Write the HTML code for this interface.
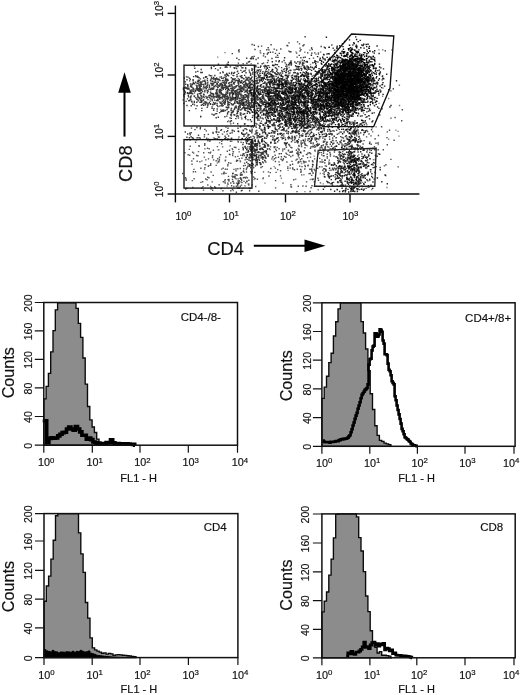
<!DOCTYPE html>
<html lang="en"><head><meta charset="utf-8"><title>CD4 / CD8 flow cytometry</title>
<style>html,body{margin:0;padding:0;background:#fff}body{width:520px;height:695px;overflow:hidden}svg{display:block;filter:grayscale(1)}text{font-family:'Liberation Sans', Arial, Helvetica, sans-serif;fill:#111;stroke:#111;stroke-width:.18px}</style></head><body>
<svg width="520" height="695" viewBox="0 0 520 695">
<rect width="520" height="695" fill="#fff"/>
<g id="scatter">
<path d="M358.0 79.5h1.4M362.2 76.4h1.4M341.6 78.9h1.4M345.8 88.7h1.4M336.2 80.0h1.4M334.0 86.9h1.4M359.7 79.1h1.4M349.0 58.4h1.4M369.7 89.5h1.4M349.0 85.8h1.4M346.3 69.5h1.4M359.1 74.8h1.4M367.4 80.6h1.4M351.7 90.8h1.4M339.2 74.9h1.4M356.3 69.3h1.4M358.4 98.4h1.4M344.4 82.3h1.4M336.8 100.4h1.4M355.3 96.8h1.4M345.3 101.9h1.4M339.6 77.9h1.4M342.6 93.1h1.4M344.5 72.1h1.4M353.8 76.2h1.4M350.9 80.2h1.4M352.3 113.1h1.4M355.1 86.3h1.4M336.0 74.3h1.4M354.6 77.0h1.4M353.4 99.7h1.4M353.0 84.9h1.4M356.5 92.8h1.4M342.6 86.7h1.4M345.5 61.3h1.4M356.2 90.3h1.4M340.6 75.3h1.4M333.8 60.7h1.4M357.9 87.6h1.4M343.5 77.2h1.4M348.1 75.3h1.4M337.9 73.2h1.4M334.1 90.2h1.4M340.2 73.7h1.4M351.9 58.9h1.4M348.5 98.6h1.4M332.4 60.6h1.4M357.8 77.8h1.4M337.4 83.0h1.4M347.7 48.8h1.4M359.4 69.2h1.4M345.6 93.0h1.4M336.7 72.8h1.4M369.4 74.5h1.4M341.9 77.8h1.4M355.2 69.2h1.4M352.1 78.9h1.4M365.8 72.3h1.4M351.3 57.6h1.4M357.4 88.8h1.4M344.4 73.0h1.4M359.2 86.3h1.4M343.9 74.0h1.4M343.0 92.1h1.4M365.9 89.7h1.4M352.7 80.8h1.4M354.6 66.0h1.4M375.1 68.1h1.4M349.2 95.6h1.4M340.2 85.9h1.4M359.5 70.9h1.4M332.7 100.6h1.4M359.2 86.3h1.4M361.2 81.7h1.4M349.6 59.7h1.4M347.1 67.0h1.4M351.0 82.2h1.4M349.3 82.3h1.4M340.7 78.4h1.4M361.0 59.0h1.4M330.3 78.1h1.4M345.5 80.4h1.4M348.0 71.9h1.4M347.6 78.4h1.4M352.6 80.8h1.4M335.3 89.0h1.4M355.9 79.1h1.4M347.3 82.8h1.4M348.6 60.7h1.4M340.2 65.6h1.4M339.6 74.9h1.4M356.1 69.7h1.4M340.5 79.6h1.4M354.8 63.9h1.4M360.2 80.2h1.4M362.0 72.4h1.4M360.3 98.2h1.4M349.0 72.3h1.4M334.6 96.8h1.4M352.8 106.5h1.4M352.3 82.2h1.4M357.7 92.0h1.4M351.2 75.4h1.4M369.3 51.2h1.4M355.4 90.4h1.4M354.9 87.4h1.4M355.8 76.1h1.4M355.9 72.0h1.4M352.0 80.4h1.4M351.9 80.7h1.4M362.0 70.8h1.4M347.6 69.5h1.4M362.8 95.2h1.4M349.2 78.3h1.4M359.7 79.5h1.4M346.0 91.0h1.4M349.1 73.5h1.4M366.2 93.7h1.4M351.1 64.1h1.4M339.5 71.8h1.4M344.3 74.6h1.4M345.5 84.4h1.4M369.9 84.3h1.4M345.4 104.1h1.4M355.1 94.6h1.4M342.6 70.3h1.4M346.3 106.1h1.4M359.6 68.1h1.4M360.9 104.7h1.4M346.8 65.9h1.4M353.1 90.0h1.4M356.0 68.1h1.4M341.6 73.3h1.4M345.0 97.5h1.4M352.4 60.6h1.4M334.2 53.0h1.4M355.8 79.8h1.4M354.5 82.4h1.4M345.9 78.5h1.4M334.8 86.9h1.4M367.9 66.8h1.4M351.0 85.2h1.4M359.7 80.7h1.4M360.7 91.3h1.4M343.5 84.4h1.4M353.5 96.2h1.4M352.7 60.5h1.4M349.4 79.4h1.4M353.1 64.7h1.4M350.5 77.3h1.4M358.3 89.3h1.4M350.5 82.1h1.4M347.1 84.4h1.4M348.0 76.7h1.4M352.3 83.2h1.4M341.2 79.2h1.4M341.1 94.2h1.4M347.2 87.9h1.4M351.1 54.5h1.4M347.1 86.0h1.4M341.2 89.7h1.4M370.1 78.0h1.4M367.6 62.4h1.4M349.5 97.6h1.4M349.3 80.1h1.4M368.4 91.1h1.4M347.3 101.3h1.4M352.3 67.7h1.4M353.2 78.6h1.4M353.6 77.3h1.4M360.8 90.8h1.4M351.9 71.5h1.4M367.9 89.7h1.4M341.9 77.2h1.4M353.0 93.7h1.4M337.1 90.9h1.4M371.8 64.6h1.4M345.7 83.3h1.4M351.0 73.6h1.4M358.9 80.2h1.4M360.5 86.3h1.4M338.5 81.4h1.4M349.5 68.4h1.4M336.6 78.0h1.4M351.2 79.8h1.4M349.6 77.0h1.4M351.4 61.3h1.4M346.6 66.9h1.4M348.3 71.6h1.4M341.7 83.0h1.4M350.5 96.8h1.4M367.7 68.8h1.4M336.2 60.2h1.4M348.9 79.0h1.4M348.6 69.4h1.4M357.7 68.5h1.4M344.7 64.3h1.4M352.4 65.1h1.4M339.4 80.9h1.4M362.2 59.5h1.4M347.1 94.0h1.4M352.0 65.9h1.4M355.6 72.0h1.4M351.3 65.5h1.4M342.8 49.2h1.4M361.2 59.6h1.4M349.1 93.1h1.4M343.2 99.1h1.4M362.4 69.3h1.4M358.1 93.7h1.4M340.4 75.0h1.4M346.3 64.6h1.4M359.0 102.7h1.4M356.1 108.5h1.4M344.6 72.3h1.4M339.8 74.0h1.4M343.8 79.1h1.4M346.1 75.8h1.4M333.0 84.8h1.4M345.5 97.3h1.4M338.2 76.5h1.4M336.0 87.2h1.4M353.2 101.2h1.4M346.0 69.2h1.4M349.6 78.1h1.4M357.7 73.7h1.4M354.5 92.4h1.4M345.1 85.3h1.4M347.4 90.6h1.4M339.8 87.0h1.4M367.2 79.2h1.4M353.7 89.3h1.4M341.6 70.1h1.4M351.7 73.1h1.4M364.1 52.8h1.4M350.0 96.8h1.4M370.4 70.4h1.4M362.8 82.0h1.4M345.5 76.4h1.4M344.6 96.2h1.4M337.1 80.3h1.4M355.4 68.4h1.4M351.6 78.9h1.4M375.6 83.1h1.4M350.4 81.5h1.4M335.3 57.3h1.4M344.3 76.1h1.4M343.8 106.5h1.4M336.6 83.4h1.4M335.7 101.0h1.4M335.8 119.0h1.4M351.8 85.3h1.4M353.6 59.7h1.4M342.5 74.7h1.4M353.6 94.7h1.4M342.3 88.4h1.4M349.9 61.5h1.4M338.4 72.1h1.4M343.5 74.9h1.4M356.3 79.8h1.4M335.8 73.0h1.4M352.7 66.8h1.4M359.0 72.1h1.4M347.8 73.8h1.4M349.1 91.7h1.4M342.0 68.1h1.4M360.1 89.6h1.4M364.4 65.9h1.4M348.2 94.7h1.4M333.9 75.0h1.4M340.9 75.0h1.4M354.8 97.2h1.4M372.2 59.3h1.4M358.3 59.2h1.4M360.3 86.6h1.4M347.6 65.9h1.4M350.1 72.1h1.4M341.4 111.6h1.4M355.3 75.3h1.4M336.3 74.5h1.4M359.4 78.7h1.4M358.9 94.8h1.4M339.0 78.2h1.4M337.4 76.5h1.4M357.9 62.9h1.4M345.7 71.5h1.4M328.7 71.7h1.4M363.3 59.6h1.4M350.0 85.1h1.4M344.8 81.4h1.4M363.5 106.4h1.4M357.3 57.4h1.4M347.0 63.1h1.4M354.6 65.8h1.4M343.3 66.2h1.4M343.9 74.2h1.4M354.8 75.6h1.4M344.5 79.4h1.4M345.7 79.0h1.4M366.0 80.9h1.4M363.7 59.9h1.4M359.8 72.2h1.4M355.1 79.6h1.4M352.9 86.2h1.4M361.6 89.4h1.4M355.9 56.6h1.4M369.3 75.5h1.4M342.0 74.3h1.4M347.0 81.4h1.4M334.0 88.6h1.4M347.1 77.5h1.4M358.3 67.4h1.4M362.4 86.2h1.4M343.6 78.8h1.4M349.8 80.4h1.4M347.6 75.2h1.4M338.2 96.5h1.4M338.8 77.6h1.4M348.1 88.8h1.4M337.7 61.7h1.4M348.8 87.8h1.4M352.7 70.0h1.4M349.8 56.0h1.4M340.1 79.1h1.4M335.7 81.9h1.4M368.3 79.6h1.4M338.2 74.2h1.4M361.3 94.3h1.4M357.6 73.0h1.4M354.2 50.3h1.4M339.0 78.0h1.4M359.4 82.7h1.4M362.7 95.4h1.4M343.0 71.0h1.4M343.4 93.0h1.4M356.3 94.5h1.4M358.1 61.6h1.4M365.7 94.2h1.4M349.0 62.0h1.4M360.8 59.0h1.4M339.9 71.0h1.4M371.7 75.4h1.4M350.6 50.2h1.4M329.6 74.6h1.4M347.3 84.9h1.4M344.5 94.8h1.4M368.2 81.7h1.4M352.6 57.4h1.4M353.7 65.0h1.4M352.7 91.2h1.4M362.1 92.6h1.4M348.2 83.9h1.4M361.1 76.2h1.4M354.5 81.5h1.4M348.5 74.0h1.4M352.2 73.8h1.4M349.7 81.5h1.4M342.0 75.8h1.4M362.4 77.8h1.4M337.5 75.2h1.4M363.0 73.8h1.4M365.8 55.5h1.4M351.7 69.6h1.4M343.7 74.9h1.4M342.5 98.9h1.4M356.2 73.6h1.4M350.5 104.7h1.4M348.2 96.6h1.4M362.6 68.8h1.4M347.9 66.9h1.4M352.1 80.0h1.4M330.1 95.9h1.4M356.2 84.2h1.4M349.5 86.7h1.4M348.9 68.2h1.4M369.0 50.9h1.4M357.6 76.4h1.4M321.9 80.7h1.4M346.8 92.9h1.4M337.0 74.7h1.4M359.7 82.4h1.4M369.3 98.6h1.4M346.1 74.7h1.4M347.2 92.7h1.4M352.1 62.4h1.4M357.4 64.5h1.4M360.2 64.9h1.4M360.7 86.8h1.4M343.2 68.4h1.4M364.5 83.1h1.4M340.6 80.3h1.4M351.9 82.6h1.4M356.6 97.3h1.4M352.0 98.1h1.4M344.7 64.8h1.4M343.4 78.3h1.4M347.0 73.5h1.4M353.5 64.3h1.4M355.0 102.9h1.4M335.9 84.5h1.4M355.4 76.4h1.4M357.5 73.9h1.4M354.3 83.8h1.4M358.4 65.2h1.4M365.2 78.5h1.4M350.7 94.5h1.4M355.1 91.7h1.4M358.5 68.4h1.4M368.6 75.9h1.4M326.4 97.6h1.4M367.0 63.1h1.4M350.2 69.1h1.4M352.6 59.3h1.4M340.3 80.1h1.4M332.3 76.8h1.4M343.1 91.3h1.4M353.1 42.7h1.4M354.4 81.0h1.4M342.5 53.2h1.4M361.4 89.5h1.4M353.6 76.0h1.4M342.4 98.7h1.4M342.7 80.7h1.4M346.7 62.7h1.4M335.8 91.0h1.4M349.3 62.2h1.4M351.7 73.1h1.4M345.2 90.7h1.4M335.8 80.6h1.4M346.5 82.8h1.4M342.1 75.9h1.4M350.1 84.9h1.4M364.7 92.9h1.4M355.2 83.0h1.4M344.0 90.1h1.4M331.1 90.3h1.4M337.3 74.6h1.4M338.1 61.8h1.4M351.8 99.2h1.4M343.5 75.6h1.4M348.8 86.1h1.4M341.4 88.7h1.4M354.3 66.6h1.4M361.6 87.7h1.4M349.4 56.3h1.4M344.6 86.8h1.4M344.5 70.5h1.4M357.7 82.6h1.4M338.5 84.8h1.4M342.2 67.1h1.4M337.2 76.1h1.4M339.7 66.2h1.4M354.7 79.3h1.4M370.3 98.0h1.4M341.0 76.4h1.4M359.4 79.2h1.4M356.2 65.6h1.4M337.2 86.6h1.4M347.8 77.3h1.4M342.3 99.4h1.4M346.4 67.3h1.4M364.4 96.3h1.4M326.7 96.4h1.4M353.8 79.2h1.4M357.4 63.9h1.4M339.9 96.0h1.4M348.1 92.1h1.4M356.0 89.4h1.4M348.0 92.6h1.4M355.7 73.6h1.4M354.0 89.7h1.4M329.3 81.9h1.4M366.1 73.5h1.4M368.8 93.0h1.4M361.0 74.3h1.4M356.4 92.7h1.4M333.3 89.8h1.4M343.0 101.1h1.4M349.6 51.2h1.4M344.0 80.2h1.4M360.2 76.7h1.4M343.0 75.9h1.4M349.9 75.1h1.4M333.2 72.2h1.4M355.7 52.2h1.4M347.7 91.3h1.4M338.6 96.1h1.4M340.4 88.9h1.4M363.1 99.5h1.4M342.0 64.8h1.4M343.7 64.2h1.4M339.7 88.0h1.4M356.6 98.6h1.4M368.5 87.3h1.4M358.4 60.2h1.4M334.1 112.5h1.4M348.4 69.6h1.4M356.5 94.1h1.4M345.8 61.7h1.4M360.1 95.1h1.4M362.5 84.7h1.4M345.9 97.3h1.4M353.0 91.8h1.4M362.2 61.3h1.4M367.6 70.6h1.4M339.4 80.2h1.4M358.3 91.8h1.4M340.4 101.3h1.4M342.1 80.7h1.4M351.3 78.2h1.4M348.2 78.1h1.4M341.1 76.3h1.4M331.9 88.2h1.4M341.6 76.0h1.4M363.7 81.6h1.4M373.0 65.5h1.4M363.0 54.8h1.4M360.9 82.2h1.4M343.1 86.2h1.4M349.6 78.2h1.4M351.0 86.1h1.4M338.0 84.5h1.4M341.2 75.8h1.4M347.7 91.3h1.4M349.7 68.8h1.4M340.4 76.2h1.4M354.9 75.2h1.4M347.4 79.2h1.4M357.3 89.5h1.4M347.1 89.8h1.4M346.9 79.9h1.4M349.8 85.0h1.4M349.7 74.0h1.4M344.4 75.9h1.4M342.1 94.3h1.4M357.6 78.5h1.4M351.7 96.6h1.4M360.1 88.7h1.4M333.9 77.2h1.4M339.6 103.6h1.4M347.0 75.3h1.4M352.6 76.0h1.4M345.8 78.4h1.4M344.3 81.8h1.4M356.4 84.3h1.4M348.7 90.7h1.4M338.9 78.1h1.4M360.8 88.0h1.4M360.0 78.8h1.4M341.0 91.8h1.4M359.0 76.5h1.4M344.3 73.8h1.4M360.3 82.1h1.4M347.0 82.7h1.4M345.1 68.3h1.4M341.3 98.3h1.4M345.1 69.6h1.4M353.1 74.8h1.4M353.1 74.2h1.4M352.2 72.6h1.4M343.1 84.7h1.4M316.0 71.9h1.4M353.6 69.4h1.4M334.6 67.2h1.4M353.5 75.4h1.4M355.6 100.0h1.4M354.9 71.2h1.4M351.0 61.3h1.4M352.4 63.9h1.4M350.1 74.1h1.4M340.0 96.5h1.4M348.4 63.8h1.4M341.5 77.1h1.4M352.6 113.4h1.4M351.7 72.5h1.4M354.1 99.3h1.4M343.7 93.8h1.4M348.9 86.0h1.4M353.4 60.5h1.4M353.5 83.5h1.4M359.0 76.0h1.4M358.8 55.3h1.4M349.9 55.1h1.4M343.0 76.9h1.4M364.9 84.7h1.4M343.5 93.3h1.4M345.4 85.8h1.4M365.4 75.6h1.4M361.9 75.0h1.4M355.8 77.4h1.4M350.3 63.5h1.4M369.4 93.4h1.4M353.9 79.2h1.4M358.1 69.3h1.4M351.0 69.5h1.4M341.3 60.1h1.4M339.6 69.0h1.4M353.2 82.5h1.4M355.4 73.7h1.4M344.8 90.0h1.4M334.0 96.0h1.4M339.3 66.4h1.4M347.3 77.4h1.4M338.2 69.9h1.4M352.8 101.8h1.4M359.8 85.1h1.4M374.4 92.3h1.4M355.5 90.9h1.4M337.2 105.4h1.4M341.3 79.7h1.4M322.0 57.3h1.4M346.4 71.1h1.4M346.8 84.9h1.4M359.3 80.1h1.4M358.8 69.1h1.4M346.3 114.9h1.4M352.0 79.6h1.4M358.5 72.0h1.4M366.2 72.2h1.4M346.7 52.7h1.4M350.3 61.6h1.4M338.9 70.0h1.4M366.4 77.5h1.4M365.2 70.4h1.4M355.5 86.4h1.4M339.4 75.1h1.4M355.3 66.1h1.4M355.2 51.4h1.4M350.7 79.8h1.4M348.6 77.7h1.4M356.0 76.2h1.4M351.6 59.0h1.4M358.2 80.0h1.4M357.8 58.9h1.4M344.4 89.4h1.4M348.8 79.7h1.4M345.8 79.0h1.4M360.7 69.2h1.4M351.7 63.2h1.4M347.9 97.9h1.4M343.7 88.5h1.4M338.0 69.5h1.4M356.5 88.3h1.4M335.5 94.8h1.4M360.4 65.6h1.4M356.1 72.1h1.4M337.0 67.0h1.4M340.2 81.4h1.4M349.4 62.8h1.4M342.1 78.6h1.4M343.5 60.3h1.4M354.1 91.2h1.4M345.3 88.0h1.4M354.8 75.8h1.4M344.1 85.6h1.4M355.7 69.4h1.4M344.5 72.3h1.4M347.0 89.5h1.4M356.1 78.0h1.4M349.7 82.2h1.4M349.5 64.4h1.4M338.3 83.1h1.4M350.5 83.6h1.4M357.9 62.6h1.4M356.0 47.7h1.4M350.4 49.5h1.4M355.7 78.0h1.4M374.0 80.7h1.4M353.1 56.8h1.4M353.2 80.0h1.4M350.6 91.2h1.4M327.4 69.7h1.4M353.2 71.9h1.4M341.1 86.6h1.4M357.5 102.4h1.4M343.1 95.6h1.4M345.7 66.9h1.4M345.8 86.9h1.4M351.5 79.8h1.4M346.1 73.4h1.4M352.2 69.3h1.4M336.9 78.5h1.4M350.2 70.4h1.4M354.5 91.0h1.4M367.3 87.1h1.4M353.4 92.6h1.4M356.9 63.4h1.4M361.3 80.8h1.4M357.3 89.6h1.4M364.5 86.2h1.4M359.7 83.1h1.4M351.9 68.1h1.4M347.3 98.9h1.4M348.5 91.5h1.4M352.0 83.2h1.4M361.2 45.0h1.4M346.7 63.1h1.4M330.8 73.8h1.4M346.8 66.6h1.4M339.1 45.7h1.4M350.3 80.7h1.4M349.3 82.3h1.4M339.4 57.6h1.4M358.5 72.7h1.4M360.8 70.9h1.4M349.6 84.4h1.4M372.5 56.5h1.4M373.6 59.8h1.4M341.4 67.2h1.4M362.4 71.1h1.4M347.5 105.0h1.4M356.6 70.2h1.4M358.4 82.3h1.4M345.4 70.1h1.4M347.4 67.1h1.4M341.7 79.9h1.4M337.7 97.7h1.4M350.9 72.5h1.4M334.6 83.6h1.4M339.8 79.2h1.4M353.7 86.8h1.4M348.7 81.8h1.4M345.9 108.6h1.4M337.4 57.0h1.4M344.2 72.3h1.4M349.3 61.6h1.4M357.7 51.8h1.4M345.2 75.8h1.4M352.8 103.3h1.4M346.8 89.0h1.4M346.4 93.3h1.4M348.9 84.1h1.4M357.3 78.2h1.4M339.2 102.4h1.4M362.0 75.8h1.4M349.4 98.3h1.4M353.0 74.0h1.4M350.5 79.0h1.4M354.2 82.9h1.4M359.6 80.9h1.4M357.3 86.9h1.4M351.8 86.4h1.4M352.7 101.6h1.4M351.5 78.2h1.4M368.4 56.5h1.4M357.2 51.6h1.4M336.1 55.2h1.4M365.2 71.6h1.4M349.1 86.6h1.4M344.8 55.8h1.4M348.5 77.7h1.4M342.1 76.2h1.4M368.8 86.5h1.4M355.4 77.5h1.4M334.6 79.3h1.4M355.2 79.9h1.4M343.1 90.7h1.4M366.8 87.1h1.4M348.8 45.2h1.4M329.6 72.9h1.4M350.3 80.8h1.4M349.2 69.7h1.4M349.2 67.2h1.4M327.0 86.8h1.4M353.7 81.3h1.4M369.1 69.6h1.4M333.9 69.3h1.4M361.7 78.8h1.4M350.7 55.8h1.4M369.7 92.1h1.4M354.8 77.5h1.4M347.0 83.8h1.4M365.9 60.8h1.4M348.5 104.2h1.4M342.7 84.8h1.4M355.2 86.1h1.4M348.1 67.6h1.4M336.2 65.2h1.4M374.0 64.3h1.4M341.8 97.2h1.4M347.5 66.2h1.4M352.6 82.2h1.4M333.9 82.3h1.4M340.0 67.1h1.4M342.7 88.3h1.4M338.5 103.3h1.4M349.9 82.5h1.4M355.6 99.8h1.4M343.9 84.8h1.4M356.3 73.9h1.4M357.1 74.9h1.4M346.1 54.1h1.4M351.9 80.7h1.4M336.5 95.2h1.4M357.6 90.0h1.4M351.5 90.6h1.4M346.4 93.4h1.4M339.7 68.5h1.4M349.3 86.2h1.4M336.6 101.4h1.4M359.4 70.1h1.4M349.0 78.7h1.4M344.3 70.8h1.4M359.4 78.4h1.4M359.3 71.0h1.4M345.2 75.5h1.4M365.5 64.2h1.4M349.2 71.2h1.4M349.0 71.6h1.4M353.1 72.5h1.4M338.5 94.6h1.4M345.9 78.6h1.4M348.1 80.5h1.4M365.3 78.6h1.4M359.5 98.9h1.4M353.8 55.6h1.4M365.6 80.1h1.4M345.9 93.2h1.4M348.0 100.7h1.4M357.6 83.3h1.4M352.9 79.4h1.4M370.2 92.8h1.4M353.1 76.9h1.4M337.3 82.9h1.4M364.4 73.5h1.4M344.2 85.9h1.4M347.6 77.3h1.4M326.5 57.4h1.4M368.7 46.4h1.4M354.5 92.7h1.4M356.2 85.5h1.4M356.5 90.9h1.4M368.8 71.4h1.4M346.1 92.4h1.4M357.4 86.1h1.4M343.6 76.1h1.4M343.8 89.4h1.4M356.9 92.6h1.4M352.4 84.7h1.4M330.9 101.6h1.4M348.8 97.2h1.4M347.4 82.4h1.4M343.5 73.6h1.4M353.8 81.0h1.4M340.6 99.6h1.4M334.5 79.7h1.4M343.1 64.4h1.4M368.7 74.6h1.4M336.3 74.8h1.4M349.4 89.6h1.4M358.3 70.8h1.4M354.3 86.6h1.4M335.2 89.7h1.4M344.7 87.2h1.4M356.9 59.0h1.4M358.6 76.6h1.4M348.6 60.8h1.4M338.1 80.9h1.4M363.0 67.7h1.4M358.5 88.1h1.4M353.3 80.5h1.4M353.6 43.6h1.4M356.9 68.5h1.4M349.8 84.3h1.4M357.9 80.7h1.4M340.2 70.2h1.4M355.8 62.0h1.4M347.3 83.5h1.4M334.2 97.5h1.4M351.5 81.7h1.4M350.9 77.4h1.4M347.1 75.1h1.4M358.7 61.3h1.4M338.6 69.9h1.4M352.8 66.8h1.4M350.6 92.9h1.4M356.1 66.9h1.4M367.7 52.8h1.4M342.2 64.5h1.4M337.5 70.5h1.4M353.2 76.1h1.4M360.9 55.3h1.4M366.7 94.8h1.4M355.8 80.5h1.4M344.1 69.4h1.4M360.5 69.8h1.4M341.2 81.1h1.4M337.9 69.8h1.4M373.5 87.5h1.4M353.9 76.7h1.4M356.6 81.0h1.4M351.7 93.8h1.4M367.1 82.2h1.4M356.2 66.8h1.4M358.3 93.1h1.4M340.2 78.1h1.4M340.0 65.4h1.4M359.9 95.0h1.4M364.7 78.7h1.4M351.5 92.6h1.4M356.5 63.3h1.4M360.1 47.7h1.4M351.3 49.4h1.4M363.9 84.1h1.4M359.1 69.5h1.4M355.6 77.2h1.4M354.3 77.1h1.4M365.5 59.9h1.4M350.5 95.9h1.4M361.0 65.6h1.4M339.6 75.3h1.4M360.1 60.4h1.4M371.2 80.4h1.4M343.4 85.0h1.4M350.3 73.6h1.4M361.3 70.1h1.4M359.4 79.4h1.4M357.9 72.7h1.4M333.8 80.3h1.4M347.6 106.6h1.4M342.8 62.9h1.4M345.4 66.4h1.4M356.0 76.9h1.4M348.0 75.9h1.4M361.6 66.0h1.4M377.8 91.2h1.4M355.2 88.6h1.4M356.5 81.7h1.4M346.4 59.8h1.4M339.8 94.0h1.4M344.9 59.3h1.4M343.4 84.5h1.4M336.6 89.2h1.4M348.8 59.4h1.4M348.2 78.3h1.4M336.8 92.0h1.4M336.2 78.7h1.4M341.3 62.0h1.4M358.8 63.1h1.4M349.6 83.2h1.4M361.3 74.7h1.4M362.6 70.8h1.4M345.1 85.1h1.4M357.9 74.5h1.4M337.2 74.4h1.4M369.6 90.1h1.4M359.7 86.9h1.4M348.8 76.1h1.4M339.9 74.3h1.4M352.0 85.8h1.4M331.9 78.5h1.4M347.2 61.1h1.4M358.1 76.6h1.4M354.3 66.1h1.4M350.2 60.6h1.4M361.3 72.2h1.4M348.9 45.3h1.4M350.2 89.0h1.4M348.8 65.7h1.4M341.6 79.6h1.4M361.2 54.4h1.4M347.3 52.9h1.4M361.1 107.7h1.4M341.7 88.7h1.4M371.1 73.7h1.4M343.2 64.5h1.4M358.6 69.4h1.4M339.2 75.5h1.4M339.8 68.3h1.4M354.2 69.4h1.4M356.4 80.2h1.4M342.4 61.0h1.4M353.5 109.9h1.4M345.4 67.3h1.4M348.1 91.3h1.4M357.3 65.9h1.4M355.2 81.9h1.4M330.9 84.7h1.4M366.7 76.6h1.4M352.5 90.8h1.4M343.4 88.4h1.4M335.6 95.4h1.4M334.9 73.7h1.4M339.7 67.7h1.4M359.1 65.5h1.4M346.9 78.5h1.4M343.8 61.1h1.4M345.7 76.0h1.4M364.5 82.6h1.4M349.5 69.2h1.4M348.8 62.3h1.4M361.7 85.3h1.4M353.9 81.8h1.4M350.3 79.7h1.4M345.2 74.9h1.4M333.1 85.4h1.4M343.4 61.2h1.4M344.7 81.5h1.4M350.1 70.9h1.4M350.9 89.1h1.4M356.8 74.2h1.4M353.9 72.9h1.4M351.1 83.5h1.4M348.3 48.7h1.4M332.0 67.4h1.4M351.9 53.0h1.4M345.1 62.6h1.4M342.2 84.5h1.4M346.6 81.8h1.4M340.6 68.8h1.4M340.5 74.0h1.4M349.8 76.6h1.4M350.6 81.5h1.4M338.2 99.5h1.4M354.3 81.7h1.4M340.7 105.9h1.4M342.4 70.1h1.4M348.3 87.1h1.4M365.3 91.5h1.4M343.5 78.7h1.4M362.2 76.8h1.4M358.1 99.6h1.4M358.1 104.0h1.4M339.2 89.4h1.4M361.9 109.1h1.4M348.2 90.4h1.4M353.7 56.1h1.4M344.7 90.7h1.4M358.3 70.5h1.4M346.2 95.5h1.4M349.9 73.2h1.4M361.2 84.8h1.4M343.7 76.5h1.4M342.9 67.5h1.4M363.9 56.5h1.4M357.6 76.7h1.4M361.0 78.6h1.4M337.3 87.6h1.4M362.5 72.6h1.4M354.1 81.9h1.4M369.6 71.0h1.4M338.9 75.0h1.4M358.6 55.3h1.4M341.0 102.7h1.4M334.9 77.5h1.4M347.0 64.2h1.4M359.6 84.8h1.4M343.4 86.7h1.4M342.9 79.2h1.4M353.6 97.6h1.4M360.0 78.4h1.4M368.1 48.1h1.4M347.3 60.6h1.4M346.1 91.8h1.4M356.9 91.4h1.4M343.1 81.2h1.4M347.1 62.6h1.4M355.2 90.2h1.4M362.4 90.3h1.4M343.0 63.1h1.4M329.7 59.8h1.4M335.9 78.8h1.4M337.3 89.6h1.4M343.8 97.4h1.4M353.7 88.1h1.4M341.4 106.2h1.4M346.7 66.0h1.4M349.7 86.1h1.4M343.4 68.9h1.4M356.6 53.0h1.4M348.7 60.6h1.4M371.1 99.1h1.4M361.0 68.2h1.4M346.9 60.3h1.4M338.7 84.8h1.4M343.1 88.9h1.4M335.0 74.9h1.4M338.2 96.6h1.4M348.9 56.5h1.4M350.2 111.0h1.4M342.7 90.9h1.4M342.3 79.1h1.4M337.4 77.2h1.4M340.3 72.4h1.4M350.8 73.8h1.4M347.8 79.8h1.4M364.9 65.5h1.4M337.3 103.9h1.4M360.2 80.1h1.4M350.4 87.5h1.4M350.9 75.8h1.4M332.8 69.7h1.4M335.5 86.2h1.4M355.1 87.7h1.4M366.1 70.6h1.4M353.6 73.5h1.4M355.1 88.2h1.4M353.9 49.9h1.4M355.2 46.5h1.4M339.3 94.9h1.4M360.5 76.0h1.4M362.4 45.6h1.4M351.1 66.7h1.4M348.3 73.8h1.4M354.9 81.6h1.4M351.6 85.4h1.4M342.1 78.2h1.4M364.3 88.9h1.4M355.5 68.4h1.4M349.2 82.7h1.4M362.5 86.9h1.4M355.7 95.7h1.4M349.5 77.9h1.4M352.3 90.5h1.4M340.1 77.2h1.4M348.3 62.3h1.4M331.0 67.2h1.4M363.5 73.9h1.4M334.3 68.2h1.4M357.0 78.4h1.4M342.4 77.1h1.4M340.4 79.1h1.4M351.4 67.1h1.4M349.2 92.3h1.4M360.8 61.5h1.4M366.9 81.4h1.4M351.2 88.1h1.4M356.9 86.0h1.4M342.6 84.9h1.4M357.6 77.2h1.4M349.4 87.2h1.4M350.2 61.5h1.4M346.9 87.5h1.4M342.0 107.0h1.4M349.7 87.5h1.4M347.2 104.7h1.4M345.7 76.8h1.4M347.4 61.9h1.4M359.6 70.9h1.4M330.3 90.8h1.4M342.2 85.9h1.4M371.0 58.1h1.4M326.8 66.7h1.4M344.2 75.7h1.4M360.5 65.4h1.4M343.9 41.5h1.4M378.9 67.0h1.4M327.2 69.3h1.4M364.9 76.4h1.4M366.9 73.3h1.4M356.8 87.7h1.4M344.8 90.8h1.4M354.0 77.7h1.4M339.0 87.6h1.4M357.7 80.3h1.4M340.6 73.5h1.4M356.2 46.3h1.4M356.7 91.0h1.4M339.8 76.3h1.4M346.6 78.7h1.4M353.5 72.2h1.4M341.8 60.6h1.4M359.5 86.8h1.4M350.8 89.0h1.4M330.9 95.2h1.4M346.8 89.5h1.4M345.3 68.6h1.4M344.6 75.3h1.4M347.7 90.9h1.4M342.7 80.6h1.4M359.5 79.5h1.4M345.8 69.2h1.4M357.4 87.7h1.4M349.2 80.7h1.4M352.0 103.3h1.4M341.5 91.2h1.4M351.5 55.2h1.4M332.3 103.2h1.4M354.6 83.3h1.4M359.9 76.9h1.4M368.6 87.6h1.4M359.5 91.2h1.4M352.6 78.9h1.4M348.5 77.0h1.4M353.8 79.5h1.4M343.7 101.9h1.4M363.4 83.0h1.4M356.2 91.0h1.4M340.9 82.6h1.4M345.0 72.8h1.4M365.3 72.5h1.4M356.5 66.6h1.4M346.6 83.4h1.4M364.6 68.4h1.4M351.0 61.2h1.4M351.9 62.0h1.4M351.1 58.2h1.4M332.0 74.6h1.4M357.8 81.9h1.4M342.3 63.8h1.4M340.5 93.9h1.4M344.4 72.9h1.4M355.3 86.2h1.4M348.6 82.1h1.4M344.6 100.2h1.4M332.0 85.0h1.4M349.6 77.6h1.4M340.1 62.3h1.4M356.8 65.3h1.4M353.6 79.4h1.4M349.7 79.9h1.4M366.3 93.4h1.4M356.7 73.6h1.4M355.1 82.2h1.4M353.9 69.9h1.4M354.9 54.2h1.4M359.3 80.3h1.4M355.4 99.7h1.4M335.6 85.5h1.4M355.1 99.1h1.4M351.0 94.4h1.4M363.9 62.8h1.4M355.6 75.7h1.4M333.8 94.3h1.4M342.0 66.1h1.4M371.6 65.6h1.4M351.6 82.8h1.4M335.1 82.8h1.4M352.5 82.8h1.4M348.2 72.9h1.4M335.8 64.6h1.4M333.6 56.5h1.4M340.0 57.7h1.4M357.1 62.7h1.4M354.8 59.6h1.4M350.5 68.3h1.4M347.8 98.2h1.4M355.6 80.7h1.4M332.3 68.2h1.4M346.4 81.8h1.4M346.1 63.6h1.4M337.9 79.2h1.4M342.2 88.2h1.4M354.4 58.4h1.4M350.4 68.2h1.4M337.9 71.1h1.4M349.3 64.2h1.4M372.7 68.6h1.4M342.0 70.5h1.4M326.4 105.4h1.4M350.7 87.0h1.4M354.4 84.9h1.4M351.3 91.5h1.4M340.9 72.2h1.4M363.8 64.4h1.4M341.6 81.9h1.4M336.1 89.5h1.4M352.0 49.6h1.4M347.9 83.1h1.4M352.7 95.3h1.4M357.1 75.9h1.4M351.8 71.9h1.4M356.6 89.0h1.4M354.0 67.4h1.4M357.0 86.1h1.4M334.4 86.1h1.4M336.7 71.3h1.4M360.3 69.4h1.4M335.5 82.3h1.4M348.9 72.4h1.4M349.3 78.5h1.4M355.9 39.5h1.4M343.9 85.6h1.4M368.1 62.9h1.4M327.1 72.0h1.4M358.2 81.3h1.4M374.1 73.7h1.4M353.8 65.9h1.4M354.8 60.9h1.4M358.3 75.0h1.4M365.2 89.8h1.4M337.7 81.6h1.4M353.1 71.1h1.4M350.8 69.5h1.4M360.5 60.6h1.4M353.4 72.4h1.4M360.3 65.3h1.4M351.9 56.7h1.4M351.5 75.5h1.4M339.2 95.2h1.4M340.3 91.2h1.4M344.2 95.9h1.4M354.8 56.4h1.4M336.8 85.7h1.4M369.2 65.3h1.4M351.3 69.5h1.4M343.8 51.7h1.4M364.1 67.1h1.4M343.3 77.0h1.4M354.5 81.4h1.4M350.6 76.3h1.4M353.4 75.8h1.4M350.2 84.8h1.4M345.1 76.5h1.4M356.5 56.6h1.4M363.2 104.7h1.4M330.9 68.6h1.4M347.9 89.5h1.4M355.1 76.1h1.4M343.8 64.0h1.4M337.7 74.9h1.4M373.0 72.7h1.4M341.5 97.3h1.4M373.4 68.2h1.4M353.3 86.7h1.4M353.4 69.6h1.4M355.5 76.3h1.4M347.3 112.8h1.4M358.7 90.3h1.4M355.3 75.7h1.4M357.3 57.6h1.4M353.1 74.2h1.4M363.8 77.5h1.4M353.1 97.9h1.4M346.3 56.4h1.4M351.0 52.4h1.4M353.6 77.9h1.4M344.0 78.8h1.4M341.4 97.7h1.4M344.8 63.6h1.4M357.5 41.6h1.4M356.9 69.2h1.4M364.0 63.5h1.4M352.5 70.5h1.4M366.1 95.4h1.4M354.5 59.9h1.4M375.5 101.5h1.4M359.0 82.7h1.4M356.0 75.1h1.4M349.0 64.8h1.4M326.0 65.1h1.4M350.4 72.1h1.4M349.5 87.9h1.4M363.6 99.0h1.4M338.1 73.3h1.4M365.5 91.4h1.4M343.6 93.9h1.4M352.7 95.8h1.4M325.5 77.6h1.4M345.3 102.0h1.4M342.6 94.2h1.4M351.0 100.5h1.4M352.0 75.3h1.4M341.4 69.4h1.4M366.2 53.7h1.4M351.6 98.7h1.4M353.6 87.8h1.4M362.9 68.1h1.4M359.8 83.0h1.4M349.2 81.7h1.4M344.0 51.9h1.4M336.6 78.5h1.4M358.8 95.9h1.4M352.4 96.4h1.4M352.6 73.4h1.4M347.6 72.5h1.4M346.0 95.5h1.4M347.3 90.4h1.4M349.3 69.7h1.4M346.1 68.3h1.4M368.1 91.2h1.4M354.8 69.9h1.4M346.9 68.6h1.4M332.3 97.5h1.4M342.8 79.8h1.4M358.6 73.9h1.4M355.5 86.8h1.4M341.0 104.9h1.4M350.0 81.3h1.4M350.3 66.9h1.4M345.9 54.2h1.4M354.8 109.3h1.4M363.1 44.3h1.4M369.3 98.3h1.4M346.9 63.2h1.4M353.6 61.1h1.4M362.0 66.9h1.4M348.8 74.9h1.4M333.7 89.2h1.4M344.0 67.0h1.4M348.9 87.1h1.4M344.8 111.2h1.4M359.5 40.4h1.4M362.2 70.7h1.4M366.0 56.2h1.4M350.3 90.2h1.4M355.9 58.4h1.4M353.7 56.1h1.4M361.0 58.6h1.4M358.9 80.0h1.4M346.9 93.3h1.4M354.0 80.9h1.4M339.8 105.4h1.4M331.6 96.2h1.4M341.6 73.8h1.4M354.1 92.3h1.4M354.0 80.7h1.4M364.7 82.8h1.4M357.8 52.5h1.4M363.0 62.7h1.4M362.5 81.3h1.4M363.8 64.2h1.4M342.2 86.2h1.4M347.6 81.4h1.4M354.9 65.9h1.4M337.1 91.3h1.4M353.9 82.3h1.4M355.3 97.2h1.4M346.5 74.8h1.4M374.3 61.1h1.4M345.2 86.6h1.4M349.4 74.1h1.4M345.2 88.6h1.4M340.0 90.7h1.4M350.0 94.6h1.4M355.8 58.6h1.4M374.0 50.8h1.4M357.8 72.7h1.4M352.9 88.2h1.4M350.9 67.8h1.4M336.4 78.4h1.4M352.5 66.8h1.4M343.7 71.6h1.4M360.2 76.2h1.4M352.3 69.5h1.4M363.8 89.2h1.4M355.8 84.6h1.4M352.2 102.0h1.4M351.1 83.8h1.4M347.4 96.6h1.4M356.0 81.0h1.4M355.6 92.3h1.4M344.3 74.4h1.4M356.6 72.8h1.4M369.6 102.5h1.4M346.8 87.9h1.4M344.9 89.2h1.4M346.8 66.1h1.4M343.2 51.7h1.4M364.4 69.3h1.4M349.8 82.2h1.4M358.4 59.1h1.4M362.1 101.8h1.4M378.8 64.1h1.4M340.1 83.9h1.4M350.5 116.3h1.4M365.5 44.5h1.4M359.7 57.9h1.4M351.3 92.1h1.4M350.9 75.2h1.4M364.4 84.2h1.4M356.5 77.7h1.4M348.5 97.7h1.4M359.6 89.5h1.4M360.4 73.6h1.4M355.5 75.7h1.4M357.7 62.7h1.4M366.9 80.8h1.4M363.4 48.1h1.4M347.2 86.6h1.4M343.6 72.0h1.4M340.7 101.6h1.4M336.5 91.3h1.4M356.2 60.4h1.4M349.6 90.4h1.4M333.6 65.5h1.4M350.5 78.4h1.4M352.8 92.7h1.4M350.8 82.5h1.4M340.0 81.9h1.4M360.5 87.0h1.4M346.8 66.0h1.4M341.5 66.0h1.4M338.6 82.4h1.4M347.2 89.3h1.4M360.5 76.2h1.4M360.9 81.7h1.4M356.0 64.6h1.4M348.8 39.9h1.4M347.4 64.9h1.4M342.2 75.8h1.4M348.3 79.3h1.4M331.2 84.3h1.4M348.4 89.6h1.4M352.9 92.2h1.4M347.8 82.3h1.4M353.2 84.2h1.4M344.5 65.5h1.4M335.8 79.1h1.4M344.0 78.5h1.4M356.9 96.2h1.4M365.7 58.6h1.4M348.1 69.8h1.4M367.8 57.1h1.4M350.3 66.3h1.4M369.6 61.8h1.4M354.1 81.9h1.4M348.9 67.0h1.4M367.3 44.2h1.4M339.1 91.6h1.4M346.0 59.9h1.4M343.1 51.8h1.4M354.3 72.6h1.4M352.7 67.4h1.4M354.3 60.6h1.4M344.4 85.2h1.4M365.2 75.6h1.4M343.5 88.0h1.4M341.4 84.7h1.4M359.7 88.8h1.4M363.0 82.9h1.4M354.1 76.4h1.4M336.2 67.2h1.4M339.9 94.9h1.4M363.2 52.6h1.4M354.8 62.1h1.4M367.4 71.6h1.4M336.7 78.9h1.4M356.4 80.4h1.4M346.7 68.6h1.4M364.1 75.3h1.4M343.8 99.8h1.4M362.6 70.1h1.4M355.0 36.9h1.4M331.0 98.7h1.4M343.9 61.5h1.4M346.3 71.1h1.4M340.7 76.5h1.4M366.4 62.1h1.4M358.5 96.6h1.4M353.6 76.0h1.4M346.3 55.4h1.4M348.7 79.8h1.4M342.7 81.4h1.4M364.3 79.5h1.4M351.8 84.2h1.4M360.5 58.0h1.4M343.6 88.7h1.4M335.2 60.9h1.4M338.9 92.4h1.4M342.7 65.8h1.4M353.5 79.8h1.4M342.1 112.4h1.4M343.1 75.6h1.4M343.1 90.8h1.4M363.3 87.3h1.4M347.2 54.5h1.4M338.1 90.2h1.4M344.6 91.2h1.4M349.3 56.5h1.4M347.0 74.9h1.4M360.9 58.1h1.4M367.6 77.4h1.4M331.0 85.0h1.4M350.1 78.3h1.4M355.3 61.1h1.4M353.1 64.7h1.4M348.8 77.0h1.4M347.6 76.0h1.4M359.3 81.5h1.4M344.2 84.1h1.4M356.3 51.3h1.4M350.5 77.4h1.4M347.4 92.9h1.4M347.2 83.5h1.4M362.3 70.2h1.4M352.7 68.9h1.4M351.6 79.8h1.4M347.6 86.3h1.4M341.4 74.7h1.4M336.9 97.9h1.4M336.2 92.4h1.4M355.1 67.3h1.4M342.2 82.2h1.4M342.1 69.9h1.4M357.1 61.8h1.4M357.7 70.1h1.4M334.4 72.9h1.4M373.6 53.1h1.4M353.2 68.6h1.4M348.3 82.0h1.4M362.9 70.3h1.4M352.6 72.2h1.4M341.9 87.5h1.4M370.9 81.9h1.4M340.0 77.1h1.4M342.5 103.6h1.4M357.7 81.9h1.4M339.7 78.7h1.4M348.0 83.1h1.4M348.1 100.5h1.4M371.3 88.2h1.4M342.2 75.8h1.4M350.4 76.0h1.4M352.5 94.3h1.4M353.5 69.2h1.4M335.1 90.8h1.4M353.4 81.5h1.4M356.2 60.3h1.4M352.1 87.9h1.4M359.0 87.1h1.4M363.7 65.6h1.4M352.9 83.6h1.4M352.3 82.2h1.4M341.2 71.8h1.4M353.0 63.1h1.4M344.6 107.6h1.4M343.8 87.6h1.4M347.8 91.2h1.4M339.0 90.0h1.4M361.5 92.7h1.4M367.2 94.0h1.4M348.0 72.5h1.4M351.0 90.4h1.4M348.8 75.3h1.4M363.5 75.2h1.4M351.9 88.3h1.4M351.7 75.9h1.4M354.3 55.1h1.4M352.8 73.5h1.4M339.0 83.6h1.4M356.5 80.0h1.4M340.7 88.0h1.4M356.4 75.2h1.4M354.8 66.3h1.4M357.6 91.1h1.4M349.6 80.2h1.4M363.9 65.2h1.4M340.3 81.9h1.4M356.8 76.5h1.4M344.8 90.6h1.4M349.4 88.9h1.4M349.3 84.5h1.4M366.7 51.4h1.4M330.5 77.9h1.4M351.6 85.2h1.4M334.8 81.2h1.4M361.0 82.6h1.4M334.7 64.1h1.4M342.0 72.6h1.4M342.3 46.6h1.4M366.3 78.7h1.4M343.7 55.5h1.4M352.5 74.2h1.4M347.7 68.3h1.4M328.9 91.9h1.4M347.0 78.3h1.4M356.3 80.0h1.4M348.0 80.2h1.4M351.6 107.9h1.4M350.3 65.1h1.4M349.2 82.6h1.4M345.4 82.3h1.4M352.8 81.7h1.4M367.1 85.1h1.4M355.2 73.1h1.4M347.8 94.6h1.4M341.6 88.1h1.4M344.6 71.9h1.4M364.4 79.2h1.4M339.0 79.7h1.4M340.1 82.7h1.4M346.7 88.1h1.4M346.4 77.2h1.4M372.6 66.9h1.4M325.1 85.5h1.4M359.1 58.5h1.4M360.0 68.2h1.4M338.6 80.7h1.4M347.3 65.7h1.4M349.3 97.7h1.4M359.4 104.1h1.4M337.5 92.1h1.4M334.6 79.0h1.4M358.3 84.1h1.4M362.7 88.0h1.4M347.8 75.4h1.4M322.7 99.9h1.4M365.6 74.6h1.4M343.7 95.5h1.4M358.5 88.9h1.4M348.7 82.8h1.4M343.0 91.7h1.4M341.6 94.3h1.4M360.5 94.2h1.4M363.6 81.2h1.4M332.9 64.6h1.4M343.9 67.8h1.4M363.3 94.8h1.4M344.4 86.9h1.4M334.8 86.2h1.4M352.1 71.6h1.4M342.4 103.8h1.4M353.9 61.1h1.4M344.4 82.6h1.4M344.9 87.0h1.4M347.5 72.0h1.4M357.2 64.9h1.4M344.2 71.0h1.4M351.5 63.1h1.4M349.6 75.4h1.4M366.8 64.7h1.4M358.3 62.2h1.4M349.1 78.5h1.4M360.4 60.1h1.4M354.8 76.4h1.4M360.8 79.0h1.4M351.9 90.8h1.4M366.0 85.7h1.4M365.6 70.7h1.4M345.5 94.5h1.4M349.0 68.0h1.4M359.8 75.1h1.4M356.2 75.2h1.4M341.9 106.0h1.4M336.6 75.2h1.4M336.0 64.5h1.4M351.0 88.3h1.4M357.9 78.2h1.4M349.6 110.5h1.4M341.0 65.6h1.4M357.7 88.7h1.4M348.6 64.8h1.4M347.6 102.5h1.4M356.7 69.5h1.4M342.3 78.6h1.4M347.9 65.5h1.4M328.2 84.5h1.4M339.9 83.3h1.4M341.8 43.8h1.4M351.6 89.4h1.4M348.6 86.9h1.4M357.9 83.4h1.4M350.2 91.7h1.4M348.8 60.4h1.4M359.7 55.9h1.4M344.5 85.7h1.4M350.1 101.5h1.4M357.5 63.0h1.4M345.3 60.6h1.4" stroke="#000" stroke-opacity="0.95" stroke-width="1.40" fill="none"/>
<path d="M335.6 83.6h1.4M368.2 83.3h1.4M341.4 74.8h1.4M346.6 98.0h1.4M322.3 81.5h1.4M349.1 68.6h1.4M346.5 85.4h1.4M330.8 70.5h1.4M343.5 86.9h1.4M371.9 79.1h1.4M330.1 73.2h1.4M374.8 83.9h1.4M357.3 69.8h1.4M346.6 94.1h1.4M357.2 82.5h1.4M336.8 83.4h1.4M325.3 88.9h1.4M325.7 69.4h1.4M322.9 87.5h1.4M344.5 73.9h1.4M353.7 107.8h1.4M358.0 95.2h1.4M345.2 63.7h1.4M298.9 125.7h1.4M348.4 87.8h1.4M311.2 99.5h1.4M347.8 92.0h1.4M333.8 105.4h1.4M339.6 80.0h1.4M361.3 72.3h1.4M316.5 105.3h1.4M338.0 74.2h1.4M342.0 90.9h1.4M311.9 104.0h1.4M347.3 73.8h1.4M336.6 77.4h1.4M336.2 96.2h1.4M336.9 105.1h1.4M329.8 81.1h1.4M319.2 113.3h1.4M328.7 98.4h1.4M340.4 98.5h1.4M344.2 105.6h1.4M334.4 77.7h1.4M324.7 95.7h1.4M346.2 75.8h1.4M328.3 81.7h1.4M334.8 124.6h1.4M335.9 106.7h1.4M323.6 69.9h1.4M358.2 85.5h1.4M345.6 76.8h1.4M344.8 105.0h1.4M342.9 88.8h1.4M344.1 83.9h1.4M374.8 71.4h1.4M335.0 98.2h1.4M349.5 84.1h1.4M351.8 78.8h1.4M326.2 94.9h1.4M348.5 92.5h1.4M336.6 72.8h1.4M334.7 92.2h1.4M350.0 81.4h1.4M354.6 72.8h1.4M364.8 86.8h1.4M330.0 74.0h1.4M342.4 81.8h1.4M372.7 56.5h1.4M328.6 104.5h1.4M342.2 80.3h1.4M356.2 80.6h1.4M347.0 91.3h1.4M341.0 62.7h1.4M347.9 91.9h1.4M348.5 72.1h1.4M360.2 73.4h1.4M337.8 88.6h1.4M350.7 96.0h1.4M346.3 97.4h1.4M348.1 113.1h1.4M342.9 90.3h1.4M321.0 92.4h1.4M350.1 75.2h1.4M373.1 80.6h1.4M379.8 92.1h1.4M364.3 80.6h1.4M322.9 89.7h1.4M367.6 77.6h1.4M332.6 97.5h1.4M341.4 88.9h1.4M365.6 62.4h1.4M307.5 66.9h1.4M351.4 73.9h1.4M353.8 98.2h1.4M341.1 91.9h1.4M312.9 69.1h1.4M348.6 84.3h1.4M321.8 69.8h1.4M372.2 102.7h1.4M362.4 79.3h1.4M312.1 85.8h1.4M339.7 102.2h1.4M331.5 81.4h1.4M327.5 105.4h1.4M324.7 98.3h1.4M335.1 72.9h1.4M343.4 97.9h1.4M306.9 86.6h1.4M343.0 109.1h1.4M350.5 84.1h1.4M316.0 86.4h1.4M314.9 74.3h1.4M378.1 93.3h1.4M372.7 93.8h1.4M307.9 87.3h1.4M332.5 120.1h1.4M349.1 86.6h1.4M321.9 96.0h1.4M337.5 89.2h1.4M333.1 88.8h1.4M360.8 100.3h1.4M303.6 112.6h1.4M294.8 85.5h1.4M337.5 124.4h1.4M364.0 89.6h1.4M332.0 76.2h1.4M312.9 99.1h1.4M343.3 72.6h1.4M353.4 82.2h1.4M340.9 95.0h1.4M338.5 93.9h1.4M344.6 76.8h1.4M355.2 67.4h1.4M350.3 96.9h1.4M349.6 82.0h1.4M357.0 115.7h1.4M330.4 81.6h1.4M333.2 105.8h1.4M346.3 86.3h1.4M332.0 81.5h1.4M347.7 106.7h1.4M357.4 81.1h1.4M343.3 72.8h1.4M353.3 76.3h1.4M324.6 114.5h1.4M342.1 68.1h1.4M342.5 110.0h1.4M334.2 103.6h1.4M326.8 92.3h1.4M370.4 93.6h1.4M367.2 101.8h1.4M335.0 101.7h1.4M325.5 100.3h1.4M355.2 110.3h1.4M345.3 110.3h1.4M361.4 61.8h1.4M317.8 98.6h1.4M312.0 101.9h1.4M335.1 85.3h1.4M331.7 69.7h1.4M350.4 97.8h1.4M354.3 82.2h1.4M375.0 70.5h1.4M346.6 108.2h1.4M329.5 86.0h1.4M314.2 103.1h1.4M347.7 89.1h1.4M352.3 75.1h1.4M337.2 89.0h1.4M365.8 86.7h1.4M342.4 87.6h1.4M375.0 90.6h1.4M341.9 75.9h1.4M326.9 100.0h1.4M322.0 76.3h1.4M317.3 100.4h1.4M310.0 95.1h1.4M355.8 102.2h1.4M360.8 89.3h1.4M376.0 76.6h1.4M354.1 111.0h1.4M348.5 107.7h1.4M329.8 106.8h1.4M352.5 70.7h1.4M337.9 66.8h1.4M332.5 93.0h1.4M350.2 77.5h1.4M346.2 75.0h1.4M310.8 101.3h1.4M341.9 61.1h1.4M354.6 105.0h1.4M327.8 77.6h1.4M330.8 83.5h1.4M373.3 79.2h1.4M354.4 54.3h1.4M377.0 82.8h1.4M330.7 109.8h1.4M329.6 90.1h1.4M348.5 66.6h1.4M319.8 93.1h1.4M317.7 71.8h1.4M323.7 121.2h1.4M371.3 72.0h1.4M353.4 69.4h1.4M342.7 72.7h1.4M349.5 93.1h1.4M346.1 110.2h1.4M326.8 76.0h1.4M347.5 75.4h1.4M318.4 72.8h1.4M365.9 85.2h1.4M335.4 94.4h1.4M344.4 123.6h1.4M361.4 74.8h1.4M336.7 83.9h1.4M345.6 74.3h1.4M341.6 102.2h1.4M295.4 88.2h1.4M355.9 92.3h1.4M322.8 103.2h1.4M355.3 72.0h1.4M311.4 90.9h1.4M320.4 117.8h1.4M360.0 108.1h1.4M345.5 78.7h1.4M347.4 93.6h1.4M335.5 120.4h1.4M351.4 72.4h1.4M317.4 98.1h1.4M326.1 77.2h1.4M328.7 93.3h1.4M335.5 90.4h1.4M352.3 75.2h1.4M326.9 84.6h1.4M339.5 63.4h1.4M343.2 65.2h1.4M308.4 91.4h1.4M328.4 106.4h1.4M332.4 85.2h1.4M326.7 82.8h1.4M351.5 93.3h1.4M315.9 112.3h1.4M347.9 72.2h1.4M349.1 73.6h1.4M344.1 97.7h1.4M323.0 105.0h1.4M336.1 77.6h1.4M335.3 95.8h1.4M350.6 82.5h1.4M348.6 102.5h1.4M347.2 70.7h1.4M341.5 102.8h1.4M367.6 80.4h1.4M298.9 96.3h1.4M333.7 110.2h1.4M356.1 94.8h1.4M309.0 85.3h1.4M367.6 105.9h1.4M314.8 84.8h1.4M336.9 75.8h1.4M325.4 92.2h1.4M340.6 101.5h1.4M348.9 93.7h1.4M339.7 87.8h1.4M345.8 108.4h1.4M378.5 73.6h1.4M352.1 105.2h1.4M347.1 131.7h1.4M357.8 82.1h1.4M336.3 48.6h1.4M357.8 71.4h1.4M362.1 58.5h1.4M328.0 97.6h1.4M359.2 79.7h1.4M350.9 62.5h1.4M333.7 73.6h1.4M343.9 82.5h1.4M293.8 112.6h1.4M314.3 60.7h1.4M376.9 84.1h1.4M314.4 104.5h1.4M333.6 92.7h1.4M348.6 89.1h1.4M343.6 70.0h1.4M367.1 72.7h1.4M322.0 116.9h1.4M350.5 101.1h1.4M358.7 86.1h1.4M319.5 96.3h1.4M335.4 78.1h1.4M380.9 87.6h1.4M366.3 82.7h1.4M347.3 77.8h1.4M285.5 84.2h1.4M333.6 78.2h1.4M334.0 60.2h1.4M346.3 106.5h1.4M342.4 91.0h1.4M384.6 50.9h1.4M336.6 86.4h1.4M345.8 129.5h1.4M354.7 101.2h1.4M327.3 73.8h1.4M336.2 89.1h1.4M331.6 73.2h1.4M341.5 59.2h1.4M347.0 88.1h1.4M341.0 129.4h1.4M351.4 109.0h1.4M349.7 84.3h1.4M331.9 87.4h1.4M361.4 80.2h1.4M361.7 94.2h1.4M315.8 78.3h1.4M333.2 61.3h1.4M368.4 77.5h1.4M352.9 109.0h1.4M357.7 83.0h1.4M342.4 112.9h1.4M314.9 93.2h1.4M354.3 89.4h1.4M357.3 105.6h1.4M357.6 96.4h1.4M338.2 82.3h1.4M353.7 96.5h1.4M329.1 84.1h1.4M338.8 65.5h1.4M358.9 87.2h1.4M351.4 106.5h1.4M361.0 91.6h1.4M305.1 87.8h1.4M336.2 106.2h1.4M369.6 83.7h1.4M366.1 66.2h1.4M327.5 53.8h1.4M347.9 102.0h1.4M328.8 110.8h1.4M351.4 91.1h1.4M341.3 58.7h1.4M307.8 82.2h1.4M358.2 96.0h1.4M355.6 93.9h1.4M352.5 90.4h1.4M322.6 95.0h1.4M353.4 88.2h1.4M314.6 94.5h1.4M362.9 70.6h1.4M337.7 75.6h1.4M325.8 101.8h1.4M359.9 70.5h1.4M367.1 89.9h1.4M337.2 103.1h1.4M370.3 57.7h1.4M340.0 120.8h1.4M338.5 70.7h1.4M363.8 83.2h1.4M314.7 122.4h1.4M367.2 95.6h1.4M324.5 60.0h1.4M349.2 101.1h1.4M334.3 113.5h1.4M357.9 103.6h1.4M308.1 69.2h1.4M321.8 88.0h1.4M334.3 90.8h1.4M319.5 93.3h1.4M376.5 91.2h1.4M316.2 91.2h1.4M339.4 110.7h1.4M341.3 98.1h1.4M331.2 69.1h1.4M346.9 68.0h1.4M351.2 74.6h1.4M338.0 92.0h1.4M343.5 104.3h1.4M341.2 85.3h1.4M361.6 92.4h1.4M341.1 61.3h1.4M311.1 53.1h1.4M307.4 102.2h1.4M378.8 74.7h1.4M354.1 74.7h1.4M338.5 72.5h1.4M350.5 90.4h1.4M348.4 117.8h1.4M325.6 95.7h1.4M331.4 81.6h1.4M332.2 79.0h1.4M347.0 119.2h1.4M319.0 100.6h1.4M341.7 98.8h1.4M360.1 98.7h1.4M342.4 106.4h1.4M335.4 75.8h1.4M316.9 119.1h1.4M345.1 100.8h1.4M343.8 95.5h1.4M330.5 112.2h1.4M310.8 96.3h1.4M347.9 83.3h1.4M325.4 88.5h1.4M355.3 93.5h1.4M330.6 83.3h1.4M354.7 87.5h1.4M328.5 76.8h1.4M317.6 100.0h1.4M337.9 84.1h1.4M336.0 89.5h1.4M353.2 83.8h1.4M333.6 89.7h1.4M334.2 88.7h1.4M339.9 53.4h1.4M368.5 91.9h1.4M349.2 73.1h1.4M356.3 75.5h1.4M342.9 73.2h1.4M361.5 94.0h1.4M348.9 68.3h1.4M352.1 90.9h1.4M351.8 102.7h1.4M356.6 108.1h1.4M346.9 95.9h1.4M329.3 74.6h1.4M346.0 108.0h1.4M350.4 103.7h1.4M352.1 96.7h1.4M330.4 108.6h1.4M311.7 106.9h1.4M342.8 78.7h1.4M325.1 116.5h1.4M355.6 102.2h1.4M336.5 73.3h1.4M366.9 89.6h1.4M369.9 76.2h1.4M354.4 96.3h1.4M335.5 96.6h1.4M332.1 113.1h1.4M337.4 108.5h1.4M349.3 99.3h1.4M299.5 88.9h1.4M349.4 98.1h1.4M342.3 88.9h1.4M343.7 67.8h1.4M342.2 100.3h1.4M333.5 69.6h1.4M337.3 106.4h1.4M347.5 114.3h1.4M310.7 97.7h1.4M350.9 99.0h1.4M369.6 80.1h1.4M349.5 95.2h1.4M337.8 67.5h1.4M331.4 104.9h1.4M365.5 77.1h1.4M335.7 104.7h1.4M354.7 81.2h1.4M352.0 101.4h1.4M329.3 100.5h1.4M363.2 87.8h1.4M352.6 105.8h1.4M346.3 89.1h1.4M356.6 97.1h1.4M343.5 91.4h1.4M340.2 98.5h1.4M345.6 77.4h1.4M341.7 102.0h1.4M352.3 103.5h1.4M331.2 93.3h1.4M324.9 112.0h1.4M334.9 99.9h1.4M326.3 78.6h1.4M345.1 92.8h1.4M370.5 94.7h1.4M312.3 97.4h1.4M331.0 64.4h1.4M309.3 110.9h1.4M321.2 89.6h1.4M348.4 117.3h1.4M306.8 108.2h1.4M313.3 105.1h1.4M340.0 79.0h1.4M345.3 90.9h1.4M336.3 82.2h1.4M323.1 84.1h1.4M375.4 68.3h1.4M333.8 79.5h1.4M338.5 113.1h1.4M359.8 58.4h1.4M351.3 82.0h1.4M331.4 83.0h1.4M350.7 60.1h1.4M357.0 108.3h1.4M336.8 55.8h1.4M356.6 104.9h1.4M315.8 79.7h1.4M358.1 80.9h1.4M361.4 115.9h1.4M310.9 70.4h1.4M320.3 77.8h1.4M366.8 96.6h1.4M337.8 94.0h1.4M339.0 81.1h1.4M352.2 82.2h1.4M337.2 75.0h1.4M319.4 103.8h1.4M363.2 101.8h1.4M354.1 75.1h1.4M356.8 82.4h1.4M376.3 89.2h1.4M362.6 110.5h1.4M350.1 74.0h1.4M369.3 78.0h1.4M333.6 83.9h1.4M364.6 64.6h1.4M366.4 67.8h1.4M349.8 73.4h1.4M358.2 49.9h1.4M340.9 55.5h1.4M323.2 87.1h1.4M361.0 79.9h1.4M356.3 101.0h1.4M344.8 78.0h1.4M343.4 84.9h1.4M368.3 84.6h1.4M356.3 92.9h1.4M330.6 93.3h1.4M349.4 83.4h1.4M367.4 105.7h1.4M328.5 90.7h1.4M331.9 86.1h1.4M324.3 71.2h1.4M336.0 99.4h1.4M345.8 82.0h1.4M372.2 103.6h1.4M369.3 67.2h1.4M366.9 88.0h1.4M365.1 91.1h1.4M372.2 99.1h1.4M353.5 59.8h1.4M347.9 111.8h1.4M353.2 82.4h1.4M346.5 84.2h1.4M338.0 85.7h1.4M332.3 87.5h1.4M331.9 88.6h1.4M321.0 61.2h1.4M326.8 106.1h1.4M350.9 84.6h1.4M334.9 76.6h1.4M343.4 86.7h1.4M364.4 114.6h1.4M356.4 86.8h1.4M330.2 88.9h1.4M353.1 111.1h1.4M311.4 92.8h1.4M306.5 106.5h1.4M308.0 98.9h1.4M364.5 71.6h1.4M319.2 114.2h1.4M353.9 91.6h1.4M359.9 65.9h1.4M334.2 90.9h1.4M368.3 74.9h1.4M368.1 66.6h1.4M356.7 79.5h1.4M374.0 57.9h1.4M346.6 73.5h1.4M331.2 95.6h1.4M342.9 70.6h1.4M338.4 97.7h1.4M320.6 97.7h1.4M315.7 88.2h1.4M373.9 59.8h1.4M330.4 87.2h1.4M340.8 86.6h1.4M332.8 95.8h1.4M343.0 84.5h1.4M332.3 79.5h1.4M346.4 110.1h1.4M330.1 110.7h1.4M321.2 102.4h1.4M337.7 107.0h1.4M349.4 89.8h1.4M372.9 66.3h1.4M359.5 79.9h1.4M390.3 105.5h1.4M357.2 96.4h1.4M348.7 102.2h1.4M318.9 95.2h1.4M346.9 95.8h1.4M325.5 136.0h1.4M340.9 96.3h1.4M375.7 87.1h1.4M356.8 101.1h1.4M364.8 86.2h1.4M348.0 111.5h1.4M322.7 103.5h1.4M338.7 98.8h1.4M331.8 83.9h1.4M375.6 74.2h1.4M331.8 96.2h1.4M347.1 108.9h1.4M336.8 83.3h1.4M337.1 91.2h1.4M317.5 89.5h1.4M344.2 87.6h1.4M345.4 80.0h1.4M352.6 91.5h1.4M322.9 97.4h1.4M336.5 81.6h1.4M313.3 100.1h1.4M356.0 78.4h1.4M323.0 90.9h1.4M345.2 102.4h1.4M340.5 100.6h1.4M334.6 95.2h1.4M317.5 82.7h1.4M318.8 110.5h1.4M360.4 56.4h1.4M348.0 88.1h1.4M347.1 86.3h1.4M371.1 61.8h1.4M335.1 78.6h1.4M346.2 74.4h1.4M357.9 113.7h1.4M359.3 74.1h1.4M349.0 81.0h1.4M354.5 97.3h1.4M341.7 95.6h1.4M354.7 98.8h1.4M351.9 62.2h1.4M302.4 93.1h1.4M364.8 131.0h1.4M335.9 91.3h1.4M335.9 87.1h1.4M313.1 107.9h1.4M361.3 93.9h1.4M320.9 80.8h1.4M341.2 93.7h1.4M334.6 92.2h1.4M321.5 111.5h1.4M337.0 94.2h1.4M310.2 98.0h1.4M321.7 85.7h1.4M320.2 60.4h1.4M349.7 100.4h1.4M332.9 69.2h1.4M337.6 84.2h1.4M388.1 89.6h1.4M346.5 78.9h1.4M328.1 106.7h1.4M331.6 90.9h1.4M337.5 102.7h1.4M340.2 90.0h1.4M329.6 87.1h1.4M339.1 112.6h1.4M366.5 69.9h1.4M333.7 70.9h1.4M335.1 87.0h1.4M342.7 97.0h1.4M331.3 76.1h1.4M370.1 85.3h1.4M355.7 93.3h1.4M375.5 104.4h1.4M289.5 108.1h1.4M352.6 93.4h1.4M347.2 57.6h1.4M370.5 65.0h1.4M343.9 89.1h1.4M318.9 108.6h1.4M351.5 82.0h1.4M332.7 92.3h1.4M310.4 96.5h1.4M329.9 88.0h1.4M361.4 82.3h1.4M365.5 84.2h1.4M358.6 89.5h1.4M333.6 109.9h1.4M311.5 76.1h1.4M337.8 82.2h1.4M319.1 99.0h1.4M358.7 68.1h1.4M357.3 97.0h1.4M362.0 89.3h1.4M343.4 85.8h1.4M342.6 90.1h1.4M354.6 102.2h1.4M310.9 100.7h1.4M356.0 75.1h1.4M363.6 91.1h1.4M340.1 97.4h1.4M352.8 105.8h1.4M350.1 89.9h1.4M372.7 83.2h1.4M345.6 77.3h1.4M336.7 75.9h1.4M334.8 92.4h1.4M300.3 68.4h1.4M336.5 98.4h1.4M350.9 99.4h1.4M339.5 91.2h1.4M342.5 84.5h1.4M362.3 94.8h1.4M349.4 83.5h1.4M354.2 97.7h1.4M368.9 109.3h1.4M351.0 95.3h1.4M349.2 99.9h1.4M353.8 89.8h1.4M317.8 106.6h1.4M364.4 80.1h1.4M323.3 100.4h1.4M363.8 93.9h1.4M331.5 67.7h1.4M358.3 74.6h1.4M348.2 95.8h1.4M322.2 85.9h1.4M358.9 76.9h1.4M340.9 77.6h1.4M348.0 92.3h1.4M350.4 97.9h1.4M369.0 96.9h1.4M359.3 86.8h1.4M341.4 76.9h1.4M320.6 105.0h1.4M340.8 98.6h1.4M354.8 104.5h1.4M355.6 45.1h1.4M351.7 89.0h1.4M328.5 66.0h1.4M366.8 86.0h1.4M344.5 94.4h1.4M346.2 94.3h1.4M351.8 97.4h1.4M322.4 106.1h1.4M353.3 71.2h1.4M352.2 88.4h1.4M347.2 105.3h1.4M324.4 96.7h1.4M346.6 86.3h1.4M356.2 60.2h1.4M341.4 108.0h1.4M322.9 91.1h1.4M344.3 74.9h1.4M315.0 96.7h1.4M302.3 97.1h1.4M334.3 88.7h1.4M341.5 109.9h1.4M344.4 100.2h1.4M344.7 110.5h1.4M358.9 103.3h1.4M333.2 78.7h1.4M337.2 99.2h1.4M346.7 110.5h1.4M369.4 110.6h1.4M347.9 61.6h1.4M347.0 62.0h1.4M357.3 87.4h1.4M289.3 113.3h1.4M320.4 84.5h1.4M340.9 95.4h1.4M340.7 76.2h1.4M301.6 74.2h1.4M365.1 74.7h1.4M348.7 86.6h1.4M338.0 101.3h1.4M352.4 98.0h1.4M339.0 93.2h1.4M329.6 91.7h1.4M346.2 75.0h1.4M324.2 71.4h1.4M318.0 95.0h1.4M340.4 105.8h1.4M346.0 96.9h1.4M341.0 122.9h1.4M361.7 74.5h1.4M313.4 75.4h1.4M376.4 82.2h1.4M364.5 92.5h1.4M320.1 81.7h1.4M333.6 66.5h1.4M362.7 79.0h1.4M345.3 98.3h1.4M316.5 84.6h1.4M342.5 82.5h1.4M368.6 60.2h1.4M311.5 86.4h1.4M342.4 66.4h1.4M344.3 89.3h1.4M338.7 84.1h1.4M332.3 82.9h1.4M319.5 58.2h1.4M371.9 100.0h1.4M345.7 70.6h1.4M326.7 94.9h1.4M359.3 59.5h1.4M325.7 104.0h1.4M342.7 62.9h1.4M346.7 87.1h1.4M360.5 74.5h1.4M355.3 95.8h1.4M351.8 64.5h1.4M338.2 79.7h1.4M356.7 75.9h1.4M363.6 110.4h1.4M366.2 49.9h1.4M334.5 97.4h1.4M357.1 68.7h1.4M352.7 87.2h1.4M350.6 94.0h1.4M335.4 94.4h1.4M352.1 86.7h1.4M322.2 104.2h1.4M317.7 92.5h1.4M352.8 78.4h1.4M307.1 80.9h1.4M363.1 70.2h1.4M333.4 80.4h1.4M345.3 82.1h1.4M349.7 95.9h1.4M352.5 88.4h1.4M342.3 95.8h1.4M345.4 104.4h1.4M324.2 59.0h1.4M362.7 83.3h1.4M360.7 76.9h1.4M362.4 74.8h1.4M339.6 67.9h1.4M344.0 96.0h1.4M325.3 116.8h1.4M360.6 94.4h1.4M355.7 78.8h1.4M341.5 99.0h1.4M362.4 91.6h1.4M376.4 98.4h1.4M353.5 101.8h1.4M360.7 79.6h1.4M348.7 85.8h1.4M317.4 105.1h1.4M337.5 94.5h1.4M333.3 84.9h1.4M357.0 92.2h1.4M324.8 86.6h1.4M330.7 81.4h1.4M330.8 100.4h1.4M338.5 80.6h1.4M342.6 83.7h1.4M343.6 52.9h1.4M361.3 90.0h1.4M345.7 85.8h1.4M346.1 83.6h1.4M348.2 92.1h1.4M346.5 88.9h1.4M362.3 64.8h1.4M318.8 134.6h1.4M337.3 83.3h1.4M355.1 96.6h1.4M373.9 99.9h1.4M321.7 89.5h1.4M349.3 85.4h1.4M350.8 69.4h1.4M343.8 104.4h1.4M311.1 100.4h1.4M329.7 76.9h1.4M333.9 114.5h1.4M359.9 92.9h1.4M323.6 84.0h1.4M379.4 86.0h1.4M346.8 88.5h1.4M350.1 128.2h1.4M347.6 113.1h1.4M322.2 90.3h1.4M347.4 80.5h1.4M360.2 63.0h1.4M340.8 90.9h1.4M358.0 79.6h1.4M333.8 104.9h1.4M348.6 85.6h1.4M368.6 48.4h1.4M315.5 89.9h1.4M372.5 93.8h1.4M369.8 91.1h1.4M312.7 102.2h1.4M319.9 98.5h1.4M326.8 94.0h1.4M358.5 78.9h1.4M324.5 70.4h1.4M347.0 99.9h1.4M349.5 72.8h1.4M346.1 88.1h1.4M328.6 53.9h1.4M339.9 93.1h1.4M370.3 93.8h1.4M315.1 66.6h1.4M380.2 91.1h1.4M341.3 96.2h1.4M325.5 85.4h1.4M341.9 61.8h1.4M358.5 97.7h1.4M314.2 108.4h1.4M350.9 92.7h1.4M320.2 96.1h1.4M324.5 84.9h1.4M361.7 91.0h1.4M322.9 83.3h1.4M355.2 95.3h1.4M325.3 70.0h1.4M366.7 58.5h1.4M331.2 70.2h1.4M334.2 114.2h1.4M313.4 75.6h1.4M320.8 81.4h1.4M349.8 94.4h1.4M344.7 90.2h1.4M373.9 105.9h1.4M358.9 108.7h1.4M349.5 93.9h1.4M353.1 93.0h1.4M328.0 65.9h1.4M341.3 73.8h1.4M352.9 76.3h1.4M354.0 78.1h1.4M324.7 75.2h1.4M308.8 91.7h1.4M324.4 84.2h1.4M355.0 98.1h1.4M307.3 115.1h1.4M333.2 87.6h1.4M348.0 80.0h1.4M336.3 96.1h1.4M320.5 88.8h1.4M368.4 68.4h1.4M352.2 53.6h1.4M343.7 98.1h1.4M370.5 87.5h1.4M365.8 80.3h1.4M328.8 103.6h1.4M343.0 121.3h1.4M340.3 92.4h1.4M316.3 80.9h1.4M336.6 73.7h1.4M327.5 108.2h1.4M350.4 100.8h1.4M365.3 87.3h1.4M352.2 96.0h1.4M340.1 92.2h1.4M356.3 55.1h1.4M323.8 86.7h1.4M344.9 56.3h1.4M335.3 85.4h1.4M336.4 68.6h1.4M344.0 88.4h1.4M343.6 84.2h1.4M328.0 63.7h1.4M335.9 103.7h1.4M339.4 102.1h1.4M339.6 66.2h1.4M342.1 90.3h1.4M329.8 106.9h1.4M329.6 90.2h1.4M338.1 104.4h1.4M343.2 90.4h1.4M353.2 99.3h1.4M345.4 89.0h1.4M331.3 91.3h1.4M346.6 93.7h1.4M326.9 109.6h1.4M299.4 116.6h1.4M338.5 82.4h1.4M311.1 92.6h1.4M325.1 91.4h1.4M319.6 91.2h1.4M353.8 84.4h1.4M324.9 100.5h1.4M346.2 84.0h1.4M334.8 91.9h1.4M324.4 100.8h1.4M329.2 121.3h1.4M358.3 98.5h1.4M344.2 76.9h1.4M357.5 85.9h1.4M368.5 67.0h1.4M345.8 83.9h1.4M344.9 82.0h1.4M335.8 80.9h1.4M334.1 69.6h1.4M319.0 60.0h1.4M329.7 98.2h1.4M381.8 84.5h1.4M306.6 93.0h1.4M349.8 91.7h1.4M346.3 78.8h1.4M346.5 89.8h1.4M321.3 86.2h1.4M337.4 86.5h1.4M334.1 90.4h1.4M308.1 67.6h1.4M342.9 90.8h1.4M334.7 89.6h1.4M315.4 61.6h1.4M357.3 89.7h1.4M325.2 96.8h1.4M350.3 86.3h1.4M335.0 97.7h1.4M345.5 78.6h1.4M335.2 73.6h1.4M342.4 80.0h1.4M323.5 91.2h1.4M345.8 122.5h1.4M341.8 118.6h1.4M341.0 80.0h1.4M350.4 75.8h1.4M360.9 82.1h1.4M338.1 99.3h1.4M338.1 78.3h1.4M309.3 89.7h1.4M321.2 132.0h1.4M335.9 108.8h1.4M320.1 74.2h1.4M304.7 79.5h1.4M308.0 93.3h1.4M351.6 85.7h1.4M333.1 101.9h1.4M313.0 98.6h1.4M366.0 46.6h1.4M345.9 89.0h1.4M341.0 98.2h1.4M352.1 81.7h1.4M326.1 88.4h1.4M370.4 80.8h1.4M317.2 100.9h1.4M313.0 85.4h1.4M340.0 90.2h1.4M320.1 78.3h1.4M370.4 87.3h1.4M319.9 108.1h1.4M322.8 81.8h1.4M346.6 88.4h1.4M359.2 98.6h1.4M341.3 51.8h1.4M345.7 83.0h1.4M322.6 72.5h1.4M342.8 84.2h1.4M344.2 62.2h1.4M335.9 89.9h1.4M319.2 60.1h1.4M322.2 71.5h1.4M327.3 86.9h1.4M324.7 99.8h1.4M335.4 97.7h1.4M320.3 107.2h1.4M355.5 99.1h1.4M321.6 111.1h1.4M378.7 78.8h1.4M360.4 60.3h1.4M357.2 76.1h1.4M361.2 130.3h1.4M348.6 122.0h1.4M366.2 87.5h1.4M349.3 95.8h1.4M357.0 95.5h1.4M327.0 89.3h1.4M372.0 103.4h1.4M325.9 90.4h1.4M342.1 86.0h1.4M330.2 131.2h1.4M315.6 67.4h1.4M351.5 88.1h1.4M321.4 70.1h1.4M329.3 83.7h1.4M352.6 79.8h1.4M337.3 84.2h1.4M361.6 79.1h1.4M297.8 99.9h1.4M349.1 81.6h1.4M340.1 68.4h1.4M314.2 97.0h1.4M310.6 82.0h1.4M359.5 88.6h1.4M314.9 81.1h1.4M336.2 102.6h1.4M347.2 77.4h1.4M333.6 87.2h1.4M357.1 98.9h1.4M328.3 97.2h1.4M331.6 61.2h1.4M361.5 84.8h1.4M324.6 48.0h1.4M308.9 111.2h1.4M348.1 77.1h1.4M331.5 69.6h1.4M327.5 97.2h1.4M360.3 71.7h1.4M328.7 129.4h1.4M366.8 65.7h1.4M345.5 118.7h1.4M375.6 91.7h1.4M335.7 80.6h1.4M314.2 89.5h1.4M352.2 104.2h1.4M345.1 83.4h1.4M350.5 85.3h1.4M355.5 75.3h1.4M318.0 80.6h1.4M345.8 78.9h1.4M345.2 69.1h1.4M325.3 70.8h1.4M324.2 92.7h1.4M339.4 119.6h1.4M364.6 102.2h1.4M352.9 80.1h1.4M329.1 97.3h1.4M324.0 106.7h1.4M370.3 94.5h1.4M319.2 106.1h1.4M339.8 80.5h1.4M325.5 90.3h1.4M322.1 118.5h1.4M362.2 120.6h1.4M333.3 81.7h1.4M348.0 48.7h1.4M382.2 78.2h1.4M337.4 88.8h1.4M357.9 80.7h1.4M366.4 94.7h1.4M333.3 93.7h1.4M317.6 78.7h1.4M351.3 48.3h1.4M334.9 90.8h1.4M331.9 73.4h1.4M338.6 94.5h1.4M329.3 72.8h1.4M328.9 89.0h1.4M341.5 62.4h1.4M357.7 72.2h1.4M331.8 85.7h1.4M323.9 108.2h1.4M351.7 105.1h1.4M316.5 99.1h1.4M324.5 82.7h1.4M374.6 102.4h1.4M379.6 72.0h1.4M351.3 92.7h1.4M328.9 105.6h1.4M363.9 100.0h1.4M313.6 121.3h1.4M335.2 103.1h1.4M370.3 84.4h1.4M346.1 70.4h1.4M315.0 92.6h1.4M314.3 101.7h1.4M354.9 81.7h1.4M340.3 88.8h1.4M334.0 97.5h1.4M347.5 84.8h1.4M328.8 87.8h1.4M299.0 84.3h1.4M359.7 91.8h1.4M335.3 101.6h1.4M318.8 85.8h1.4M324.0 106.6h1.4M347.8 91.0h1.4M329.0 96.3h1.4M336.9 58.7h1.4M327.8 74.9h1.4M353.2 70.7h1.4M347.0 112.6h1.4M324.4 82.9h1.4M307.8 101.3h1.4M315.6 83.6h1.4M348.4 75.3h1.4M306.0 72.5h1.4M303.6 60.7h1.4M351.1 93.7h1.4M348.6 84.3h1.4M325.9 86.4h1.4M349.4 100.0h1.4M323.3 115.1h1.4M320.6 63.6h1.4M353.7 77.9h1.4M374.6 87.9h1.4M333.3 81.0h1.4M334.6 86.4h1.4M355.1 96.5h1.4M356.1 74.8h1.4M339.5 68.3h1.4M324.2 86.0h1.4M336.5 67.8h1.4M360.1 86.7h1.4M317.0 72.2h1.4M327.7 113.1h1.4M336.5 62.2h1.4M347.0 85.5h1.4M345.0 60.5h1.4M340.0 83.3h1.4M338.6 107.2h1.4M342.6 106.6h1.4M334.8 114.3h1.4M325.6 95.5h1.4M333.1 94.6h1.4M335.2 95.5h1.4M362.9 86.1h1.4M319.0 93.9h1.4M348.5 102.8h1.4M334.3 97.6h1.4M372.6 89.7h1.4M348.7 92.0h1.4M340.3 100.3h1.4M348.2 71.3h1.4M338.9 82.1h1.4M324.0 75.6h1.4M362.6 70.5h1.4M350.7 79.5h1.4M374.1 83.5h1.4M349.5 61.4h1.4M342.2 85.3h1.4M333.7 114.1h1.4M359.9 95.2h1.4M323.3 54.7h1.4M349.6 78.6h1.4M352.0 107.3h1.4M312.2 62.7h1.4M331.3 107.1h1.4M345.1 69.9h1.4M357.6 70.4h1.4M338.3 93.5h1.4M334.2 59.7h1.4M364.0 78.2h1.4M323.3 87.1h1.4M330.2 81.4h1.4M329.0 107.2h1.4M347.8 90.1h1.4M338.1 99.3h1.4M315.1 102.2h1.4M332.9 80.2h1.4M358.5 82.5h1.4M347.9 110.4h1.4M336.0 94.3h1.4M357.8 93.8h1.4M320.4 96.1h1.4M360.9 120.3h1.4M338.1 61.2h1.4M333.5 102.6h1.4M332.4 102.4h1.4M347.0 89.2h1.4M331.2 74.4h1.4M329.0 75.3h1.4M342.6 83.0h1.4M345.3 87.2h1.4M317.7 80.5h1.4M322.8 80.0h1.4M352.3 91.2h1.4M366.3 91.3h1.4M357.9 68.5h1.4M322.8 86.4h1.4M352.6 68.7h1.4M371.5 113.3h1.4M344.4 94.5h1.4M348.2 82.7h1.4M361.6 93.5h1.4M333.7 112.5h1.4M339.8 63.9h1.4M338.4 88.0h1.4M335.0 84.4h1.4M356.4 73.1h1.4M344.7 64.7h1.4M322.6 91.8h1.4M328.7 76.2h1.4M347.3 90.2h1.4M319.7 101.0h1.4M343.9 61.7h1.4M327.2 66.3h1.4M340.1 80.1h1.4M351.3 93.3h1.4M372.8 78.1h1.4M341.3 86.6h1.4M310.9 48.0h1.4M364.4 65.8h1.4M327.9 82.6h1.4M330.6 88.1h1.4M310.6 84.2h1.4M354.7 72.5h1.4M340.4 76.7h1.4M368.9 118.9h1.4M349.1 95.4h1.4M337.7 86.4h1.4M328.8 94.1h1.4M328.3 93.2h1.4M349.3 86.4h1.4M340.1 81.4h1.4M366.3 73.0h1.4M337.2 107.9h1.4M340.0 102.9h1.4M327.8 100.9h1.4M372.5 92.8h1.4M323.9 101.6h1.4M345.8 68.1h1.4M350.3 52.2h1.4M333.9 79.9h1.4M352.0 80.5h1.4M311.5 111.9h1.4M343.4 105.2h1.4M311.4 95.0h1.4M337.9 75.7h1.4M347.2 97.7h1.4M338.3 109.9h1.4M352.2 73.1h1.4M349.3 89.0h1.4M343.6 110.3h1.4M335.8 96.5h1.4M318.2 100.1h1.4M322.8 62.3h1.4M383.9 86.1h1.4M335.2 102.4h1.4M348.7 85.6h1.4M329.3 86.5h1.4M344.3 64.3h1.4M347.3 82.5h1.4M336.9 88.4h1.4M322.1 117.9h1.4M324.3 76.5h1.4M370.6 95.8h1.4M337.8 90.3h1.4M359.9 97.6h1.4M326.6 79.3h1.4M315.2 108.8h1.4M357.1 99.8h1.4M347.1 86.4h1.4M321.3 73.7h1.4M333.1 86.7h1.4M349.8 92.1h1.4M321.7 74.8h1.4M335.8 65.8h1.4M340.0 92.6h1.4M297.9 96.3h1.4M344.2 97.8h1.4M323.3 77.7h1.4M314.6 71.2h1.4M341.7 74.0h1.4M345.0 111.5h1.4M343.2 71.7h1.4M358.1 77.9h1.4M345.4 89.6h1.4M310.4 89.1h1.4M338.3 108.4h1.4M356.7 81.9h1.4M340.7 95.8h1.4M316.3 73.0h1.4M326.8 65.7h1.4M328.4 47.4h1.4M343.9 82.9h1.4M349.6 79.0h1.4M334.1 104.4h1.4M348.3 109.5h1.4M335.6 86.6h1.4M339.0 84.4h1.4M312.5 112.2h1.4M349.2 109.7h1.4M314.5 88.9h1.4M367.5 83.5h1.4M363.5 70.6h1.4M364.8 68.4h1.4M360.0 91.1h1.4M328.0 81.7h1.4M348.2 65.3h1.4M343.3 98.1h1.4M350.7 81.9h1.4M325.5 92.3h1.4M331.4 91.2h1.4M352.3 90.0h1.4M366.0 67.1h1.4M346.8 97.9h1.4M379.3 73.0h1.4M331.2 115.6h1.4M347.5 99.1h1.4M325.3 93.5h1.4M340.2 90.5h1.4M328.8 84.7h1.4M361.8 125.4h1.4M354.7 76.2h1.4M360.1 86.6h1.4M355.7 103.0h1.4M331.3 70.0h1.4M337.1 75.9h1.4M340.5 81.4h1.4M342.9 69.7h1.4M332.1 71.2h1.4M345.4 76.5h1.4M331.0 116.2h1.4M359.2 90.1h1.4M368.7 72.6h1.4M344.6 86.4h1.4M307.3 78.7h1.4M367.6 84.7h1.4M339.6 96.2h1.4M287.3 100.2h1.4M339.7 92.3h1.4M349.4 79.8h1.4M343.6 77.6h1.4M353.2 63.8h1.4M346.0 73.4h1.4M336.4 74.4h1.4M314.5 111.3h1.4M327.1 102.4h1.4M346.7 90.3h1.4M350.6 79.3h1.4M322.7 91.6h1.4M347.4 119.7h1.4M334.8 59.3h1.4M321.1 120.3h1.4M314.2 109.6h1.4M338.5 90.7h1.4M341.6 78.9h1.4M332.5 89.1h1.4M297.3 92.7h1.4M331.5 69.5h1.4M320.2 98.1h1.4M339.2 60.4h1.4M346.3 99.5h1.4M354.0 99.9h1.4M325.7 37.3h1.4M321.8 72.2h1.4M356.4 83.9h1.4M362.4 79.4h1.4M348.5 85.6h1.4M365.3 81.4h1.4M337.5 103.0h1.4M362.2 90.8h1.4M359.2 108.6h1.4M326.6 96.9h1.4M346.9 99.7h1.4M321.3 71.4h1.4M332.1 91.0h1.4M333.8 71.1h1.4M368.4 96.4h1.4M354.2 120.9h1.4M347.6 93.7h1.4M309.2 83.9h1.4M342.4 85.3h1.4M359.7 77.9h1.4M355.6 83.1h1.4M357.1 97.7h1.4M340.7 104.9h1.4M306.7 62.0h1.4M350.4 106.4h1.4M317.3 93.3h1.4M318.4 91.5h1.4M366.8 97.8h1.4M325.5 92.5h1.4M359.1 54.0h1.4M309.6 83.3h1.4M348.7 84.7h1.4M330.4 110.0h1.4M355.6 105.7h1.4M324.3 94.8h1.4M338.8 81.3h1.4M351.4 110.3h1.4M331.2 85.9h1.4M360.5 102.2h1.4M366.7 77.4h1.4M334.3 96.2h1.4M353.5 76.9h1.4M345.2 90.9h1.4M337.7 82.0h1.4M370.4 59.4h1.4M307.1 105.4h1.4M326.3 85.4h1.4M316.0 107.9h1.4M337.4 91.7h1.4M336.1 86.4h1.4M345.3 81.8h1.4M382.4 94.4h1.4M361.6 76.1h1.4M330.4 84.0h1.4M346.8 79.7h1.4M372.4 81.5h1.4M342.8 83.7h1.4M343.7 84.0h1.4M347.5 80.0h1.4M319.6 103.4h1.4M332.0 100.1h1.4M350.2 90.6h1.4M337.8 61.7h1.4M319.4 82.1h1.4M316.9 56.6h1.4M345.7 99.3h1.4M347.6 103.5h1.4M362.1 98.5h1.4M344.3 88.7h1.4M352.8 101.2h1.4M319.5 99.9h1.4M324.4 95.6h1.4M335.0 64.9h1.4M311.1 91.9h1.4M341.3 77.7h1.4M338.3 105.6h1.4M341.5 116.6h1.4M348.1 76.0h1.4M333.9 98.7h1.4M330.4 99.1h1.4M325.3 83.8h1.4M329.6 65.0h1.4M378.4 53.5h1.4M298.0 88.1h1.4M338.9 83.9h1.4M336.8 88.2h1.4M354.9 77.0h1.4M334.5 89.0h1.4M306.9 116.2h1.4M355.0 63.9h1.4M331.3 109.1h1.4M328.0 66.7h1.4M320.8 100.9h1.4M327.4 102.7h1.4M327.9 82.0h1.4M342.8 59.5h1.4M359.3 88.6h1.4M327.2 84.5h1.4M355.1 93.5h1.4M341.4 101.2h1.4M343.1 86.8h1.4M343.8 86.5h1.4M358.4 95.1h1.4M334.7 98.2h1.4M332.4 77.0h1.4M346.0 88.1h1.4M346.9 94.2h1.4M330.6 97.6h1.4M369.5 74.9h1.4M333.1 90.1h1.4M352.2 79.6h1.4M337.5 74.0h1.4M349.6 58.4h1.4M316.0 122.0h1.4M368.4 61.3h1.4M339.7 92.7h1.4M311.1 79.5h1.4M344.5 88.8h1.4M370.1 57.0h1.4M371.4 121.8h1.4M314.7 85.7h1.4M327.0 79.6h1.4M369.1 88.2h1.4M328.1 115.2h1.4M322.8 62.3h1.4M338.7 93.8h1.4M381.5 79.9h1.4M327.7 74.7h1.4M366.8 85.0h1.4M326.9 87.1h1.4M321.4 82.2h1.4M354.3 74.4h1.4M347.5 76.4h1.4M304.2 85.4h1.4M367.9 111.1h1.4M347.9 76.3h1.4M326.2 83.8h1.4M351.1 97.0h1.4M344.9 84.6h1.4M343.7 109.5h1.4M330.3 89.7h1.4M333.5 98.4h1.4M337.8 91.5h1.4M322.0 101.9h1.4M339.1 85.6h1.4M317.4 99.9h1.4M354.9 108.9h1.4M334.9 79.9h1.4M321.2 90.1h1.4M351.9 75.9h1.4M375.5 78.0h1.4M364.8 81.2h1.4M327.1 112.2h1.4M351.0 59.3h1.4M346.6 89.3h1.4M339.1 86.1h1.4M329.9 89.6h1.4M342.4 90.1h1.4M348.1 50.1h1.4M351.7 86.6h1.4M335.9 93.5h1.4M320.3 75.5h1.4M334.1 90.4h1.4M361.9 102.7h1.4M367.2 66.3h1.4M329.3 105.0h1.4M339.5 85.0h1.4M329.3 80.9h1.4M322.8 82.8h1.4M344.5 79.3h1.4M359.4 99.8h1.4M325.4 111.1h1.4M320.0 88.1h1.4M367.1 90.1h1.4M345.2 83.5h1.4M344.2 74.4h1.4M336.7 97.9h1.4M328.6 79.6h1.4M336.7 63.6h1.4M343.2 109.0h1.4M310.5 74.3h1.4M345.3 94.9h1.4M343.9 60.3h1.4M325.1 96.8h1.4M356.1 76.0h1.4M348.8 76.0h1.4M311.7 67.5h1.4M340.6 86.5h1.4M340.3 87.8h1.4M344.4 70.8h1.4M351.0 81.1h1.4M328.5 112.3h1.4M315.1 90.7h1.4M359.1 82.1h1.4M334.5 72.2h1.4M350.5 89.1h1.4M351.2 93.2h1.4M329.4 110.3h1.4M361.3 83.8h1.4M339.1 113.3h1.4M345.1 68.7h1.4M369.9 89.8h1.4M315.9 93.3h1.4M342.9 76.4h1.4M345.1 104.5h1.4M338.5 93.6h1.4M351.8 104.6h1.4M314.3 78.8h1.4M328.4 100.1h1.4M347.5 75.4h1.4M352.3 77.0h1.4M318.4 68.6h1.4M325.8 113.0h1.4M378.6 70.1h1.4M351.0 65.6h1.4M336.9 67.6h1.4M319.0 86.1h1.4M342.7 111.1h1.4M344.3 84.6h1.4M324.1 92.3h1.4M369.7 80.1h1.4M343.5 87.0h1.4M349.1 87.5h1.4M331.0 106.7h1.4M329.8 100.4h1.4M335.7 106.3h1.4M336.8 70.4h1.4M337.7 91.3h1.4M334.3 86.1h1.4M347.0 86.7h1.4M344.5 85.6h1.4M359.5 66.8h1.4M335.8 85.4h1.4M332.8 109.2h1.4M337.1 81.2h1.4M354.7 59.3h1.4M337.3 100.7h1.4M349.3 100.1h1.4M333.9 87.9h1.4M348.6 86.2h1.4M339.2 75.2h1.4M327.5 92.8h1.4M346.1 104.3h1.4M361.8 90.1h1.4M359.3 80.4h1.4M353.6 76.5h1.4M342.7 59.8h1.4M338.7 95.2h1.4M339.2 97.3h1.4M363.5 93.4h1.4M338.3 124.3h1.4M343.3 93.6h1.4M320.0 116.9h1.4M327.4 77.4h1.4M339.5 109.9h1.4M329.4 110.0h1.4M360.4 100.5h1.4M335.2 103.4h1.4M339.2 97.3h1.4M348.4 109.4h1.4M325.3 86.4h1.4M368.0 83.9h1.4M341.9 106.4h1.4M338.8 76.6h1.4M313.1 85.2h1.4M337.4 98.0h1.4M337.5 92.8h1.4M341.3 98.8h1.4M337.3 101.7h1.4M338.1 77.4h1.4M367.9 78.9h1.4M347.8 103.9h1.4M336.8 85.1h1.4M333.5 88.2h1.4M372.1 51.7h1.4M372.2 84.5h1.4M364.4 108.2h1.4M342.3 64.8h1.4M336.3 104.4h1.4M345.8 101.2h1.4M340.7 79.5h1.4M340.7 82.7h1.4M320.8 82.8h1.4M323.9 85.4h1.4M350.7 86.0h1.4M351.2 94.0h1.4M310.2 108.6h1.4M349.3 98.5h1.4M362.6 79.8h1.4M323.2 79.4h1.4M355.9 104.7h1.4M328.0 116.3h1.4M349.2 72.1h1.4M337.6 120.8h1.4M325.9 105.5h1.4M337.8 93.0h1.4M314.1 62.3h1.4M310.6 79.3h1.4M353.9 93.5h1.4M343.4 83.4h1.4M360.1 61.9h1.4M333.3 118.8h1.4M320.9 108.8h1.4M327.5 75.2h1.4M342.7 76.9h1.4M353.3 96.1h1.4M371.3 101.6h1.4M304.2 76.4h1.4M330.9 99.0h1.4M336.9 84.9h1.4M341.8 59.1h1.4M347.8 82.3h1.4M323.6 72.0h1.4M322.2 90.8h1.4M367.1 101.3h1.4M360.0 86.8h1.4M343.4 97.8h1.4M369.2 78.8h1.4M330.4 111.6h1.4M324.9 78.7h1.4M328.8 90.1h1.4M340.9 103.6h1.4M323.1 87.2h1.4M330.3 87.9h1.4M349.8 104.5h1.4M346.1 112.1h1.4M347.4 75.2h1.4M334.5 79.1h1.4M346.0 96.1h1.4M366.3 79.2h1.4M341.7 77.4h1.4M348.5 94.9h1.4M345.6 95.9h1.4M343.4 89.2h1.4M372.1 120.9h1.4M339.5 113.1h1.4M365.3 89.0h1.4M373.3 87.9h1.4M342.4 107.0h1.4M312.2 93.7h1.4M337.5 96.7h1.4M344.7 88.4h1.4M350.3 74.3h1.4M341.0 93.7h1.4M339.1 94.7h1.4M364.7 74.7h1.4M328.1 88.5h1.4M364.2 89.9h1.4M344.0 60.6h1.4M327.6 111.0h1.4M346.2 86.5h1.4M335.4 97.2h1.4M310.0 67.0h1.4M325.9 126.4h1.4M305.2 80.6h1.4M341.9 74.2h1.4M340.6 100.4h1.4M341.6 78.7h1.4M322.6 93.0h1.4M320.6 63.3h1.4M334.5 85.7h1.4M319.8 105.1h1.4M321.5 112.1h1.4M346.5 81.3h1.4M345.7 90.3h1.4M330.8 102.6h1.4M335.4 81.2h1.4M346.5 73.4h1.4M322.1 85.8h1.4M360.3 99.1h1.4M374.7 71.1h1.4M353.7 107.0h1.4M359.6 67.8h1.4M306.2 118.2h1.4M366.4 80.3h1.4M340.1 86.0h1.4M315.5 109.3h1.4M348.1 72.2h1.4M357.3 78.6h1.4M357.4 73.1h1.4M365.8 88.0h1.4M340.8 88.0h1.4M320.2 77.7h1.4M332.1 88.2h1.4M340.6 87.9h1.4M341.4 73.8h1.4M344.3 110.0h1.4M345.6 93.6h1.4M361.5 91.8h1.4M341.2 76.3h1.4M374.0 63.5h1.4M382.3 82.6h1.4M313.8 80.7h1.4M335.9 98.5h1.4M322.5 101.5h1.4M320.4 92.8h1.4M350.9 85.2h1.4M318.8 83.9h1.4M327.5 101.0h1.4M328.8 75.7h1.4M344.7 65.5h1.4M346.7 109.8h1.4M331.3 83.1h1.4M340.4 53.8h1.4M356.3 97.1h1.4M343.2 75.0h1.4M326.0 97.1h1.4M352.0 98.8h1.4M334.8 98.9h1.4M370.3 101.7h1.4M353.5 80.0h1.4M330.3 105.7h1.4M355.0 64.2h1.4M325.2 101.3h1.4M371.1 98.1h1.4M348.7 93.5h1.4M329.7 98.6h1.4M310.2 73.5h1.4M334.4 86.7h1.4M332.0 72.6h1.4M336.7 105.1h1.4M345.1 74.4h1.4M323.1 105.9h1.4M334.4 76.1h1.4M355.8 113.0h1.4M304.5 90.5h1.4M347.6 87.9h1.4M341.9 133.7h1.4M305.2 113.7h1.4M326.0 83.2h1.4M342.9 98.8h1.4M363.1 93.5h1.4M340.9 104.3h1.4M350.0 50.6h1.4M365.6 78.9h1.4M343.0 52.0h1.4M376.2 101.4h1.4M347.8 86.7h1.4M329.9 87.9h1.4M356.8 91.8h1.4M360.4 86.6h1.4M336.8 71.6h1.4M350.1 111.9h1.4M316.0 99.7h1.4M339.3 60.4h1.4M357.7 103.7h1.4M333.2 120.1h1.4M352.7 104.1h1.4M357.1 89.5h1.4M333.6 78.4h1.4M360.9 94.0h1.4M367.3 106.1h1.4M325.2 112.5h1.4M349.1 112.1h1.4M343.6 74.7h1.4M363.5 93.9h1.4M370.5 88.4h1.4M301.4 86.8h1.4M328.8 68.6h1.4M347.6 73.3h1.4M361.3 79.1h1.4M371.2 79.8h1.4M325.9 94.3h1.4M335.7 91.4h1.4M324.9 96.8h1.4M355.2 82.8h1.4M325.9 108.2h1.4M363.8 84.8h1.4M355.9 79.9h1.4M351.3 88.0h1.4M305.1 102.4h1.4M337.4 105.2h1.4M349.7 75.8h1.4M332.3 122.7h1.4M338.1 90.8h1.4M342.4 93.4h1.4M350.0 71.3h1.4M343.7 82.0h1.4M347.4 88.6h1.4M335.3 93.1h1.4M337.4 80.9h1.4M331.2 75.2h1.4M353.4 83.0h1.4M340.3 92.5h1.4M361.9 86.9h1.4M325.0 120.1h1.4M358.1 74.3h1.4M324.4 64.8h1.4M358.2 77.1h1.4M329.5 64.4h1.4M345.5 64.8h1.4M372.6 89.0h1.4M337.6 101.2h1.4M338.3 80.0h1.4M334.6 82.3h1.4M344.5 86.0h1.4M303.9 80.7h1.4M342.9 96.7h1.4M335.5 86.7h1.4M343.5 119.7h1.4M331.0 77.0h1.4M325.6 115.7h1.4M358.4 67.8h1.4M356.4 98.2h1.4M363.6 59.6h1.4M333.9 106.3h1.4M320.7 93.7h1.4M340.1 75.8h1.4M315.1 101.9h1.4M348.9 93.2h1.4M334.1 100.5h1.4M348.5 112.4h1.4M351.9 97.4h1.4M322.9 54.5h1.4M367.6 67.3h1.4M336.8 57.6h1.4M319.1 95.6h1.4M361.6 88.4h1.4M311.3 83.7h1.4M334.4 73.0h1.4M323.8 102.0h1.4M327.0 92.7h1.4M373.9 97.8h1.4M335.7 98.2h1.4M335.9 101.7h1.4M346.3 116.7h1.4M333.3 85.4h1.4M364.1 76.2h1.4M316.3 86.7h1.4M324.7 103.4h1.4M358.5 97.3h1.4M327.5 121.0h1.4M335.9 91.9h1.4M354.0 69.8h1.4M336.1 79.2h1.4M324.0 75.3h1.4M331.8 97.0h1.4M337.9 114.9h1.4M315.0 63.7h1.4M327.6 59.7h1.4M371.4 96.2h1.4M344.6 59.7h1.4M335.6 98.5h1.4M321.1 79.3h1.4M358.3 93.1h1.4M319.7 115.5h1.4M336.3 95.3h1.4M342.9 102.8h1.4M325.0 99.7h1.4M330.6 105.4h1.4M360.7 109.8h1.4M324.5 118.2h1.4M322.7 88.9h1.4M325.7 84.6h1.4M341.2 85.5h1.4M318.8 98.5h1.4M358.9 80.6h1.4M332.4 84.2h1.4M342.5 100.1h1.4M336.3 93.1h1.4M334.0 100.0h1.4M326.6 98.2h1.4M363.9 87.2h1.4M335.8 72.1h1.4M351.7 110.9h1.4M359.5 85.1h1.4M334.0 101.6h1.4M355.8 91.8h1.4M350.0 103.3h1.4M333.4 106.9h1.4M355.0 85.8h1.4M317.2 100.4h1.4M339.2 62.4h1.4M329.5 100.2h1.4M345.4 81.9h1.4M360.4 73.2h1.4M368.2 115.7h1.4M318.3 70.8h1.4M341.4 90.6h1.4M344.9 108.6h1.4M330.6 112.5h1.4M333.7 115.5h1.4M332.6 72.8h1.4M342.5 72.4h1.4M318.9 113.3h1.4M338.1 86.5h1.4M362.0 107.4h1.4M344.8 91.7h1.4M327.4 101.1h1.4M360.5 86.3h1.4M320.6 97.0h1.4M352.2 85.6h1.4M360.8 66.8h1.4M309.7 107.4h1.4M341.6 81.2h1.4M348.0 90.4h1.4M334.1 69.4h1.4M318.3 77.3h1.4M339.9 98.6h1.4M321.6 105.2h1.4M336.1 76.2h1.4M347.8 82.2h1.4M323.2 82.1h1.4M342.4 124.6h1.4M322.3 73.8h1.4M354.0 112.2h1.4M336.0 78.7h1.4M342.8 96.3h1.4M340.3 85.9h1.4M318.3 96.6h1.4M306.4 126.2h1.4M356.8 95.1h1.4M360.8 73.6h1.4M312.7 90.7h1.4M346.5 122.8h1.4M356.3 105.6h1.4M356.8 83.4h1.4M348.9 80.4h1.4M362.9 82.5h1.4M341.0 91.5h1.4M356.5 101.9h1.4M340.2 73.8h1.4M334.7 94.1h1.4M353.7 69.2h1.4M360.5 101.5h1.4M369.6 104.8h1.4M334.5 92.3h1.4M361.0 87.9h1.4M335.6 117.6h1.4M344.9 82.7h1.4M294.2 101.0h1.4M333.5 112.5h1.4M356.2 90.1h1.4M332.7 91.3h1.4M354.7 107.5h1.4M318.1 107.4h1.4M351.4 53.3h1.4M352.8 89.3h1.4M340.3 89.5h1.4M361.6 110.8h1.4M346.0 87.0h1.4M361.2 74.9h1.4M347.7 93.9h1.4M320.5 106.2h1.4M326.7 74.0h1.4M361.6 80.3h1.4M347.4 80.8h1.4M345.2 112.0h1.4M368.4 115.9h1.4M334.5 74.5h1.4M343.2 72.2h1.4M310.6 93.1h1.4M322.5 89.5h1.4M346.1 75.3h1.4M338.1 92.8h1.4M354.7 101.1h1.4M361.2 56.0h1.4M324.8 72.9h1.4M331.0 64.0h1.4M340.9 109.4h1.4M341.6 112.8h1.4M328.5 70.8h1.4M306.8 81.7h1.4M310.0 110.3h1.4M370.1 92.3h1.4M347.2 104.2h1.4M359.7 82.7h1.4M348.1 97.9h1.4M345.9 93.1h1.4M347.2 77.0h1.4M366.4 108.6h1.4M322.8 100.7h1.4M351.2 65.0h1.4M322.9 92.6h1.4M332.7 68.3h1.4M380.2 67.9h1.4M350.6 103.7h1.4M357.1 59.0h1.4M344.3 107.8h1.4M366.2 111.9h1.4M344.8 94.6h1.4M338.8 71.4h1.4M321.7 86.5h1.4M324.7 93.8h1.4M336.7 70.5h1.4M308.0 87.6h1.4M326.4 94.2h1.4M349.6 82.1h1.4M336.3 103.4h1.4M318.6 82.3h1.4M338.4 124.2h1.4M351.4 102.6h1.4M342.3 104.9h1.4M338.6 80.3h1.4M351.4 114.4h1.4M366.8 69.4h1.4M348.2 117.6h1.4M319.4 121.2h1.4M336.2 77.4h1.4M337.8 84.2h1.4M357.6 113.1h1.4M324.3 117.2h1.4M357.2 78.2h1.4M342.2 93.0h1.4M342.0 93.1h1.4M311.3 94.0h1.4M346.9 83.4h1.4M335.2 82.1h1.4M358.5 72.7h1.4M338.4 99.8h1.4M315.2 88.5h1.4M348.6 98.4h1.4M328.1 99.6h1.4M353.2 96.4h1.4M331.4 111.2h1.4M348.6 107.5h1.4M342.5 100.3h1.4M346.0 99.6h1.4M332.0 92.3h1.4M333.2 104.6h1.4M333.5 78.9h1.4M330.5 92.0h1.4M349.1 98.5h1.4M336.7 91.8h1.4M310.5 115.6h1.4M332.3 76.9h1.4M372.5 95.8h1.4M341.4 80.0h1.4M353.2 90.0h1.4M347.9 85.8h1.4M341.1 106.4h1.4M318.1 96.8h1.4M345.9 70.0h1.4M342.9 56.2h1.4M347.4 81.2h1.4M338.6 70.9h1.4M351.2 93.6h1.4M351.6 109.1h1.4M328.6 58.8h1.4M331.7 73.2h1.4M348.4 91.3h1.4M336.2 114.4h1.4M334.0 99.6h1.4M352.2 89.4h1.4M339.9 99.6h1.4M309.1 118.6h1.4M355.4 110.4h1.4M311.4 118.0h1.4M360.6 57.3h1.4M348.5 77.7h1.4M352.9 87.0h1.4M325.1 85.3h1.4M322.3 96.5h1.4M334.1 85.1h1.4M336.2 80.8h1.4M334.9 105.8h1.4M340.7 83.6h1.4M343.3 69.9h1.4M344.9 75.5h1.4M325.9 99.6h1.4M324.7 136.4h1.4M343.3 93.4h1.4M342.6 115.1h1.4M351.7 92.7h1.4M349.7 47.8h1.4M368.7 80.8h1.4M339.2 76.4h1.4M347.7 62.8h1.4M357.8 61.8h1.4M355.5 113.0h1.4M333.5 67.1h1.4M349.4 74.6h1.4M349.5 105.5h1.4M338.9 103.0h1.4M317.2 74.1h1.4M340.6 88.5h1.4M328.2 88.6h1.4M351.8 80.6h1.4M342.1 102.7h1.4M358.9 69.8h1.4M357.0 75.4h1.4M333.9 119.7h1.4M343.6 56.6h1.4M332.6 88.5h1.4M365.4 84.3h1.4M339.7 69.2h1.4M336.0 82.1h1.4M341.5 66.9h1.4M334.3 96.7h1.4M341.7 78.9h1.4M353.2 96.9h1.4M347.0 104.5h1.4M347.6 87.2h1.4M323.8 93.5h1.4M351.8 88.5h1.4M323.9 101.0h1.4M341.6 68.6h1.4M356.7 99.8h1.4M353.8 86.7h1.4M339.2 104.9h1.4M376.4 46.0h1.4M344.9 103.2h1.4M359.8 116.1h1.4M335.1 104.3h1.4M351.9 58.5h1.4M334.9 94.3h1.4M356.0 80.5h1.4M329.3 100.7h1.4M344.5 84.0h1.4M340.0 99.4h1.4M352.0 75.7h1.4M339.2 95.2h1.4M323.7 88.1h1.4M349.2 87.1h1.4M331.6 112.9h1.4M323.9 91.4h1.4M358.2 91.8h1.4M307.4 94.0h1.4M350.2 78.3h1.4M334.1 90.0h1.4M337.7 113.8h1.4M339.7 77.5h1.4M360.4 100.2h1.4M322.1 75.4h1.4M338.1 89.0h1.4M360.6 94.7h1.4M358.3 92.3h1.4M333.5 76.8h1.4M321.3 80.1h1.4M334.6 109.1h1.4M323.6 78.1h1.4M356.4 91.3h1.4M346.5 77.8h1.4M346.4 86.8h1.4M349.3 112.4h1.4M342.8 103.7h1.4M325.9 74.7h1.4M372.6 77.4h1.4M312.1 107.6h1.4M345.6 85.6h1.4M358.8 103.2h1.4M330.0 66.3h1.4M378.9 73.7h1.4M360.3 81.1h1.4M347.8 73.0h1.4M342.0 119.7h1.4M339.9 68.5h1.4M336.9 92.9h1.4M343.4 90.0h1.4M328.5 58.8h1.4M324.3 74.6h1.4M344.1 71.2h1.4M372.2 85.8h1.4M364.6 92.9h1.4M349.9 95.3h1.4M315.7 108.8h1.4M341.5 51.2h1.4M359.7 83.0h1.4M335.5 84.1h1.4" stroke="#000" stroke-opacity="0.90" stroke-width="1.40" fill="none"/>
<path d="M349.1 86.6h1.4M327.3 120.4h1.4M301.9 102.4h1.4M336.8 96.8h1.4M283.3 117.0h1.4M317.7 95.6h1.4M314.6 99.8h1.4M314.8 107.1h1.4M280.4 97.3h1.4M340.9 89.1h1.4M362.3 90.4h1.4M285.3 122.0h1.4M322.5 107.3h1.4M347.0 129.1h1.4M379.3 90.0h1.4M306.3 106.9h1.4M292.8 112.7h1.4M317.7 104.5h1.4M371.8 89.4h1.4M318.0 99.9h1.4M332.7 121.8h1.4M357.4 71.4h1.4M266.4 135.1h1.4M264.9 133.7h1.4M334.9 79.9h1.4M341.1 104.8h1.4M285.2 126.3h1.4M327.7 90.7h1.4M331.3 134.8h1.4M327.2 111.7h1.4M295.4 108.5h1.4M303.6 102.9h1.4M291.3 103.7h1.4M320.5 107.4h1.4M312.2 107.7h1.4M353.4 68.3h1.4M328.3 84.2h1.4M273.6 111.4h1.4M326.3 94.9h1.4M352.6 84.9h1.4M321.4 92.7h1.4M349.1 101.7h1.4M322.0 117.4h1.4M336.3 98.2h1.4M282.1 85.1h1.4M337.1 94.3h1.4M285.4 126.2h1.4M350.5 90.0h1.4M280.4 123.8h1.4M264.0 127.8h1.4M323.4 79.2h1.4M299.8 72.8h1.4M324.0 111.5h1.4M326.0 93.1h1.4M319.3 110.2h1.4M293.4 109.6h1.4M322.3 100.0h1.4M334.0 119.0h1.4M324.0 83.5h1.4M368.7 83.7h1.4M293.1 97.6h1.4M319.9 104.7h1.4M334.7 104.9h1.4M309.8 117.7h1.4M287.8 118.9h1.4M295.8 92.1h1.4M346.4 96.7h1.4M315.6 119.0h1.4M338.8 111.3h1.4M310.4 140.4h1.4M332.2 107.3h1.4M295.0 98.0h1.4M293.4 106.3h1.4M321.1 104.4h1.4M324.7 117.8h1.4M349.5 74.1h1.4M280.9 133.4h1.4M334.3 107.8h1.4M354.5 76.3h1.4M356.0 98.4h1.4M303.9 98.4h1.4M300.3 111.5h1.4M303.5 105.6h1.4M326.8 104.5h1.4M316.4 86.9h1.4M329.6 107.8h1.4M321.6 69.6h1.4M288.1 110.2h1.4M285.8 108.7h1.4M294.7 138.0h1.4M286.2 125.5h1.4M312.6 99.1h1.4M321.0 89.4h1.4M383.0 78.7h1.4M328.1 90.6h1.4M330.1 133.8h1.4M339.4 53.1h1.4M299.3 112.9h1.4M313.4 68.5h1.4M348.3 108.1h1.4M333.7 85.7h1.4M336.7 121.5h1.4M305.9 100.9h1.4M291.7 131.6h1.4M314.9 108.7h1.4M308.8 126.3h1.4M335.6 97.6h1.4M298.4 66.6h1.4M328.3 89.1h1.4M268.2 100.6h1.4M347.8 106.9h1.4M298.8 120.4h1.4M277.7 120.8h1.4M284.9 124.7h1.4M302.7 113.6h1.4M343.6 85.3h1.4M346.5 122.9h1.4M288.9 119.8h1.4M319.0 101.0h1.4M307.3 86.2h1.4M274.2 112.5h1.4M292.4 114.9h1.4M264.5 123.3h1.4M292.9 107.2h1.4M249.5 131.3h1.4M291.4 97.9h1.4M293.8 114.3h1.4M289.1 92.3h1.4M292.1 101.7h1.4M343.5 82.7h1.4M313.5 119.6h1.4M326.6 108.4h1.4M337.6 97.6h1.4M334.8 80.0h1.4M333.1 92.2h1.4M307.9 120.8h1.4M296.3 132.4h1.4M290.0 93.1h1.4M303.4 103.7h1.4M318.5 105.9h1.4M317.5 110.0h1.4M345.9 93.2h1.4M318.7 114.4h1.4M356.0 66.8h1.4M352.5 114.4h1.4M299.3 94.4h1.4M340.2 96.4h1.4M246.9 141.2h1.4M359.3 105.7h1.4M333.2 112.2h1.4M332.6 112.0h1.4M281.5 138.9h1.4M381.6 76.4h1.4M315.3 117.1h1.4M322.4 126.4h1.4M342.6 82.9h1.4M305.4 88.1h1.4M290.7 100.1h1.4M342.3 116.5h1.4M298.5 131.5h1.4M334.9 92.2h1.4M322.7 106.4h1.4M349.2 99.2h1.4M292.4 131.1h1.4M339.7 66.8h1.4M322.4 94.2h1.4M367.0 80.8h1.4M302.9 115.6h1.4M365.8 86.5h1.4M334.2 93.2h1.4M339.6 100.3h1.4M285.5 78.1h1.4M348.6 139.7h1.4M339.4 108.7h1.4M301.3 125.0h1.4M284.7 107.9h1.4M300.3 118.2h1.4M366.3 116.8h1.4M331.6 127.2h1.4M342.3 96.0h1.4M318.6 85.3h1.4M321.7 105.7h1.4M322.0 98.4h1.4M311.9 120.3h1.4M342.3 75.1h1.4M321.3 100.5h1.4M325.1 106.0h1.4M280.0 112.9h1.4M331.5 115.6h1.4M294.5 96.6h1.4M298.4 93.5h1.4M342.5 89.4h1.4M294.4 127.1h1.4M311.2 102.8h1.4M330.8 90.4h1.4M351.7 103.6h1.4M305.8 113.1h1.4M323.2 94.5h1.4M325.9 103.5h1.4M287.7 113.3h1.4M266.4 135.0h1.4M269.3 126.6h1.4M329.0 87.9h1.4M317.9 97.3h1.4M281.4 113.1h1.4M303.5 116.3h1.4M309.7 113.9h1.4M304.3 97.4h1.4M316.1 102.6h1.4M376.0 86.1h1.4M303.8 127.5h1.4M322.9 106.6h1.4M308.7 138.7h1.4M301.9 111.6h1.4M299.3 123.6h1.4M310.2 102.8h1.4M298.4 97.2h1.4M327.4 102.6h1.4M325.9 109.0h1.4M296.8 118.3h1.4M367.7 86.9h1.4M286.2 112.4h1.4M322.6 90.2h1.4M371.7 78.3h1.4M302.2 118.4h1.4M356.9 103.8h1.4M336.5 46.3h1.4M329.8 109.4h1.4M276.4 138.3h1.4M361.0 106.9h1.4M322.3 108.9h1.4M307.5 119.3h1.4M348.1 85.6h1.4M298.9 111.1h1.4M347.9 100.8h1.4M298.0 95.8h1.4M327.3 88.7h1.4M291.4 118.5h1.4M300.6 91.1h1.4M294.7 114.9h1.4M291.7 92.3h1.4M323.7 105.4h1.4M313.7 106.9h1.4M319.7 95.3h1.4M345.6 78.9h1.4M312.2 99.2h1.4M258.2 94.1h1.4M308.4 102.4h1.4M320.6 105.5h1.4M350.4 110.3h1.4M341.6 87.3h1.4M341.2 92.6h1.4M319.5 125.6h1.4M343.7 121.2h1.4M278.4 113.1h1.4M356.6 105.4h1.4M335.4 115.9h1.4M333.6 106.4h1.4M302.9 95.5h1.4M314.2 91.6h1.4M303.9 119.4h1.4M344.9 130.0h1.4M282.9 116.1h1.4M351.2 115.6h1.4M342.0 124.4h1.4M362.9 67.2h1.4M313.7 97.2h1.4M323.6 125.8h1.4M328.1 115.8h1.4M321.8 111.7h1.4M315.1 105.7h1.4M293.1 124.5h1.4M286.2 107.7h1.4M316.9 144.0h1.4M304.2 92.4h1.4M277.9 93.0h1.4M289.0 118.7h1.4M318.4 127.0h1.4M334.2 90.5h1.4M312.7 106.0h1.4M329.7 84.1h1.4M342.3 93.7h1.4M332.0 83.2h1.4M301.7 95.7h1.4M299.6 89.3h1.4M267.3 116.7h1.4M310.5 136.7h1.4M329.5 99.1h1.4M291.1 118.5h1.4M364.6 120.6h1.4M351.1 81.5h1.4M303.1 95.2h1.4M344.3 102.2h1.4M275.0 102.9h1.4M292.9 120.0h1.4M314.6 124.0h1.4M312.3 90.2h1.4M310.3 99.7h1.4M305.0 136.3h1.4M362.4 70.3h1.4M321.7 92.6h1.4M326.5 105.0h1.4M333.6 93.5h1.4M317.8 91.5h1.4M320.6 128.5h1.4M300.5 102.7h1.4M277.8 126.1h1.4M353.9 83.8h1.4M293.1 111.2h1.4M268.0 103.5h1.4M302.2 125.5h1.4M274.6 115.5h1.4M375.8 101.2h1.4M320.9 85.4h1.4M351.3 83.7h1.4M357.6 96.1h1.4M333.0 100.3h1.4M329.0 90.0h1.4M298.7 110.4h1.4M308.7 88.2h1.4M302.7 111.7h1.4M304.7 68.8h1.4M300.9 114.3h1.4M357.6 109.8h1.4M342.3 108.8h1.4M319.8 117.2h1.4M272.9 116.4h1.4M338.0 104.2h1.4M338.3 90.2h1.4M315.7 104.2h1.4M285.1 116.4h1.4M310.7 55.2h1.4M349.7 106.3h1.4M271.4 130.6h1.4M336.9 110.2h1.4M266.4 110.7h1.4M323.7 113.2h1.4M365.1 93.1h1.4M308.2 73.9h1.4M320.6 76.2h1.4M310.0 108.7h1.4M314.1 95.9h1.4M377.8 80.3h1.4M348.5 82.4h1.4M318.0 128.0h1.4M297.9 83.2h1.4M311.0 86.3h1.4M368.6 69.0h1.4M315.8 84.3h1.4M343.2 85.5h1.4M308.4 108.1h1.4M278.2 99.9h1.4M353.7 96.0h1.4M323.0 123.1h1.4M303.8 127.5h1.4M311.1 138.7h1.4M306.9 126.9h1.4M302.2 110.6h1.4M288.2 144.5h1.4M352.4 101.8h1.4M337.8 125.9h1.4M341.7 92.1h1.4M297.8 80.2h1.4M320.4 85.6h1.4M323.1 105.5h1.4M350.8 100.1h1.4M337.6 93.7h1.4M332.5 114.5h1.4M295.2 96.1h1.4M283.5 107.8h1.4M302.9 126.3h1.4M302.1 112.1h1.4M304.7 111.7h1.4M294.1 136.4h1.4M366.2 102.4h1.4M320.5 91.5h1.4M267.7 128.3h1.4M280.9 93.3h1.4M283.8 118.5h1.4M326.1 107.7h1.4M335.7 70.7h1.4M301.3 136.0h1.4M344.5 125.3h1.4M313.6 114.4h1.4M352.2 105.5h1.4M360.8 111.0h1.4M325.0 99.4h1.4M341.9 111.5h1.4M320.0 110.1h1.4M300.2 88.3h1.4M283.5 104.8h1.4M323.2 94.0h1.4M322.0 120.0h1.4M308.8 110.3h1.4M321.4 119.0h1.4M310.7 100.6h1.4M284.7 98.5h1.4M315.8 138.1h1.4M361.8 129.8h1.4M314.2 112.5h1.4M352.4 88.0h1.4M295.1 132.8h1.4M277.6 104.1h1.4M320.1 100.9h1.4M329.9 77.9h1.4M304.0 118.2h1.4M335.2 101.9h1.4M339.5 90.1h1.4M341.7 85.3h1.4M307.0 85.8h1.4M312.2 94.5h1.4M282.8 138.4h1.4M316.7 100.1h1.4M331.9 119.0h1.4M349.2 78.9h1.4M285.3 117.0h1.4M294.1 107.5h1.4M291.2 111.8h1.4M345.0 106.1h1.4M242.8 103.4h1.4M294.6 126.0h1.4M374.0 93.2h1.4M334.7 98.3h1.4M284.7 119.7h1.4M315.3 102.7h1.4M343.2 105.6h1.4M332.3 100.2h1.4M307.8 96.0h1.4M298.8 115.2h1.4M344.2 109.3h1.4M319.9 110.1h1.4M338.7 97.1h1.4M329.2 103.7h1.4M303.5 103.2h1.4M352.0 84.1h1.4M295.2 84.9h1.4M327.9 98.2h1.4M307.3 124.7h1.4M310.1 102.2h1.4M306.8 95.5h1.4M306.1 123.8h1.4M324.9 104.8h1.4M351.9 93.5h1.4M367.6 92.3h1.4M358.1 99.7h1.4M313.4 106.2h1.4M350.4 79.0h1.4M338.0 124.0h1.4M363.7 87.4h1.4M282.0 107.6h1.4M356.5 92.4h1.4M309.3 127.0h1.4M339.6 74.3h1.4M313.3 127.3h1.4M340.3 93.9h1.4M321.6 134.5h1.4M274.1 133.1h1.4M293.0 113.5h1.4M318.7 124.2h1.4M325.5 121.7h1.4M259.6 123.2h1.4M289.0 120.4h1.4M296.8 105.6h1.4M317.6 119.4h1.4M316.0 84.1h1.4M296.4 111.1h1.4M268.3 92.2h1.4M328.8 109.8h1.4M297.7 78.8h1.4M334.7 81.9h1.4M306.2 113.9h1.4M332.4 93.8h1.4M293.2 108.2h1.4M319.6 89.5h1.4M317.8 97.9h1.4M320.0 77.2h1.4M296.2 118.8h1.4M319.3 117.0h1.4M300.7 123.8h1.4M313.8 106.2h1.4M340.3 114.9h1.4M395.8 80.8h1.4M324.0 117.4h1.4M338.2 103.0h1.4M321.1 104.3h1.4M342.6 83.4h1.4M315.6 65.4h1.4M347.8 103.0h1.4M326.4 99.9h1.4M389.2 107.0h1.4M342.1 64.7h1.4M279.7 133.5h1.4M320.5 89.4h1.4M320.0 104.2h1.4M257.8 115.8h1.4M298.3 118.4h1.4M306.3 109.3h1.4M304.3 124.1h1.4M322.1 105.7h1.4M275.5 129.6h1.4M343.7 114.3h1.4M340.4 104.0h1.4M326.3 99.7h1.4M316.4 124.8h1.4M317.6 103.5h1.4M308.6 115.2h1.4M345.2 89.1h1.4M327.3 91.1h1.4M352.2 45.0h1.4M312.6 118.0h1.4M348.5 75.0h1.4M307.6 120.6h1.4M323.5 130.7h1.4M284.9 98.2h1.4M336.0 111.3h1.4M316.2 104.4h1.4M336.2 104.7h1.4M349.3 74.1h1.4M316.9 106.0h1.4M328.6 103.2h1.4M348.4 114.8h1.4M328.2 134.0h1.4M306.1 114.8h1.4M325.2 96.6h1.4M342.7 129.3h1.4M337.2 95.7h1.4M338.8 95.9h1.4M302.0 113.2h1.4M331.9 106.7h1.4M352.9 102.0h1.4M303.5 102.2h1.4M326.8 99.9h1.4M312.7 136.2h1.4M331.0 124.6h1.4M364.2 93.4h1.4M324.0 107.0h1.4M292.8 111.9h1.4M332.4 115.2h1.4M320.9 96.1h1.4M346.9 95.4h1.4M281.4 113.0h1.4M291.9 106.2h1.4M316.5 106.4h1.4M279.3 120.9h1.4M343.7 85.9h1.4M267.1 124.8h1.4M297.8 114.5h1.4M278.7 113.9h1.4M298.3 103.1h1.4M337.6 95.2h1.4M337.1 108.3h1.4M347.4 110.4h1.4M334.4 101.5h1.4M265.8 122.2h1.4M325.7 101.7h1.4M282.2 149.1h1.4M310.5 122.3h1.4M303.3 96.5h1.4M304.4 110.0h1.4M327.8 93.2h1.4M296.0 108.5h1.4M352.7 65.3h1.4M333.4 99.5h1.4M340.7 75.2h1.4M334.2 89.7h1.4M348.8 116.2h1.4M322.6 118.8h1.4M362.9 73.8h1.4M286.4 102.2h1.4M325.0 88.4h1.4M308.3 80.2h1.4M307.4 94.5h1.4M324.8 98.4h1.4M293.9 98.9h1.4M344.1 106.3h1.4M337.7 96.5h1.4M317.9 97.1h1.4M346.2 120.8h1.4M296.0 125.1h1.4M273.3 124.4h1.4M313.6 135.5h1.4M319.4 125.0h1.4M377.1 70.6h1.4M314.3 111.8h1.4M341.9 88.9h1.4M331.8 77.6h1.4M381.4 108.9h1.4M329.3 123.9h1.4M327.9 81.7h1.4M316.1 113.6h1.4M287.8 92.2h1.4M298.9 129.6h1.4M298.4 112.4h1.4M352.6 86.8h1.4M332.2 119.0h1.4M314.5 106.9h1.4M317.4 101.6h1.4M309.1 123.0h1.4M315.9 101.5h1.4M322.0 117.2h1.4M334.7 98.6h1.4M345.6 106.9h1.4M280.7 130.1h1.4M328.4 113.3h1.4M347.4 77.9h1.4M302.8 140.5h1.4M311.2 105.6h1.4M332.0 126.9h1.4M342.7 86.1h1.4M331.8 95.5h1.4M311.4 103.9h1.4M337.1 115.5h1.4M342.0 89.0h1.4M330.4 106.8h1.4M356.5 65.5h1.4M326.4 94.5h1.4M293.2 118.8h1.4M298.1 111.7h1.4M304.9 81.5h1.4M315.9 113.9h1.4M328.7 86.0h1.4M337.7 127.5h1.4M360.3 85.2h1.4M350.9 127.1h1.4M359.2 99.0h1.4M301.8 119.0h1.4M305.1 103.1h1.4M334.9 96.7h1.4M323.2 110.3h1.4M323.6 72.7h1.4M330.1 115.9h1.4M296.6 95.8h1.4M359.7 84.4h1.4M332.3 57.0h1.4M282.0 126.9h1.4M307.0 121.4h1.4M320.6 108.7h1.4M337.2 102.6h1.4M314.7 100.9h1.4M285.2 120.9h1.4M345.9 112.9h1.4M311.0 101.5h1.4M351.4 99.7h1.4M330.0 111.8h1.4M342.3 91.8h1.4M340.7 99.8h1.4M341.8 99.1h1.4M303.1 103.6h1.4M357.5 127.3h1.4M321.3 97.2h1.4M296.6 140.7h1.4M314.5 123.4h1.4M299.1 81.1h1.4M331.7 103.7h1.4M341.3 112.0h1.4M295.1 127.3h1.4M331.8 85.6h1.4M318.4 109.2h1.4M285.7 99.6h1.4M333.8 82.6h1.4M298.3 109.5h1.4M289.8 119.6h1.4M346.3 119.0h1.4M343.1 100.7h1.4M307.9 125.9h1.4M338.6 78.2h1.4M337.4 79.3h1.4M303.1 103.7h1.4M378.2 108.4h1.4M310.0 87.6h1.4M315.7 81.4h1.4M258.7 128.1h1.4M341.1 114.6h1.4M294.4 89.3h1.4M328.4 97.1h1.4M268.6 103.9h1.4M355.5 112.8h1.4M358.9 99.6h1.4M367.5 89.6h1.4M244.7 134.1h1.4M332.2 95.8h1.4M328.2 103.3h1.4M239.8 126.7h1.4M295.7 100.4h1.4M310.7 90.7h1.4M354.5 90.7h1.4M293.7 102.5h1.4M328.8 114.6h1.4M306.0 77.0h1.4M331.2 108.8h1.4M311.9 116.1h1.4M347.9 112.3h1.4M341.9 91.6h1.4M276.8 98.3h1.4M341.9 81.0h1.4M306.5 127.7h1.4M310.5 103.4h1.4M344.9 87.9h1.4M318.3 95.9h1.4M333.1 98.1h1.4M337.5 93.7h1.4M325.5 77.6h1.4M302.4 102.1h1.4M300.8 128.0h1.4M344.1 117.4h1.4M337.4 95.4h1.4M325.3 94.1h1.4M321.9 125.0h1.4M339.6 93.7h1.4M312.1 89.0h1.4M284.3 116.8h1.4M330.1 111.2h1.4M340.4 120.7h1.4M335.9 90.3h1.4M299.9 121.0h1.4M298.7 107.8h1.4M333.8 116.7h1.4M309.6 112.6h1.4M319.1 108.8h1.4M337.4 81.8h1.4M327.5 96.3h1.4M363.2 81.8h1.4M307.0 52.9h1.4M366.8 98.9h1.4M346.0 93.7h1.4M381.9 76.0h1.4M318.0 99.5h1.4M317.6 105.7h1.4M353.6 94.6h1.4M299.7 92.0h1.4M308.9 110.8h1.4M326.6 103.5h1.4M329.4 101.0h1.4M276.8 98.4h1.4M325.5 99.9h1.4M305.2 90.1h1.4M321.2 109.3h1.4M331.6 120.4h1.4M320.0 118.0h1.4M344.9 88.9h1.4M329.3 92.1h1.4M312.4 98.5h1.4M324.0 108.2h1.4M342.4 84.8h1.4M336.9 89.1h1.4M338.1 57.6h1.4M312.2 94.1h1.4M319.5 92.2h1.4M367.5 76.6h1.4M326.1 121.0h1.4M354.8 68.9h1.4M334.2 77.7h1.4M313.1 116.6h1.4M280.3 104.9h1.4M335.4 95.5h1.4M303.9 113.5h1.4M303.0 111.4h1.4M273.2 111.0h1.4M355.1 104.6h1.4M331.3 123.3h1.4M315.7 90.2h1.4M328.9 96.4h1.4M331.8 114.3h1.4M321.8 100.3h1.4M328.0 85.3h1.4M311.4 101.0h1.4M261.0 141.2h1.4M333.5 83.2h1.4M332.6 103.2h1.4M323.3 109.0h1.4M356.6 79.3h1.4M289.0 125.7h1.4M252.3 142.1h1.4M363.1 102.6h1.4M336.0 112.5h1.4M271.7 100.4h1.4M315.4 120.2h1.4M339.2 105.7h1.4M295.8 129.4h1.4M329.8 87.0h1.4M378.2 95.0h1.4M357.2 95.1h1.4M313.6 88.7h1.4M335.6 118.0h1.4M292.8 103.0h1.4M318.4 89.0h1.4M314.6 112.7h1.4M292.6 105.9h1.4M289.2 122.4h1.4M367.3 81.3h1.4M324.3 107.0h1.4M299.7 125.3h1.4M310.0 107.8h1.4M362.4 100.8h1.4M365.6 99.2h1.4M300.8 98.9h1.4M330.2 113.6h1.4M346.2 103.5h1.4M312.8 109.4h1.4M297.5 131.0h1.4M305.4 136.2h1.4M325.1 114.2h1.4M293.5 92.0h1.4M290.9 123.1h1.4M314.1 104.7h1.4M342.3 91.1h1.4M339.5 101.9h1.4M313.2 102.0h1.4M376.9 107.0h1.4M302.6 115.7h1.4M318.9 105.1h1.4M291.0 128.4h1.4M344.3 107.1h1.4M324.0 121.3h1.4M282.3 129.6h1.4M299.8 112.0h1.4M366.0 88.0h1.4M326.8 67.8h1.4M315.4 83.3h1.4M347.7 109.5h1.4M279.1 115.8h1.4M309.9 136.9h1.4M297.4 141.8h1.4M293.2 95.6h1.4M312.7 112.2h1.4M349.4 137.8h1.4M341.3 83.5h1.4M347.0 99.7h1.4M386.0 74.2h1.4M306.9 105.9h1.4M318.5 100.7h1.4M333.1 98.9h1.4M304.1 122.8h1.4M309.0 96.3h1.4M333.4 107.0h1.4M294.7 103.6h1.4M335.0 106.6h1.4M352.6 96.2h1.4M288.5 105.0h1.4M264.5 129.1h1.4M318.5 93.5h1.4M290.0 103.3h1.4M331.1 118.3h1.4M299.3 84.3h1.4M331.0 108.8h1.4M352.4 102.5h1.4M337.5 88.1h1.4M317.4 122.6h1.4M296.2 128.3h1.4M251.5 111.8h1.4M269.1 133.2h1.4M303.0 118.7h1.4M318.6 93.5h1.4M306.5 119.0h1.4M309.4 120.5h1.4M276.4 110.8h1.4M268.1 94.2h1.4M279.2 127.2h1.4M331.2 88.3h1.4M261.2 101.3h1.4M334.4 92.6h1.4M284.2 81.6h1.4M331.0 94.7h1.4M333.5 122.6h1.4M322.5 58.7h1.4M351.3 99.0h1.4M294.6 100.2h1.4M292.7 109.0h1.4M303.1 97.0h1.4M303.2 121.3h1.4M335.2 98.2h1.4M311.7 95.6h1.4M311.7 87.3h1.4M326.7 95.1h1.4M313.1 125.4h1.4M339.2 77.6h1.4M275.0 129.2h1.4M326.1 107.3h1.4M319.9 73.1h1.4M305.3 127.8h1.4M300.9 111.6h1.4M353.0 126.2h1.4M319.9 131.9h1.4M269.1 121.1h1.4M283.8 116.7h1.4M337.8 81.4h1.4M288.8 95.4h1.4M355.2 102.8h1.4M350.9 88.0h1.4M311.0 101.8h1.4M330.8 97.4h1.4M301.3 122.8h1.4M313.3 122.1h1.4M300.7 112.3h1.4M331.7 96.7h1.4M286.7 119.6h1.4M326.2 134.7h1.4M307.9 76.6h1.4M324.6 84.3h1.4M267.8 133.1h1.4M274.3 125.3h1.4M302.9 130.9h1.4M319.6 125.4h1.4M332.3 130.8h1.4M318.4 92.5h1.4M371.5 93.4h1.4M332.9 95.5h1.4M337.9 112.6h1.4M306.8 112.8h1.4M342.3 109.5h1.4M331.0 88.3h1.4M335.5 100.9h1.4M312.2 99.5h1.4M331.9 95.6h1.4M353.3 83.9h1.4M292.4 99.4h1.4M270.2 142.3h1.4M339.9 101.2h1.4M342.1 112.9h1.4M306.6 94.2h1.4M296.0 83.3h1.4M382.8 68.9h1.4M305.4 108.1h1.4M291.8 128.5h1.4M311.7 124.7h1.4M337.0 117.1h1.4M311.0 132.6h1.4M312.1 119.3h1.4M326.0 103.9h1.4M302.9 99.4h1.4M324.7 113.6h1.4M313.9 99.1h1.4M286.9 105.2h1.4M322.8 112.8h1.4M290.1 120.2h1.4M345.6 107.8h1.4M290.6 105.1h1.4M318.2 123.9h1.4M274.5 128.7h1.4M305.7 107.7h1.4M282.5 107.7h1.4M348.9 75.8h1.4M307.2 88.1h1.4M338.4 119.4h1.4M266.4 103.7h1.4M290.4 126.6h1.4M312.1 103.9h1.4M280.8 111.3h1.4M343.4 87.6h1.4M307.1 108.3h1.4M326.3 116.4h1.4M328.2 110.2h1.4M313.9 107.1h1.4M329.3 79.1h1.4M291.1 88.0h1.4M337.0 127.4h1.4M341.7 79.8h1.4M314.2 82.0h1.4M326.8 119.7h1.4M301.0 88.4h1.4M323.1 115.1h1.4M339.4 111.5h1.4M312.8 111.4h1.4M281.2 135.6h1.4M313.9 85.0h1.4M307.1 90.4h1.4M328.1 98.3h1.4M318.5 105.1h1.4M356.0 88.7h1.4M290.3 124.0h1.4M289.5 105.2h1.4M321.9 70.0h1.4M294.3 121.4h1.4M324.3 99.2h1.4M321.6 116.9h1.4M280.5 153.6h1.4M334.4 100.0h1.4M354.5 99.9h1.4M317.6 91.3h1.4M287.9 131.9h1.4M338.8 102.4h1.4M293.2 119.4h1.4M319.5 119.3h1.4M321.4 86.0h1.4M301.3 121.0h1.4M278.3 128.7h1.4M322.7 128.7h1.4M306.4 81.4h1.4M295.9 112.9h1.4M310.3 143.3h1.4M333.3 92.7h1.4M312.7 100.5h1.4M315.7 134.6h1.4M316.5 145.7h1.4M322.1 105.5h1.4M315.7 94.9h1.4M309.8 99.2h1.4M281.0 114.0h1.4M303.6 97.8h1.4M297.5 100.8h1.4M319.9 107.3h1.4M345.8 94.7h1.4M343.2 102.7h1.4M333.2 99.6h1.4M313.4 88.0h1.4M313.4 118.9h1.4M326.9 105.7h1.4M302.4 102.4h1.4M307.4 105.3h1.4M298.5 118.3h1.4M316.4 107.2h1.4M314.7 104.6h1.4M366.5 97.9h1.4M336.6 114.7h1.4M306.3 105.0h1.4M336.0 97.7h1.4M299.6 95.1h1.4M341.0 93.4h1.4M338.8 104.5h1.4M392.6 88.9h1.4M291.8 118.6h1.4M315.0 105.1h1.4M310.5 97.0h1.4M325.7 105.6h1.4M328.5 83.7h1.4M294.2 116.9h1.4M299.7 113.0h1.4M319.6 90.3h1.4M342.6 100.6h1.4M288.8 113.7h1.4M282.9 129.0h1.4M342.4 87.8h1.4M340.4 103.9h1.4M352.2 116.3h1.4M294.7 117.6h1.4M316.7 118.3h1.4M319.2 94.6h1.4M326.0 96.5h1.4M303.9 81.0h1.4M315.2 104.0h1.4M335.5 80.3h1.4M307.3 111.4h1.4M292.6 82.8h1.4M302.1 98.0h1.4M305.3 111.7h1.4M322.6 109.6h1.4M303.1 85.0h1.4M304.4 104.2h1.4M365.7 126.6h1.4M328.9 113.4h1.4" stroke="#000" stroke-opacity="0.85" stroke-width="1.40" fill="none"/>
<path d="M226.6 74.6h1.4M234.0 108.7h1.4M267.6 106.1h1.4M247.7 84.0h1.4M245.9 108.3h1.4M272.1 92.7h1.4M236.3 92.2h1.4M244.0 75.4h1.4M292.0 87.0h1.4M256.0 96.0h1.4M305.2 100.3h1.4M226.1 86.9h1.4M282.4 111.4h1.4M277.2 117.7h1.4M290.1 82.7h1.4M254.3 99.9h1.4M256.5 73.6h1.4M264.3 100.9h1.4M281.2 80.5h1.4M274.4 93.0h1.4M240.2 96.0h1.4M234.3 90.8h1.4M286.0 112.7h1.4M211.6 84.8h1.4M295.8 88.5h1.4M277.1 100.5h1.4M228.9 93.0h1.4M276.7 99.4h1.4M266.8 92.0h1.4M271.8 83.3h1.4M292.2 107.2h1.4M307.7 98.3h1.4M222.4 103.1h1.4M233.5 109.5h1.4M250.7 89.7h1.4M291.2 84.0h1.4M256.7 88.5h1.4M299.1 85.4h1.4M305.4 61.8h1.4M274.8 120.4h1.4M237.1 98.8h1.4M244.1 123.8h1.4M223.2 87.1h1.4M256.6 102.8h1.4M273.7 99.6h1.4M249.7 93.5h1.4M267.7 109.5h1.4M277.6 95.7h1.4M275.8 94.4h1.4M288.8 98.8h1.4M283.4 60.5h1.4M283.1 84.5h1.4M224.9 85.1h1.4M307.3 126.3h1.4M283.2 105.2h1.4M260.8 105.9h1.4M305.9 108.0h1.4M285.5 93.0h1.4M298.9 124.9h1.4M231.2 91.2h1.4M236.3 76.8h1.4M256.5 103.4h1.4M221.5 106.0h1.4M254.0 96.1h1.4M273.8 101.1h1.4M204.3 101.6h1.4M282.5 120.1h1.4M302.6 107.0h1.4M271.3 120.5h1.4M269.2 99.6h1.4M291.9 131.0h1.4M263.7 75.5h1.4M212.9 102.5h1.4M247.0 98.1h1.4M282.7 97.9h1.4M269.1 76.6h1.4M264.4 110.6h1.4M295.0 93.3h1.4M248.3 81.5h1.4M216.3 86.4h1.4M206.7 90.4h1.4M275.8 97.2h1.4M275.8 81.9h1.4M264.2 82.0h1.4M242.0 99.4h1.4M299.2 95.5h1.4M302.8 131.1h1.4M302.2 89.6h1.4M304.5 110.0h1.4M275.6 122.2h1.4M246.2 91.8h1.4M265.5 109.4h1.4M208.2 95.6h1.4M236.0 94.6h1.4M278.9 120.7h1.4M243.5 81.7h1.4M302.7 86.4h1.4M303.7 66.1h1.4M225.4 92.1h1.4M227.2 104.7h1.4M305.2 92.5h1.4M228.2 102.9h1.4M245.4 84.6h1.4M250.2 109.6h1.4M250.4 93.1h1.4M277.0 88.4h1.4M222.3 111.2h1.4M231.6 93.6h1.4M259.5 102.9h1.4M216.2 94.3h1.4M247.1 103.5h1.4M304.7 99.1h1.4M249.6 78.8h1.4M279.4 100.2h1.4M291.4 104.2h1.4M200.5 95.9h1.4M272.4 92.1h1.4M297.1 127.3h1.4M253.7 84.9h1.4M271.4 97.3h1.4M222.2 95.6h1.4M248.2 80.4h1.4M302.9 76.2h1.4M222.8 100.6h1.4M199.0 98.3h1.4M237.8 95.7h1.4M224.4 75.6h1.4M277.4 91.3h1.4M241.1 97.1h1.4M273.0 104.8h1.4M221.3 106.1h1.4M294.7 104.1h1.4M253.6 107.6h1.4M260.2 118.1h1.4M197.1 71.4h1.4M216.4 103.4h1.4M301.0 89.3h1.4M282.5 103.5h1.4M218.0 95.3h1.4M222.7 82.1h1.4M256.3 82.5h1.4M277.6 102.4h1.4M287.9 93.3h1.4M258.2 104.9h1.4M255.9 89.5h1.4M268.0 126.5h1.4M221.1 90.4h1.4M305.8 133.4h1.4M212.0 85.1h1.4M229.8 100.0h1.4M306.2 116.8h1.4M259.2 76.7h1.4M197.3 83.5h1.4M288.1 102.7h1.4M244.4 108.7h1.4M306.0 120.9h1.4M304.6 106.6h1.4M260.0 109.5h1.4M221.7 80.6h1.4M299.1 89.4h1.4M266.3 116.0h1.4M262.4 87.2h1.4M239.4 91.0h1.4M232.8 73.3h1.4M290.9 93.1h1.4M236.3 74.7h1.4M303.4 103.0h1.4M299.8 121.7h1.4M299.7 102.0h1.4M199.6 93.7h1.4M231.8 89.0h1.4M219.5 98.9h1.4M286.6 78.2h1.4M256.7 88.4h1.4M302.1 133.9h1.4M271.6 76.0h1.4M266.4 87.0h1.4M259.8 75.4h1.4M300.9 117.7h1.4M299.7 92.5h1.4M258.6 77.2h1.4M259.3 77.4h1.4M247.5 108.5h1.4M287.2 106.8h1.4M260.8 105.9h1.4M194.7 91.4h1.4M276.6 109.1h1.4M217.2 106.6h1.4M195.1 97.7h1.4M198.3 77.7h1.4M259.6 67.4h1.4M285.0 72.5h1.4M293.9 100.6h1.4M268.9 73.2h1.4M204.7 82.0h1.4M287.2 96.3h1.4M210.4 83.7h1.4M286.2 75.2h1.4M200.7 100.8h1.4M248.0 100.4h1.4M248.0 104.2h1.4M202.3 100.6h1.4M296.1 120.2h1.4M286.6 94.9h1.4M234.7 91.2h1.4M208.5 75.1h1.4M215.7 90.0h1.4M282.0 85.9h1.4M249.6 107.6h1.4M304.3 107.9h1.4M297.9 120.8h1.4M265.5 110.2h1.4M289.8 114.8h1.4M232.5 99.4h1.4M225.0 94.4h1.4M264.7 89.0h1.4M304.1 95.7h1.4M225.7 82.2h1.4M222.1 96.9h1.4M183.6 90.5h1.4M284.5 62.9h1.4M227.6 62.3h1.4M198.2 85.2h1.4M288.8 87.7h1.4M275.5 90.2h1.4M295.4 117.2h1.4M286.8 85.1h1.4M251.3 77.0h1.4M251.7 98.8h1.4M307.4 113.7h1.4M252.2 115.6h1.4M270.5 79.6h1.4M232.6 90.0h1.4M246.6 88.1h1.4M265.1 115.9h1.4M262.6 104.0h1.4M220.6 92.8h1.4M297.9 107.8h1.4M293.7 89.4h1.4M305.3 92.3h1.4M219.3 92.1h1.4M283.8 87.0h1.4M299.1 91.3h1.4M226.2 96.6h1.4M297.4 99.5h1.4M236.7 110.9h1.4M227.3 102.4h1.4M257.7 92.9h1.4M235.4 66.9h1.4M263.8 73.1h1.4M265.5 87.0h1.4M230.0 88.4h1.4M225.0 78.0h1.4M301.1 89.0h1.4M247.7 94.9h1.4M222.1 85.6h1.4M191.1 90.0h1.4M218.5 91.3h1.4M217.0 84.9h1.4M200.1 83.7h1.4M293.5 93.0h1.4M223.8 95.4h1.4M279.4 78.5h1.4M242.1 67.7h1.4M300.4 79.0h1.4M230.2 98.4h1.4M237.8 73.4h1.4M289.4 109.8h1.4M252.8 85.7h1.4M287.9 96.8h1.4M284.3 82.4h1.4M213.3 97.8h1.4M258.2 94.3h1.4M279.7 100.1h1.4M264.4 66.3h1.4M230.3 100.8h1.4M241.6 72.2h1.4M307.0 89.6h1.4M226.3 98.2h1.4M281.5 91.5h1.4M251.1 99.9h1.4M292.2 97.6h1.4M306.0 96.9h1.4M227.9 83.3h1.4M306.5 112.9h1.4M268.1 110.1h1.4M247.4 86.3h1.4M278.2 80.7h1.4M299.1 98.5h1.4M220.3 84.1h1.4M190.5 92.2h1.4M216.4 100.4h1.4M223.3 99.5h1.4M248.9 112.3h1.4M218.0 96.9h1.4M194.8 82.2h1.4M225.5 82.9h1.4M294.6 103.7h1.4M285.8 124.7h1.4M222.5 88.4h1.4M297.7 79.7h1.4M207.1 105.0h1.4M204.2 90.4h1.4M272.0 104.2h1.4M263.5 108.8h1.4M286.6 79.0h1.4M275.0 88.8h1.4M254.3 86.0h1.4M261.2 100.9h1.4M230.8 100.0h1.4M302.7 86.7h1.4M241.1 99.7h1.4M301.7 64.7h1.4M282.0 99.8h1.4M245.0 97.3h1.4M297.0 95.0h1.4M225.5 76.4h1.4M274.6 92.6h1.4M306.5 76.7h1.4M247.7 111.6h1.4M290.2 90.0h1.4M294.9 91.4h1.4M294.4 93.0h1.4M270.7 101.8h1.4M254.7 94.4h1.4M304.2 104.4h1.4M272.0 80.4h1.4M257.4 108.3h1.4M269.6 86.8h1.4M279.0 105.7h1.4M304.5 99.2h1.4M302.6 113.3h1.4M269.1 92.8h1.4M287.6 71.3h1.4M196.9 81.2h1.4M296.6 91.1h1.4M227.5 107.7h1.4M288.4 87.9h1.4M260.4 94.3h1.4M307.6 117.1h1.4M276.4 85.7h1.4M283.9 99.2h1.4M277.3 98.4h1.4M245.4 85.5h1.4M292.6 98.5h1.4M268.3 108.8h1.4M250.1 106.7h1.4M221.5 88.6h1.4M251.4 130.9h1.4M225.2 96.1h1.4M252.2 89.7h1.4M282.9 83.3h1.4M260.7 80.1h1.4M294.9 108.2h1.4M263.1 53.7h1.4M234.7 90.8h1.4M223.4 77.4h1.4M232.0 90.6h1.4M285.4 93.9h1.4M230.7 77.7h1.4M273.7 79.5h1.4M220.5 105.4h1.4M218.9 86.3h1.4M277.6 94.1h1.4M252.3 89.2h1.4M270.6 105.9h1.4M242.3 107.8h1.4M251.9 105.2h1.4M202.9 96.5h1.4M270.5 102.0h1.4M270.0 76.8h1.4M216.3 105.3h1.4M249.3 86.0h1.4M302.7 80.0h1.4M182.9 87.9h1.4M219.4 83.8h1.4M307.1 102.4h1.4M296.1 106.7h1.4M212.0 104.4h1.4M239.5 91.7h1.4M297.4 85.1h1.4M239.1 89.4h1.4M281.3 76.4h1.4M211.5 84.5h1.4M229.9 114.9h1.4M284.3 82.5h1.4M278.0 87.3h1.4M255.0 101.7h1.4M236.1 95.7h1.4M264.0 104.4h1.4M237.3 82.4h1.4M235.4 80.2h1.4M289.5 115.6h1.4M288.9 83.8h1.4M234.0 91.5h1.4M256.3 96.2h1.4M264.0 67.9h1.4M210.1 89.9h1.4M288.8 84.3h1.4M217.7 97.4h1.4M227.0 88.9h1.4M195.1 72.0h1.4M224.8 100.8h1.4M213.3 66.4h1.4M239.7 87.9h1.4M199.8 85.2h1.4M272.0 85.1h1.4M265.6 93.6h1.4M219.2 102.0h1.4M286.1 80.8h1.4M272.8 85.0h1.4M245.3 102.3h1.4M210.5 96.7h1.4M273.7 104.6h1.4M263.4 98.3h1.4M208.2 89.3h1.4M227.2 86.9h1.4M294.5 87.0h1.4M223.5 102.0h1.4M265.0 114.7h1.4M257.0 120.0h1.4M246.8 80.0h1.4M187.0 89.0h1.4M189.7 91.0h1.4M290.3 92.0h1.4M287.6 76.7h1.4M214.7 113.9h1.4M268.7 115.5h1.4M264.4 91.4h1.4M253.9 87.3h1.4M276.0 94.0h1.4M291.9 75.2h1.4M259.4 88.9h1.4M304.8 108.5h1.4M223.0 110.0h1.4M239.5 103.5h1.4M268.9 112.5h1.4M291.4 77.7h1.4M267.5 47.7h1.4M273.4 114.3h1.4M306.9 98.5h1.4M266.8 92.6h1.4M222.2 110.1h1.4M213.7 82.2h1.4M250.6 80.9h1.4M269.0 83.2h1.4M193.8 104.9h1.4M299.9 111.0h1.4M244.4 70.8h1.4M239.6 112.9h1.4M295.9 95.1h1.4M264.1 99.7h1.4M265.1 82.9h1.4M293.7 125.6h1.4M232.9 97.6h1.4M257.9 111.3h1.4M269.7 79.5h1.4M304.8 107.3h1.4M268.0 95.2h1.4M249.7 90.3h1.4M299.2 81.3h1.4M269.3 83.8h1.4M263.5 77.3h1.4M246.5 84.7h1.4M232.2 92.3h1.4M218.6 98.2h1.4M254.4 72.6h1.4M201.3 82.0h1.4M224.8 85.5h1.4M303.6 67.0h1.4M263.4 89.6h1.4M300.9 90.6h1.4M292.1 91.6h1.4M286.8 101.1h1.4M281.4 108.9h1.4M270.2 105.6h1.4M303.5 99.9h1.4M190.5 95.9h1.4M275.4 82.2h1.4M215.2 82.3h1.4M203.4 97.5h1.4M281.3 103.1h1.4M235.1 118.6h1.4M268.8 90.6h1.4M275.7 79.3h1.4M186.7 93.2h1.4M265.0 87.4h1.4M193.0 83.5h1.4M254.1 111.5h1.4M236.4 115.6h1.4M242.4 97.5h1.4M278.3 84.3h1.4M291.7 98.9h1.4M272.5 93.2h1.4M241.1 75.8h1.4M288.2 108.0h1.4M218.9 95.7h1.4M270.2 112.3h1.4M291.0 85.7h1.4M257.9 93.3h1.4M245.3 91.6h1.4M187.3 77.1h1.4M272.4 131.2h1.4M200.1 72.5h1.4M257.5 77.9h1.4M264.4 88.7h1.4M257.0 72.3h1.4M259.8 99.4h1.4M232.5 87.2h1.4M287.0 95.8h1.4M261.1 96.9h1.4M232.9 93.5h1.4M255.2 94.8h1.4M220.5 90.6h1.4M222.8 96.9h1.4M258.4 104.7h1.4M262.1 90.2h1.4M191.3 87.4h1.4M256.7 88.2h1.4M224.6 95.8h1.4M258.9 88.6h1.4M221.5 88.2h1.4M198.4 77.9h1.4M269.5 122.3h1.4M204.2 80.1h1.4M220.9 110.4h1.4M281.2 107.0h1.4M252.0 107.1h1.4M277.7 98.5h1.4M235.1 98.8h1.4M190.9 93.6h1.4M197.1 96.7h1.4M234.1 102.8h1.4M232.4 110.6h1.4M268.1 79.8h1.4M226.1 98.1h1.4M183.2 103.5h1.4M256.1 112.8h1.4M296.1 78.2h1.4M307.0 101.3h1.4M280.7 99.2h1.4M284.9 98.9h1.4M229.7 66.9h1.4M250.9 105.1h1.4M271.3 70.6h1.4M211.3 114.1h1.4M218.4 99.4h1.4M250.7 92.4h1.4M205.7 98.0h1.4M251.1 95.7h1.4M198.5 86.9h1.4M237.1 92.1h1.4M234.9 97.3h1.4M257.8 83.0h1.4M272.1 105.3h1.4M276.9 112.0h1.4M201.1 101.8h1.4M203.8 103.1h1.4M265.8 113.2h1.4M247.5 102.9h1.4M253.8 111.7h1.4M289.5 96.5h1.4M213.3 96.6h1.4M254.3 113.3h1.4M302.8 129.9h1.4M213.0 88.8h1.4M267.0 73.4h1.4M224.2 116.7h1.4M222.5 105.5h1.4M234.2 115.1h1.4M283.0 109.6h1.4M269.1 98.3h1.4M276.5 85.3h1.4M271.7 80.4h1.4M230.3 110.1h1.4M306.5 113.8h1.4M291.3 100.9h1.4M287.1 77.4h1.4M277.7 87.0h1.4M301.3 85.3h1.4M306.5 90.9h1.4M302.3 45.7h1.4M285.5 99.1h1.4M232.1 111.7h1.4M256.9 86.7h1.4M184.4 91.5h1.4M270.8 99.0h1.4M303.4 78.6h1.4M216.6 97.1h1.4M254.6 83.1h1.4M220.6 88.0h1.4M272.8 98.7h1.4M278.6 94.3h1.4M229.2 94.2h1.4M225.5 82.6h1.4M257.4 104.4h1.4M199.9 81.9h1.4M271.2 107.6h1.4M204.4 87.5h1.4M301.6 75.4h1.4M230.5 92.1h1.4M260.8 79.4h1.4M268.4 86.9h1.4M280.7 92.9h1.4M221.5 101.4h1.4M269.2 106.6h1.4M298.7 104.3h1.4M260.5 90.4h1.4M285.6 70.8h1.4M253.3 91.1h1.4M272.2 90.1h1.4M198.5 90.7h1.4M243.9 87.0h1.4M244.1 87.0h1.4M307.8 110.9h1.4M192.3 80.1h1.4M219.0 92.8h1.4M240.4 109.4h1.4M233.5 84.1h1.4M283.8 79.5h1.4M278.8 91.7h1.4M199.8 88.7h1.4M288.8 99.9h1.4M284.5 117.3h1.4M254.3 92.4h1.4M267.7 103.0h1.4M301.2 85.9h1.4M248.0 87.5h1.4M305.1 101.5h1.4M215.0 85.5h1.4M294.6 116.2h1.4M280.9 88.8h1.4M256.9 92.0h1.4M200.1 82.2h1.4M240.9 88.1h1.4M251.9 80.5h1.4M302.8 87.5h1.4M274.8 67.7h1.4M292.7 95.5h1.4M226.9 113.0h1.4M290.4 64.4h1.4M245.1 116.3h1.4M263.1 92.7h1.4M240.4 104.7h1.4M240.8 80.8h1.4M226.1 116.1h1.4M212.0 81.3h1.4M307.4 94.9h1.4M301.9 123.5h1.4M215.8 79.0h1.4M210.7 68.5h1.4M275.3 93.8h1.4M304.4 82.4h1.4M292.9 79.2h1.4M256.4 81.4h1.4M233.0 75.6h1.4M294.0 119.6h1.4M207.1 104.2h1.4M274.9 73.8h1.4M253.3 92.6h1.4M251.8 87.7h1.4M265.4 110.7h1.4M245.0 82.8h1.4M273.0 119.7h1.4M250.6 94.0h1.4M241.9 83.5h1.4M285.7 93.9h1.4M277.5 85.8h1.4M259.3 126.4h1.4M268.5 96.9h1.4M272.7 87.4h1.4M292.0 97.2h1.4M246.6 113.2h1.4M199.9 82.8h1.4M226.1 73.5h1.4M287.6 117.2h1.4M238.5 101.1h1.4M271.8 87.8h1.4M273.4 93.6h1.4M235.5 106.9h1.4M253.4 56.4h1.4M266.1 113.4h1.4M275.2 92.1h1.4M257.7 103.7h1.4M293.7 94.7h1.4M298.5 150.1h1.4M236.4 85.6h1.4M302.1 115.6h1.4M194.1 68.3h1.4M303.2 96.7h1.4M281.1 107.8h1.4M188.8 78.2h1.4M234.0 68.3h1.4M210.3 93.2h1.4M302.5 114.1h1.4M304.0 117.4h1.4M251.9 84.4h1.4M288.6 101.2h1.4M274.0 72.7h1.4M307.3 128.1h1.4M247.3 86.0h1.4M226.8 107.7h1.4M283.9 90.7h1.4M237.5 89.1h1.4M254.0 116.5h1.4M285.1 80.8h1.4M230.8 108.5h1.4M231.9 88.7h1.4M253.0 81.7h1.4M249.7 82.3h1.4M214.0 104.3h1.4M207.4 91.2h1.4M270.5 89.1h1.4M206.0 76.9h1.4M196.1 102.3h1.4M293.9 113.6h1.4M221.7 96.3h1.4M245.4 103.9h1.4M231.6 53.6h1.4M228.0 86.6h1.4M291.4 98.1h1.4M216.8 93.5h1.4M213.7 86.2h1.4M295.6 99.7h1.4M187.0 85.1h1.4M303.3 84.0h1.4M271.4 75.3h1.4M241.1 95.1h1.4M269.2 83.5h1.4M285.8 86.8h1.4M203.0 105.3h1.4M199.2 91.3h1.4M299.7 95.0h1.4M205.0 76.7h1.4M214.0 86.7h1.4M306.2 113.9h1.4M231.0 99.6h1.4M248.1 94.3h1.4M262.0 91.6h1.4M298.9 96.8h1.4M271.4 100.7h1.4M288.7 89.7h1.4M276.8 55.2h1.4M216.0 113.6h1.4M190.9 101.3h1.4M240.6 91.3h1.4M269.1 116.0h1.4M292.9 72.9h1.4M301.6 118.9h1.4M277.6 97.8h1.4M271.4 108.3h1.4M255.3 89.0h1.4M229.0 94.7h1.4M206.6 97.8h1.4M200.9 101.8h1.4M302.5 105.1h1.4M286.0 102.5h1.4M284.9 85.3h1.4M288.9 124.3h1.4M217.0 94.7h1.4M290.7 91.5h1.4M237.7 89.1h1.4M247.6 77.4h1.4M293.5 82.6h1.4M249.4 72.9h1.4M257.1 96.9h1.4M237.0 92.2h1.4M304.7 99.8h1.4M307.4 72.9h1.4M204.7 87.7h1.4M306.7 84.1h1.4M260.3 108.5h1.4M269.9 71.6h1.4M266.2 71.5h1.4M277.2 115.2h1.4M228.2 97.1h1.4M245.3 72.7h1.4M251.8 112.4h1.4M290.3 120.7h1.4M292.5 115.0h1.4M278.1 61.8h1.4M235.2 94.6h1.4M234.1 82.4h1.4M216.8 89.5h1.4M230.7 73.9h1.4M201.2 108.4h1.4M250.5 84.2h1.4M254.2 97.7h1.4M197.3 99.1h1.4M197.6 97.3h1.4M254.5 99.6h1.4M298.1 88.7h1.4M231.8 95.6h1.4M305.4 91.8h1.4M246.2 63.2h1.4M214.7 103.0h1.4M295.0 84.5h1.4M243.2 86.6h1.4M290.2 88.2h1.4M220.8 76.9h1.4M197.7 80.3h1.4M287.8 64.8h1.4M201.1 96.2h1.4M235.6 107.8h1.4M216.8 93.2h1.4M217.8 79.8h1.4M230.6 108.6h1.4M288.8 89.8h1.4M225.9 74.1h1.4M276.7 64.8h1.4M242.7 95.7h1.4M257.8 114.6h1.4M186.3 87.9h1.4M196.3 85.7h1.4M211.8 89.3h1.4M233.7 82.5h1.4M282.5 86.0h1.4M297.9 100.0h1.4M256.0 83.6h1.4M290.6 111.1h1.4M236.8 80.8h1.4M238.7 102.2h1.4M276.0 100.1h1.4M295.3 88.7h1.4M268.8 89.8h1.4M252.4 89.2h1.4M220.8 111.3h1.4M204.5 83.8h1.4M277.8 113.7h1.4M279.5 111.0h1.4M286.4 89.4h1.4M236.8 113.4h1.4M237.7 63.1h1.4M284.7 99.0h1.4M280.3 96.9h1.4M279.7 95.1h1.4M280.1 108.3h1.4M250.1 88.1h1.4M284.4 91.9h1.4M234.3 107.2h1.4M290.8 93.2h1.4M261.6 78.9h1.4M234.9 100.1h1.4M237.7 92.1h1.4M200.6 86.3h1.4M221.5 98.7h1.4M290.6 82.0h1.4M234.6 80.9h1.4M237.2 89.8h1.4M240.9 90.8h1.4M235.0 93.7h1.4M189.0 80.9h1.4M186.3 105.5h1.4M248.5 102.7h1.4M252.5 95.7h1.4M307.3 100.1h1.4M264.7 56.9h1.4M301.4 112.2h1.4M281.8 78.2h1.4M243.0 99.9h1.4M241.3 77.8h1.4M251.2 107.2h1.4M189.8 86.6h1.4M276.3 91.3h1.4M232.7 111.6h1.4M293.7 112.4h1.4M210.9 77.8h1.4M221.6 84.6h1.4M272.2 97.5h1.4M289.4 91.2h1.4M227.4 102.2h1.4M276.5 83.8h1.4M306.2 61.4h1.4M214.9 82.4h1.4M273.2 91.6h1.4M295.3 104.9h1.4M200.8 98.8h1.4M292.1 116.6h1.4M285.3 98.9h1.4M253.9 90.9h1.4M241.7 102.8h1.4M280.7 93.2h1.4M298.4 87.2h1.4M266.2 87.2h1.4M227.2 103.6h1.4M254.1 114.6h1.4M278.4 115.8h1.4M197.2 76.7h1.4M189.0 100.6h1.4M257.2 77.9h1.4M288.6 89.3h1.4M261.4 102.6h1.4M249.9 75.4h1.4M258.0 76.3h1.4M223.8 84.0h1.4M239.7 114.8h1.4M297.5 114.4h1.4M282.8 80.2h1.4M200.7 93.0h1.4M262.8 96.1h1.4M226.2 96.3h1.4M307.7 82.7h1.4M256.9 114.4h1.4M284.9 88.7h1.4M305.8 110.8h1.4M231.0 72.5h1.4M257.1 99.5h1.4M280.0 97.1h1.4M280.8 116.9h1.4M250.7 58.0h1.4M255.4 101.7h1.4M242.6 103.9h1.4M199.9 89.1h1.4M204.7 104.9h1.4M229.3 117.9h1.4M250.8 105.7h1.4M211.5 100.6h1.4M300.7 119.8h1.4M284.6 102.3h1.4M290.0 116.1h1.4M248.0 101.6h1.4M297.7 83.4h1.4M272.3 78.2h1.4M207.9 103.9h1.4M226.8 99.8h1.4M220.7 85.0h1.4M290.5 95.7h1.4M306.6 122.8h1.4M236.7 71.6h1.4M244.1 81.5h1.4M242.9 102.5h1.4M284.2 108.6h1.4M306.2 74.3h1.4M199.4 82.2h1.4M277.1 97.3h1.4M280.6 117.7h1.4M189.8 91.4h1.4M200.5 69.5h1.4M249.3 107.6h1.4M276.2 94.3h1.4M300.1 87.4h1.4M301.3 74.8h1.4M241.4 108.8h1.4M293.6 100.0h1.4M293.1 102.3h1.4M269.7 99.8h1.4M256.5 100.1h1.4M255.5 105.7h1.4M251.7 117.4h1.4M210.4 81.1h1.4M275.8 93.5h1.4M204.7 87.4h1.4M265.8 119.5h1.4M283.4 90.2h1.4M268.0 69.9h1.4M259.2 93.6h1.4M256.9 83.5h1.4M204.5 84.5h1.4M281.4 87.6h1.4M289.2 73.0h1.4M260.1 66.0h1.4M277.3 125.8h1.4M300.6 93.4h1.4M259.3 80.5h1.4M190.1 96.7h1.4M267.8 114.6h1.4M219.6 73.0h1.4M282.0 87.6h1.4M270.8 98.8h1.4M281.2 81.1h1.4M220.5 97.5h1.4M210.3 79.2h1.4M253.5 84.5h1.4M294.3 93.3h1.4M242.1 98.9h1.4M296.0 96.1h1.4M230.8 84.6h1.4M192.2 88.1h1.4M240.4 66.0h1.4M213.6 114.9h1.4M242.0 88.0h1.4M263.4 89.8h1.4M246.8 97.1h1.4M281.2 104.1h1.4M299.3 101.7h1.4M208.5 85.1h1.4M192.9 76.6h1.4M216.0 90.4h1.4M200.7 84.0h1.4M225.2 86.2h1.4M232.4 92.9h1.4M293.2 99.5h1.4M279.0 115.5h1.4M268.2 92.1h1.4M236.9 71.3h1.4M303.8 106.3h1.4M276.1 109.3h1.4M195.2 76.5h1.4M229.7 100.1h1.4M184.6 92.6h1.4M225.5 86.3h1.4M246.6 95.7h1.4M295.6 102.2h1.4M273.5 103.8h1.4M245.0 108.6h1.4M238.0 92.9h1.4M302.2 95.5h1.4M229.5 121.7h1.4M294.1 76.7h1.4M268.7 90.1h1.4M227.8 88.5h1.4M289.0 108.1h1.4M239.5 107.3h1.4M257.5 75.0h1.4M289.6 116.0h1.4M198.7 80.4h1.4M296.0 141.1h1.4M280.6 83.9h1.4M200.9 102.3h1.4M253.5 90.0h1.4M285.5 106.8h1.4M295.0 82.3h1.4M221.3 94.0h1.4M297.6 95.9h1.4M264.7 95.5h1.4M264.6 106.0h1.4M222.6 87.5h1.4M306.1 89.8h1.4M293.8 72.5h1.4M282.3 92.6h1.4M281.3 86.8h1.4M209.5 101.1h1.4M280.6 105.7h1.4M255.7 83.6h1.4M219.1 97.3h1.4M262.9 113.5h1.4M287.3 91.5h1.4M232.1 78.6h1.4M232.8 123.1h1.4M241.1 100.4h1.4M292.8 107.4h1.4M288.6 137.5h1.4M207.0 83.9h1.4M268.8 99.0h1.4M288.6 63.1h1.4M250.6 100.4h1.4M286.6 101.7h1.4M297.8 81.6h1.4M271.1 81.3h1.4M255.7 91.3h1.4M275.5 91.0h1.4M276.3 119.8h1.4M266.5 90.6h1.4M248.6 91.4h1.4M283.7 92.0h1.4M297.4 67.2h1.4M242.4 87.0h1.4M186.3 79.8h1.4M240.4 94.9h1.4M224.5 67.3h1.4M250.6 78.2h1.4M247.0 96.9h1.4M262.8 63.1h1.4M306.3 67.1h1.4M238.6 105.8h1.4M278.3 73.3h1.4M300.2 95.4h1.4M284.8 100.0h1.4M225.1 80.3h1.4M258.4 69.6h1.4M278.7 119.3h1.4M227.5 86.1h1.4M287.7 103.8h1.4M201.2 84.4h1.4M285.1 101.0h1.4M258.2 75.0h1.4M219.3 77.1h1.4M197.8 81.8h1.4M276.5 84.6h1.4M221.7 85.4h1.4M241.6 89.0h1.4M255.1 99.9h1.4M277.4 86.1h1.4M280.7 110.0h1.4M251.0 84.5h1.4M273.7 104.9h1.4M289.1 117.3h1.4M258.2 118.9h1.4M201.5 72.5h1.4M286.3 123.8h1.4M268.8 67.4h1.4M254.7 113.7h1.4M204.1 91.7h1.4M216.6 96.1h1.4M259.0 80.3h1.4M269.8 108.7h1.4M252.8 103.3h1.4M269.7 85.9h1.4M281.0 84.8h1.4M288.7 109.6h1.4M297.8 113.7h1.4M287.0 107.9h1.4M305.8 88.8h1.4M209.8 92.1h1.4M220.5 103.0h1.4M196.1 99.2h1.4M248.6 108.9h1.4M256.7 95.9h1.4M290.7 83.2h1.4M196.9 94.2h1.4M215.4 97.1h1.4M306.9 86.0h1.4M224.2 97.8h1.4M189.7 84.0h1.4M274.6 98.6h1.4M269.3 85.1h1.4M230.6 118.4h1.4M296.6 116.4h1.4M291.4 99.7h1.4M293.4 72.6h1.4M306.3 73.2h1.4M292.1 107.3h1.4M264.3 91.9h1.4M210.2 95.2h1.4M225.8 74.3h1.4M307.3 68.1h1.4M225.1 94.0h1.4M249.4 90.7h1.4M239.5 76.1h1.4M306.7 81.1h1.4M240.3 103.3h1.4M244.8 87.6h1.4M262.7 102.6h1.4M236.2 113.8h1.4M305.0 101.9h1.4M294.6 97.6h1.4M298.8 85.0h1.4M191.3 102.0h1.4M272.5 72.0h1.4M243.3 78.9h1.4M254.6 93.5h1.4M264.4 72.3h1.4M278.9 110.5h1.4M219.1 85.5h1.4M187.6 95.7h1.4M291.0 89.9h1.4M243.4 90.0h1.4M297.4 95.7h1.4M241.1 67.9h1.4M203.2 81.1h1.4M196.5 87.2h1.4M276.5 129.9h1.4M290.3 109.0h1.4M269.8 105.5h1.4M303.5 76.9h1.4M224.4 102.9h1.4M193.6 102.6h1.4M277.8 106.7h1.4M304.1 143.4h1.4M280.0 73.0h1.4M263.2 78.2h1.4M290.4 90.7h1.4M237.2 80.8h1.4M290.3 96.1h1.4M193.8 96.1h1.4M226.8 92.5h1.4M272.8 96.1h1.4M200.2 95.5h1.4M292.3 108.6h1.4M298.3 83.8h1.4M289.4 83.8h1.4M254.5 110.5h1.4M290.7 89.4h1.4M252.2 82.1h1.4M271.8 98.8h1.4M184.9 88.1h1.4M245.4 95.0h1.4M216.2 91.6h1.4M252.6 102.4h1.4M302.8 112.2h1.4M287.1 81.1h1.4M245.2 77.3h1.4M305.0 124.8h1.4M272.8 83.8h1.4M276.7 69.9h1.4M263.2 66.1h1.4M273.8 93.9h1.4M265.5 84.5h1.4M295.5 63.3h1.4M273.0 79.7h1.4M222.4 80.4h1.4M258.1 108.1h1.4M246.2 96.5h1.4M264.8 93.9h1.4M270.9 74.7h1.4M288.0 91.9h1.4M250.8 102.6h1.4M214.8 93.9h1.4M247.5 107.6h1.4M277.0 95.8h1.4M268.8 104.8h1.4M232.2 98.4h1.4M257.3 85.7h1.4M256.0 112.7h1.4M231.6 97.2h1.4M227.9 102.4h1.4M238.6 79.5h1.4M303.6 75.9h1.4M294.9 92.1h1.4M269.6 81.9h1.4M266.1 103.4h1.4M257.5 99.6h1.4M237.6 108.5h1.4M225.1 99.4h1.4M302.9 75.1h1.4M248.7 106.3h1.4M266.2 84.3h1.4M202.7 84.5h1.4M232.7 93.6h1.4M290.3 94.9h1.4M301.9 114.1h1.4M242.7 130.1h1.4M250.8 99.3h1.4M226.3 109.6h1.4M297.1 91.6h1.4M270.9 99.5h1.4M196.1 86.7h1.4M303.5 87.9h1.4M283.0 116.8h1.4M211.8 96.8h1.4M253.3 99.8h1.4M304.4 81.0h1.4M240.4 115.1h1.4M231.0 90.6h1.4M286.5 84.0h1.4M191.5 91.1h1.4M306.6 108.0h1.4M265.0 105.2h1.4M282.2 118.7h1.4M245.5 79.2h1.4M249.6 87.6h1.4M213.3 108.6h1.4M188.7 110.6h1.4M254.3 84.9h1.4M207.3 90.9h1.4M211.0 75.9h1.4M211.4 83.4h1.4M275.8 80.5h1.4M278.6 93.0h1.4M248.4 77.4h1.4M186.8 98.9h1.4M197.8 91.0h1.4M219.0 89.5h1.4M246.6 105.7h1.4M196.9 89.0h1.4M265.5 75.6h1.4M238.6 93.4h1.4M212.8 115.0h1.4M234.7 94.2h1.4M193.5 96.0h1.4M275.2 91.4h1.4M265.7 90.9h1.4M183.1 95.0h1.4M246.0 58.2h1.4M266.1 75.6h1.4M228.7 85.6h1.4M291.6 90.5h1.4M249.2 113.2h1.4M237.0 123.8h1.4M289.9 105.8h1.4M240.2 98.3h1.4M269.3 104.7h1.4M287.6 120.2h1.4M266.8 79.4h1.4M300.2 86.7h1.4M234.9 94.9h1.4M183.9 93.4h1.4M260.0 66.4h1.4M282.5 101.8h1.4M183.6 78.1h1.4M298.7 108.9h1.4M305.3 111.1h1.4M298.5 55.4h1.4M279.6 102.8h1.4M281.9 97.9h1.4M218.2 85.5h1.4M190.2 99.4h1.4M279.5 126.9h1.4M251.9 100.4h1.4M302.2 75.9h1.4M271.9 72.1h1.4M273.2 76.2h1.4M250.0 79.6h1.4M302.9 115.8h1.4M209.8 94.9h1.4M267.7 93.8h1.4M265.8 107.2h1.4M276.4 94.8h1.4M226.7 93.0h1.4M252.9 81.9h1.4M190.1 85.8h1.4M230.0 93.1h1.4M307.6 74.2h1.4M256.6 117.3h1.4M288.9 97.1h1.4M187.1 86.5h1.4M295.6 112.2h1.4M219.3 80.6h1.4M221.2 104.3h1.4M206.8 92.7h1.4M287.2 126.4h1.4M290.1 85.7h1.4M220.7 87.9h1.4M295.8 80.5h1.4M264.6 75.5h1.4M243.0 96.5h1.4M299.6 76.6h1.4M231.9 96.7h1.4M187.3 85.7h1.4M247.5 107.5h1.4M217.7 64.3h1.4M299.2 102.7h1.4M220.3 92.9h1.4M183.5 90.9h1.4M273.9 84.5h1.4M216.5 111.1h1.4M254.4 87.9h1.4M276.4 101.2h1.4M186.5 88.8h1.4M281.9 88.8h1.4M268.5 95.5h1.4M236.4 101.4h1.4M209.8 80.4h1.4M239.2 87.0h1.4M202.9 78.0h1.4M227.3 97.3h1.4M290.8 80.5h1.4M267.2 82.9h1.4M201.3 97.8h1.4M300.3 95.1h1.4M287.8 101.6h1.4M277.9 92.2h1.4M259.2 99.7h1.4M291.9 96.5h1.4M294.3 75.8h1.4M297.0 98.9h1.4M284.4 89.1h1.4M307.9 91.2h1.4M216.4 95.2h1.4M208.8 86.2h1.4M249.2 79.0h1.4M203.1 103.2h1.4M226.8 114.1h1.4M273.2 88.9h1.4M259.2 110.3h1.4M290.7 101.5h1.4M206.3 85.3h1.4M191.5 83.9h1.4M198.3 88.8h1.4M245.1 87.6h1.4M241.4 88.8h1.4M201.2 90.4h1.4M301.8 75.1h1.4M238.1 103.9h1.4M296.0 75.4h1.4M233.2 79.7h1.4M239.6 104.8h1.4M252.9 104.1h1.4M293.2 120.1h1.4M271.1 96.3h1.4M290.1 84.0h1.4M188.1 100.8h1.4M259.8 92.4h1.4M268.8 92.2h1.4M222.2 82.8h1.4M297.2 102.3h1.4M275.3 57.2h1.4M287.6 103.7h1.4M290.3 61.0h1.4M280.7 108.7h1.4M214.1 75.5h1.4M270.4 104.6h1.4M277.1 133.7h1.4M276.1 90.0h1.4M288.1 75.3h1.4M288.2 127.6h1.4M295.7 87.5h1.4M227.0 79.5h1.4M303.8 118.2h1.4M193.6 65.8h1.4M281.1 70.5h1.4M239.8 76.2h1.4M231.2 84.3h1.4M217.3 70.0h1.4M238.1 103.4h1.4M247.1 107.0h1.4M194.8 90.8h1.4M294.8 87.9h1.4M259.7 71.2h1.4M205.3 96.4h1.4M281.3 83.2h1.4M241.7 101.1h1.4M278.3 110.8h1.4M258.7 94.4h1.4M275.4 61.0h1.4M257.1 80.3h1.4M279.6 116.6h1.4M216.6 95.1h1.4M262.9 114.9h1.4M225.3 66.5h1.4M198.6 90.4h1.4M236.1 90.7h1.4M295.8 66.8h1.4M228.7 85.0h1.4M291.3 111.7h1.4M270.4 102.5h1.4M254.3 86.1h1.4M293.9 100.8h1.4M271.3 112.7h1.4M266.2 77.8h1.4M261.8 98.2h1.4M235.3 105.9h1.4M271.8 83.6h1.4M237.3 109.4h1.4M219.9 91.3h1.4M200.2 102.1h1.4M255.9 106.8h1.4M187.4 93.3h1.4M195.6 88.7h1.4M280.8 84.0h1.4M305.1 98.7h1.4M191.2 93.1h1.4M278.3 117.1h1.4M288.1 93.5h1.4M288.7 100.9h1.4M302.1 125.8h1.4M270.1 99.2h1.4M298.7 103.5h1.4M228.0 111.7h1.4M272.6 95.8h1.4M285.5 101.5h1.4M290.8 108.0h1.4M200.5 90.5h1.4M184.4 81.8h1.4M290.1 70.2h1.4M297.3 91.7h1.4M206.3 103.1h1.4M197.4 100.7h1.4M290.1 122.8h1.4M249.0 105.8h1.4M230.1 84.9h1.4M289.2 70.4h1.4M231.4 86.5h1.4M195.5 89.0h1.4M248.5 83.4h1.4M280.6 109.6h1.4M198.4 84.1h1.4M193.7 96.5h1.4M241.2 103.3h1.4M194.9 75.6h1.4M241.1 87.7h1.4M225.6 107.2h1.4M242.3 104.2h1.4M251.0 95.2h1.4M262.0 77.7h1.4M191.1 85.1h1.4M270.4 95.6h1.4M272.9 114.0h1.4M233.0 98.9h1.4M218.9 91.3h1.4M247.9 96.6h1.4M217.4 100.8h1.4M222.5 72.5h1.4M278.8 78.7h1.4M286.8 95.4h1.4M285.7 115.0h1.4M300.6 114.7h1.4M237.6 83.2h1.4M247.5 93.7h1.4M187.1 84.8h1.4M248.6 88.1h1.4M189.1 92.4h1.4M210.6 88.2h1.4M307.0 85.4h1.4M280.2 75.8h1.4M248.8 71.9h1.4M246.2 90.7h1.4M267.2 97.0h1.4M283.4 104.9h1.4M285.9 81.2h1.4M238.0 83.8h1.4M185.4 101.4h1.4M282.5 101.5h1.4M299.6 111.1h1.4M289.9 85.3h1.4M273.8 83.2h1.4M266.7 76.8h1.4M242.9 106.1h1.4M206.7 80.4h1.4M302.1 64.3h1.4M233.0 83.6h1.4M281.9 115.3h1.4M232.4 93.1h1.4M255.1 96.9h1.4M295.0 97.2h1.4M296.6 94.4h1.4M245.4 91.0h1.4M300.7 70.3h1.4M297.9 124.6h1.4M307.1 92.8h1.4M277.5 113.8h1.4M303.8 67.2h1.4M285.0 103.7h1.4M192.5 80.8h1.4M302.5 72.2h1.4M257.4 97.5h1.4M224.1 104.3h1.4M252.2 112.4h1.4M304.0 119.6h1.4M296.6 90.4h1.4M279.2 107.1h1.4M286.3 84.8h1.4M240.6 86.1h1.4M276.2 98.3h1.4M281.5 92.7h1.4M284.6 108.8h1.4M302.1 62.5h1.4M227.2 105.9h1.4M239.6 85.6h1.4M294.3 120.7h1.4M199.3 102.3h1.4M234.4 78.6h1.4M252.4 92.8h1.4M234.3 101.2h1.4M191.8 84.3h1.4M273.9 82.8h1.4M196.4 88.6h1.4M273.7 106.0h1.4M296.4 111.1h1.4M276.9 87.8h1.4M292.6 109.3h1.4M192.0 104.2h1.4M295.7 111.2h1.4M286.1 82.7h1.4M285.0 80.9h1.4M284.2 99.5h1.4M300.9 110.1h1.4M197.1 95.4h1.4M203.1 87.9h1.4M307.9 78.6h1.4M260.2 112.2h1.4M288.1 92.5h1.4M273.2 123.4h1.4M218.8 79.7h1.4M249.7 89.0h1.4M243.0 84.9h1.4M218.9 112.6h1.4M278.3 114.3h1.4M253.7 86.8h1.4M294.1 62.0h1.4M244.3 108.5h1.4M285.9 97.1h1.4M237.6 78.9h1.4M205.5 77.0h1.4M297.7 102.4h1.4M229.1 90.3h1.4M306.4 98.4h1.4M272.6 100.6h1.4M240.2 88.5h1.4M246.7 89.8h1.4M297.1 107.0h1.4M301.9 93.6h1.4M240.0 89.7h1.4M247.4 102.0h1.4M253.8 66.3h1.4M244.2 109.7h1.4M306.2 103.9h1.4M288.3 82.3h1.4M240.3 91.0h1.4M267.5 112.8h1.4M251.0 101.2h1.4M290.6 65.1h1.4M306.5 77.3h1.4M223.4 94.7h1.4M269.2 121.5h1.4M237.0 102.7h1.4M192.7 89.6h1.4M297.6 105.7h1.4M279.6 95.1h1.4M222.7 89.2h1.4M276.4 100.7h1.4M304.5 57.2h1.4M259.4 108.5h1.4M242.0 100.3h1.4M234.4 87.7h1.4M291.1 80.8h1.4M240.9 77.9h1.4M191.9 93.8h1.4M292.2 97.9h1.4M283.7 97.9h1.4M269.4 120.4h1.4M226.3 67.2h1.4M268.9 83.5h1.4M268.2 82.8h1.4M290.3 111.3h1.4M274.9 90.8h1.4M238.6 81.4h1.4M212.8 94.4h1.4M294.4 102.5h1.4M267.6 118.6h1.4M202.9 94.3h1.4M222.4 87.6h1.4M262.3 86.9h1.4M216.6 83.6h1.4M236.5 99.2h1.4M229.2 102.5h1.4M283.8 91.3h1.4M273.5 92.5h1.4M308.0 121.3h1.4M237.1 94.5h1.4M304.2 104.8h1.4M293.7 76.8h1.4M243.6 85.6h1.4M237.2 66.5h1.4M199.7 78.9h1.4M253.8 99.0h1.4M298.8 117.6h1.4M188.3 89.0h1.4M270.7 76.3h1.4M267.9 95.8h1.4M209.8 103.8h1.4M245.8 91.4h1.4M232.4 104.1h1.4M264.6 93.4h1.4M304.6 73.6h1.4M276.4 80.5h1.4M245.1 90.1h1.4M217.6 117.2h1.4M251.2 101.7h1.4M262.3 90.7h1.4M248.0 97.5h1.4M276.6 98.1h1.4M250.1 87.7h1.4M243.9 92.1h1.4M219.9 89.7h1.4M198.9 98.6h1.4M243.9 113.8h1.4M201.8 104.5h1.4M205.6 88.8h1.4M287.6 104.4h1.4M282.1 83.3h1.4M295.7 76.6h1.4M215.3 93.2h1.4M229.1 100.1h1.4M218.8 91.8h1.4M203.0 99.9h1.4M267.2 106.8h1.4M224.6 101.4h1.4M257.9 91.9h1.4M265.7 74.2h1.4M284.8 124.7h1.4M223.9 87.3h1.4M271.7 105.8h1.4M231.1 98.8h1.4M259.6 89.1h1.4M244.6 117.5h1.4M211.5 99.2h1.4M216.0 92.2h1.4M293.1 88.3h1.4M244.8 80.8h1.4M278.9 74.7h1.4M266.5 102.9h1.4M216.9 87.6h1.4M292.2 87.7h1.4M274.1 102.5h1.4M255.9 89.1h1.4M209.6 98.8h1.4M278.2 84.7h1.4M298.9 86.6h1.4M273.7 108.9h1.4M303.3 83.6h1.4M234.5 100.6h1.4M227.7 98.8h1.4M215.3 92.4h1.4M306.4 65.9h1.4M212.2 78.6h1.4M307.4 76.0h1.4M277.1 74.5h1.4M252.0 105.6h1.4M287.2 80.8h1.4M216.9 79.0h1.4M307.7 86.8h1.4M282.0 93.4h1.4M228.6 73.3h1.4M276.1 104.2h1.4M183.4 96.9h1.4M292.3 85.3h1.4M229.0 102.4h1.4M205.5 76.6h1.4M280.6 86.1h1.4M241.7 91.3h1.4M275.3 95.8h1.4M247.0 108.8h1.4M269.3 89.5h1.4M237.5 80.6h1.4M297.1 99.3h1.4M269.8 96.8h1.4M232.8 98.4h1.4M295.2 89.7h1.4M267.3 96.9h1.4M228.2 86.2h1.4M277.3 103.6h1.4M303.7 84.0h1.4M302.5 84.7h1.4M307.3 117.2h1.4M269.8 83.0h1.4M294.7 95.5h1.4M269.0 103.0h1.4M285.5 89.9h1.4M270.9 108.2h1.4M213.3 86.2h1.4M228.5 104.8h1.4M196.8 77.4h1.4M270.0 74.0h1.4M258.5 95.0h1.4M211.4 106.9h1.4M305.1 124.8h1.4M212.5 83.3h1.4M231.5 92.6h1.4M260.6 87.1h1.4M266.8 62.6h1.4M250.4 103.4h1.4M239.3 88.5h1.4M280.8 116.8h1.4M297.6 100.4h1.4M221.5 86.6h1.4M224.5 84.8h1.4M297.4 92.3h1.4M243.1 99.3h1.4M296.7 87.1h1.4M276.4 138.5h1.4M262.3 97.2h1.4M242.9 78.8h1.4M256.6 95.1h1.4M193.6 101.5h1.4M259.2 100.1h1.4M197.6 88.6h1.4M211.4 85.3h1.4M256.5 82.9h1.4M258.8 77.2h1.4M286.1 86.6h1.4M223.8 95.6h1.4M278.3 85.9h1.4M227.7 111.7h1.4M217.5 96.5h1.4M199.4 87.5h1.4M238.5 92.8h1.4M230.5 110.3h1.4M233.9 72.4h1.4M291.9 99.3h1.4M200.0 116.7h1.4M299.0 113.1h1.4M240.0 81.9h1.4M216.5 93.7h1.4M301.3 91.5h1.4M256.9 132.9h1.4M219.3 85.1h1.4M264.0 90.2h1.4M211.3 88.7h1.4M306.6 70.1h1.4M304.4 36.7h1.4M198.8 89.4h1.4M207.2 97.1h1.4M275.7 87.9h1.4M271.8 102.1h1.4M250.3 103.8h1.4M297.3 107.6h1.4M256.5 70.2h1.4M257.8 115.2h1.4M287.4 109.3h1.4M302.9 110.0h1.4M278.5 95.0h1.4M284.1 95.0h1.4M293.8 86.2h1.4M273.5 101.1h1.4M252.8 106.4h1.4M203.1 86.3h1.4M253.0 105.0h1.4M184.9 87.3h1.4M238.4 100.6h1.4M238.8 91.4h1.4M224.6 102.4h1.4M307.9 131.0h1.4M267.2 97.7h1.4M256.7 87.1h1.4M274.5 88.0h1.4M199.2 97.5h1.4M256.6 87.0h1.4M283.7 110.9h1.4M280.8 99.7h1.4M230.6 103.7h1.4M263.0 86.2h1.4M282.0 79.6h1.4M262.4 83.4h1.4M234.6 97.9h1.4M306.2 81.7h1.4M273.8 105.3h1.4M281.5 61.9h1.4M288.5 84.2h1.4M303.9 92.9h1.4M301.8 63.4h1.4M292.4 85.0h1.4M294.5 69.9h1.4M254.5 92.9h1.4M274.7 90.9h1.4M226.9 101.4h1.4M248.8 82.4h1.4M272.0 69.7h1.4M205.5 86.6h1.4M212.5 93.6h1.4M292.0 97.0h1.4M242.5 95.6h1.4M289.4 115.7h1.4M240.8 88.8h1.4M259.5 91.1h1.4M279.3 81.5h1.4M235.5 85.9h1.4M208.6 102.6h1.4M228.3 97.1h1.4M249.9 58.6h1.4M216.7 105.4h1.4M244.9 67.6h1.4M292.0 88.5h1.4M297.0 112.5h1.4M298.5 98.0h1.4M206.6 97.5h1.4M273.9 108.1h1.4M303.4 101.2h1.4M265.3 75.9h1.4M215.6 96.3h1.4M298.5 83.6h1.4M248.9 61.4h1.4M272.8 90.2h1.4M265.1 102.5h1.4M199.8 92.9h1.4M231.9 93.2h1.4M290.0 124.5h1.4M271.7 98.8h1.4M244.5 105.5h1.4M262.5 99.1h1.4M274.5 120.3h1.4M211.3 88.5h1.4M270.9 112.6h1.4M267.8 121.7h1.4M274.5 89.0h1.4M256.2 108.7h1.4M215.9 78.0h1.4M237.0 97.2h1.4M304.8 109.3h1.4M239.9 82.9h1.4M253.7 69.3h1.4M252.6 94.6h1.4M289.6 90.0h1.4M296.1 99.0h1.4M209.2 95.2h1.4M234.2 103.4h1.4M211.4 108.4h1.4M298.2 103.4h1.4M226.8 75.3h1.4M274.8 105.4h1.4M223.8 97.3h1.4M250.2 95.9h1.4M259.5 116.9h1.4M259.8 98.1h1.4M306.3 89.8h1.4M294.4 103.8h1.4M283.1 69.5h1.4M307.6 113.8h1.4M239.6 94.3h1.4M288.2 123.7h1.4M299.6 108.1h1.4M238.8 98.3h1.4M262.6 97.3h1.4M290.7 75.9h1.4M248.7 92.9h1.4M187.6 93.9h1.4M252.6 107.6h1.4M245.0 99.5h1.4M274.4 105.9h1.4M294.9 107.8h1.4M231.4 87.0h1.4M272.6 99.7h1.4M198.9 90.0h1.4M285.1 75.2h1.4M289.8 70.5h1.4M239.8 104.2h1.4M257.4 114.6h1.4M261.1 115.1h1.4M304.9 81.2h1.4M288.8 120.8h1.4M264.9 117.7h1.4M304.3 82.9h1.4M225.1 98.7h1.4M256.6 118.4h1.4M211.2 93.5h1.4M228.0 107.1h1.4M245.2 85.9h1.4M304.1 90.5h1.4M247.5 105.8h1.4M194.6 90.4h1.4M251.0 96.0h1.4M265.7 96.3h1.4M241.2 80.8h1.4M282.7 119.7h1.4M275.6 93.2h1.4M267.9 90.1h1.4M241.3 88.2h1.4M286.3 96.8h1.4M285.9 80.5h1.4M306.9 112.4h1.4M209.7 89.0h1.4M257.7 105.7h1.4M304.7 80.8h1.4M262.6 80.0h1.4M233.0 82.4h1.4M226.8 95.9h1.4M270.7 75.1h1.4M283.1 109.2h1.4M267.3 90.0h1.4M271.9 108.8h1.4M192.6 88.4h1.4M290.8 109.6h1.4M293.2 78.6h1.4M276.9 78.1h1.4M251.2 102.3h1.4M249.3 86.7h1.4M237.8 106.8h1.4M250.3 84.8h1.4M238.9 100.1h1.4M273.0 82.5h1.4M280.9 67.6h1.4M267.0 116.1h1.4M196.4 90.0h1.4M307.3 114.2h1.4M303.6 99.5h1.4M196.7 76.3h1.4M252.8 99.6h1.4M307.4 116.2h1.4M238.2 109.7h1.4M190.5 105.7h1.4M265.2 100.5h1.4M254.9 92.9h1.4M265.8 95.8h1.4M300.5 75.7h1.4M189.8 97.8h1.4M298.3 108.7h1.4M303.6 102.5h1.4M245.8 83.7h1.4M210.0 98.9h1.4M190.9 86.8h1.4M243.9 110.0h1.4M299.4 85.5h1.4M273.4 86.9h1.4M212.5 89.1h1.4M276.0 79.0h1.4M242.6 82.2h1.4M306.1 91.2h1.4M227.5 64.5h1.4M273.2 125.7h1.4M268.9 100.4h1.4M268.7 99.2h1.4M268.8 81.5h1.4M274.7 98.0h1.4M303.2 96.0h1.4M220.3 93.8h1.4M227.8 75.8h1.4M284.7 93.5h1.4M290.8 63.8h1.4M274.2 91.9h1.4M193.9 83.7h1.4M243.4 85.8h1.4M275.4 89.9h1.4M307.0 111.5h1.4M287.6 115.7h1.4M238.4 93.8h1.4M227.4 80.4h1.4M236.7 111.8h1.4M189.6 79.4h1.4M288.7 86.3h1.4M232.4 90.6h1.4M290.2 83.1h1.4M293.6 118.4h1.4M247.5 99.1h1.4M213.6 103.7h1.4M201.0 89.1h1.4M199.7 100.0h1.4M244.9 91.6h1.4M274.8 92.6h1.4M237.5 97.1h1.4M218.8 96.9h1.4M279.8 104.2h1.4M300.1 92.1h1.4M276.0 71.3h1.4M302.9 90.3h1.4M238.3 59.6h1.4M287.1 90.5h1.4M212.9 83.8h1.4M202.8 99.8h1.4M266.6 54.0h1.4M304.0 131.9h1.4M257.7 89.2h1.4M286.3 68.8h1.4M254.7 99.8h1.4M242.1 99.7h1.4M244.2 99.1h1.4M298.3 133.9h1.4M185.0 84.3h1.4M277.5 99.5h1.4M231.9 94.8h1.4M274.4 84.1h1.4M241.7 97.1h1.4M228.1 107.6h1.4M306.9 80.5h1.4M228.0 98.1h1.4M189.4 99.9h1.4M265.3 104.0h1.4M209.6 75.8h1.4M212.6 95.2h1.4M226.1 88.3h1.4M238.3 108.7h1.4M249.5 92.0h1.4M271.3 124.6h1.4M214.4 79.2h1.4M227.1 98.6h1.4M238.1 82.2h1.4M266.0 120.7h1.4M240.2 113.3h1.4M283.0 80.0h1.4M227.3 101.6h1.4M234.7 92.6h1.4M233.3 73.3h1.4M298.0 77.3h1.4M286.5 96.8h1.4M246.1 100.4h1.4M233.5 88.5h1.4M254.7 98.0h1.4M259.8 98.6h1.4M224.1 96.0h1.4M275.4 76.2h1.4M291.0 97.7h1.4M232.0 99.4h1.4M293.3 69.9h1.4M216.5 109.0h1.4M299.3 121.4h1.4M193.8 92.9h1.4M262.5 124.7h1.4M278.4 82.1h1.4M292.3 79.3h1.4M231.1 85.5h1.4M249.1 84.0h1.4M293.4 127.1h1.4M240.3 94.0h1.4M246.7 92.8h1.4M286.9 101.3h1.4M284.1 121.1h1.4M222.7 94.5h1.4M280.0 88.9h1.4M259.7 98.0h1.4M271.8 113.9h1.4M231.9 90.6h1.4M295.7 120.0h1.4M231.9 96.7h1.4M200.5 90.1h1.4M270.3 102.1h1.4M201.1 110.6h1.4M278.6 91.0h1.4M207.1 105.8h1.4M301.1 105.8h1.4M245.7 95.7h1.4M236.3 93.8h1.4M236.7 103.4h1.4M245.1 101.6h1.4M281.3 101.0h1.4M261.4 103.8h1.4M280.2 81.2h1.4M275.0 84.6h1.4M231.3 81.0h1.4M301.4 89.7h1.4M288.1 91.8h1.4M188.1 88.2h1.4M262.3 102.0h1.4M294.9 79.3h1.4M275.3 91.0h1.4M233.5 103.6h1.4M285.7 122.9h1.4M279.5 95.8h1.4M212.2 104.7h1.4M256.8 113.3h1.4M238.7 80.5h1.4M219.1 95.2h1.4M271.5 78.6h1.4M279.5 88.8h1.4M233.4 98.0h1.4M214.2 79.0h1.4M254.6 101.3h1.4M189.5 90.1h1.4M278.5 91.1h1.4M263.6 102.1h1.4M296.7 81.4h1.4M265.6 69.4h1.4M268.8 94.9h1.4M244.3 84.2h1.4M307.6 92.4h1.4M296.2 76.6h1.4M217.5 82.3h1.4M224.2 81.0h1.4M220.9 78.4h1.4M225.4 83.4h1.4M216.0 84.0h1.4M275.5 95.1h1.4M241.1 133.6h1.4M254.0 85.3h1.4M303.2 67.5h1.4M231.4 99.8h1.4M241.8 77.6h1.4M204.8 83.2h1.4M205.7 88.5h1.4M215.8 92.7h1.4M253.4 94.7h1.4M254.2 97.1h1.4M206.5 90.7h1.4M306.5 115.8h1.4M258.1 105.7h1.4M259.5 86.2h1.4M283.4 91.4h1.4M281.9 73.1h1.4M287.0 105.9h1.4M284.7 91.5h1.4M278.6 124.7h1.4M198.7 85.3h1.4M276.7 118.2h1.4M196.4 83.2h1.4M296.9 66.4h1.4M229.0 82.7h1.4M304.7 101.8h1.4M231.4 104.9h1.4M299.7 80.2h1.4M306.2 113.1h1.4M289.8 86.4h1.4M234.2 86.7h1.4M287.7 90.0h1.4M242.5 114.3h1.4M296.2 98.4h1.4M251.3 97.7h1.4M303.9 68.7h1.4M248.2 95.6h1.4M262.0 97.9h1.4M289.3 122.1h1.4M210.1 83.1h1.4M287.9 83.3h1.4M254.3 81.0h1.4M200.0 85.5h1.4M269.0 104.2h1.4M274.1 82.2h1.4M219.1 106.1h1.4M300.7 96.0h1.4M284.2 80.0h1.4M282.8 84.2h1.4M274.5 73.3h1.4M232.3 75.4h1.4M182.5 99.9h1.4M303.5 111.0h1.4M280.5 79.0h1.4M270.9 87.4h1.4M273.1 118.7h1.4M263.0 83.4h1.4M267.7 97.3h1.4M271.3 101.8h1.4M279.9 91.3h1.4M231.6 90.4h1.4M199.0 88.3h1.4M300.5 97.3h1.4M252.2 72.2h1.4M267.5 94.7h1.4M293.5 98.0h1.4M206.7 78.6h1.4M216.4 96.8h1.4M238.4 81.3h1.4M262.8 55.9h1.4M290.5 62.4h1.4M296.8 96.7h1.4M292.6 104.3h1.4M305.8 87.6h1.4M267.7 72.3h1.4M200.1 89.9h1.4M288.0 109.7h1.4M287.8 93.8h1.4M227.2 75.4h1.4M289.0 102.4h1.4M298.1 91.5h1.4M257.1 91.0h1.4M296.1 95.9h1.4M246.5 100.4h1.4M271.1 92.3h1.4M286.5 78.8h1.4M198.8 90.3h1.4M291.3 96.9h1.4M261.4 110.5h1.4M255.3 76.4h1.4M306.9 92.7h1.4M223.5 82.4h1.4M229.0 95.5h1.4M300.7 85.4h1.4M296.9 41.9h1.4M255.9 106.6h1.4M284.3 83.7h1.4M233.6 79.4h1.4M295.8 69.0h1.4M255.9 78.5h1.4M287.9 73.1h1.4M253.5 91.3h1.4M215.4 93.4h1.4M290.8 93.3h1.4M236.3 97.0h1.4M242.6 82.2h1.4M240.1 100.3h1.4M197.4 90.3h1.4M214.0 96.4h1.4M272.5 103.3h1.4M264.0 88.3h1.4M238.2 108.1h1.4M236.3 102.4h1.4M305.2 87.8h1.4M262.5 118.9h1.4M236.8 113.1h1.4M265.0 71.3h1.4M267.5 60.5h1.4M260.8 84.7h1.4M264.8 100.5h1.4M302.9 111.6h1.4M240.6 101.2h1.4M250.6 93.0h1.4M223.9 103.1h1.4M304.8 107.9h1.4M301.8 87.4h1.4M221.7 94.2h1.4M228.1 104.7h1.4M292.3 84.1h1.4M280.2 84.4h1.4M223.2 82.9h1.4M288.7 118.8h1.4M291.3 106.0h1.4M304.8 110.3h1.4M221.1 88.1h1.4M276.5 93.8h1.4M256.8 110.4h1.4M261.3 89.7h1.4M244.0 108.3h1.4M293.8 94.6h1.4M234.3 92.4h1.4M266.1 102.0h1.4M243.6 104.1h1.4M295.5 124.9h1.4M243.2 88.7h1.4M220.7 110.7h1.4M284.5 82.4h1.4M274.0 81.1h1.4M214.8 68.6h1.4M248.8 104.4h1.4M300.3 121.0h1.4M218.1 79.3h1.4M265.8 89.2h1.4M243.0 89.8h1.4M224.3 74.9h1.4M301.1 96.5h1.4M188.9 93.6h1.4M238.1 86.8h1.4M258.9 79.4h1.4M262.0 95.8h1.4M232.0 99.8h1.4M213.0 77.4h1.4M290.1 93.3h1.4M266.7 102.3h1.4M269.7 52.3h1.4M298.1 100.8h1.4M276.1 121.0h1.4M303.8 72.7h1.4M204.9 104.3h1.4M305.3 90.3h1.4M298.5 105.7h1.4M274.2 91.9h1.4M271.3 77.0h1.4M243.1 71.3h1.4M230.4 120.7h1.4M192.4 79.7h1.4M269.3 90.2h1.4M256.1 113.4h1.4M243.8 97.1h1.4M287.3 97.8h1.4M301.8 60.1h1.4M246.5 85.3h1.4M305.4 71.8h1.4M266.5 67.8h1.4M225.0 96.6h1.4M271.4 106.8h1.4M278.6 82.5h1.4M300.8 84.1h1.4M257.4 99.8h1.4M240.6 104.2h1.4M273.5 78.3h1.4M262.9 110.8h1.4M265.1 107.7h1.4M192.9 91.3h1.4M231.8 79.6h1.4M293.2 104.7h1.4M281.2 105.7h1.4M212.9 110.3h1.4M243.5 85.5h1.4M206.5 107.4h1.4M295.6 89.2h1.4M270.5 102.2h1.4M270.9 92.6h1.4M307.8 97.2h1.4M226.4 109.4h1.4M251.7 84.3h1.4M279.3 107.7h1.4M236.6 89.7h1.4M283.0 94.2h1.4M271.4 83.5h1.4M252.9 96.3h1.4M235.9 68.6h1.4M225.0 89.6h1.4M288.8 111.8h1.4M286.2 108.7h1.4M233.2 73.4h1.4M271.7 77.4h1.4M183.8 87.7h1.4M283.6 125.1h1.4M196.1 87.6h1.4M194.8 91.3h1.4M275.2 90.7h1.4M267.8 98.7h1.4M278.3 80.3h1.4M212.4 94.8h1.4M215.4 97.2h1.4M303.5 114.2h1.4M225.1 82.6h1.4M284.7 109.6h1.4M195.2 108.6h1.4M305.0 109.9h1.4M281.2 105.7h1.4M210.7 67.1h1.4M304.0 119.6h1.4M235.9 116.6h1.4M285.4 114.9h1.4M300.7 104.5h1.4M258.9 105.7h1.4M284.3 143.8h1.4M266.0 83.7h1.4M224.5 88.0h1.4M204.7 102.6h1.4M275.2 98.6h1.4M257.2 63.5h1.4M286.8 98.8h1.4M243.3 97.9h1.4M255.3 80.8h1.4M255.0 99.1h1.4M273.0 98.3h1.4M298.8 64.0h1.4M208.8 97.2h1.4M268.7 126.7h1.4M301.2 126.6h1.4M202.3 80.9h1.4M294.6 72.7h1.4M299.0 96.6h1.4M269.2 98.6h1.4M268.3 74.2h1.4M287.5 82.8h1.4M252.3 112.4h1.4M217.0 95.0h1.4M205.8 102.1h1.4M258.2 93.5h1.4M303.4 114.1h1.4M267.0 86.4h1.4M235.7 86.7h1.4M256.3 80.5h1.4M266.4 65.7h1.4M226.4 88.1h1.4M285.6 72.6h1.4M217.5 87.2h1.4M225.8 94.3h1.4M269.0 96.9h1.4M307.0 103.0h1.4M224.9 88.1h1.4M198.1 91.0h1.4M281.8 113.5h1.4M196.4 90.1h1.4M218.7 92.7h1.4M226.5 64.2h1.4M247.2 78.7h1.4M303.3 115.3h1.4M205.1 83.3h1.4M300.3 76.4h1.4M252.3 106.9h1.4M280.8 74.9h1.4M219.7 103.3h1.4M306.1 93.9h1.4M211.3 85.5h1.4M233.4 67.8h1.4M240.1 110.0h1.4M222.0 71.9h1.4M212.7 79.1h1.4M215.7 100.6h1.4M222.5 78.4h1.4M234.4 99.1h1.4M265.0 93.5h1.4M298.6 90.5h1.4M250.3 79.0h1.4M195.6 85.4h1.4M268.3 98.3h1.4M265.0 79.4h1.4M261.0 103.0h1.4M246.7 96.5h1.4M267.4 102.2h1.4M190.3 93.2h1.4M229.6 99.3h1.4M229.9 97.2h1.4M234.0 103.0h1.4M260.2 99.3h1.4M252.9 98.0h1.4M215.0 82.3h1.4M248.5 70.1h1.4M292.1 95.9h1.4M297.6 112.0h1.4M237.8 81.2h1.4M284.1 68.6h1.4M259.7 85.9h1.4M305.2 102.0h1.4M227.6 102.6h1.4M196.6 88.4h1.4M297.3 74.6h1.4M227.1 91.8h1.4M245.6 102.2h1.4M272.9 93.4h1.4M300.5 113.3h1.4M221.1 86.7h1.4M283.1 108.9h1.4M231.9 112.5h1.4M201.1 82.0h1.4M230.6 82.2h1.4M216.8 99.2h1.4M256.5 137.8h1.4M254.2 100.6h1.4M292.8 94.6h1.4M245.2 110.5h1.4M304.1 93.4h1.4M297.9 66.8h1.4M207.1 82.2h1.4M278.8 116.1h1.4M251.3 70.4h1.4M250.0 74.0h1.4M266.1 106.3h1.4M234.9 94.7h1.4M209.9 104.3h1.4M249.5 79.0h1.4M286.6 82.6h1.4M291.7 89.1h1.4M266.5 75.5h1.4M182.7 89.0h1.4M275.2 91.7h1.4M302.8 111.0h1.4M304.0 93.9h1.4M278.2 88.1h1.4M221.4 97.9h1.4M276.3 111.9h1.4M286.4 112.1h1.4M235.6 96.3h1.4M202.6 87.9h1.4M199.1 87.0h1.4M213.0 78.2h1.4M276.0 95.5h1.4M300.6 94.9h1.4M223.2 111.1h1.4M276.6 97.9h1.4M301.2 108.7h1.4M294.7 117.8h1.4M271.9 65.4h1.4M285.1 84.1h1.4M193.1 89.2h1.4M244.2 94.8h1.4M226.2 79.3h1.4M259.1 106.1h1.4M265.2 107.5h1.4M242.2 99.6h1.4M287.2 106.2h1.4M214.8 80.3h1.4M242.4 107.9h1.4M206.6 85.6h1.4M276.1 64.6h1.4M274.4 96.3h1.4M184.0 94.3h1.4M246.9 84.2h1.4M302.3 65.6h1.4M224.8 79.2h1.4M218.6 90.5h1.4M290.3 51.9h1.4M239.4 106.1h1.4M299.3 113.0h1.4M281.5 91.7h1.4M296.3 113.6h1.4M226.8 90.6h1.4M307.1 74.7h1.4M275.4 104.3h1.4M246.0 100.7h1.4M295.9 79.0h1.4M252.0 74.0h1.4M226.2 81.0h1.4M253.2 109.8h1.4M185.5 88.4h1.4M237.3 128.3h1.4M301.1 83.6h1.4M266.3 103.1h1.4M203.4 94.8h1.4M250.5 90.4h1.4M265.6 106.5h1.4M290.3 80.4h1.4M271.3 93.3h1.4M270.2 76.2h1.4M219.7 68.0h1.4M279.3 95.6h1.4M232.2 78.8h1.4M239.9 76.4h1.4M265.6 102.7h1.4M291.5 92.2h1.4M304.0 102.4h1.4M278.4 122.1h1.4M237.8 95.2h1.4M287.0 102.4h1.4M216.8 79.2h1.4M291.0 109.2h1.4M271.0 107.3h1.4M203.9 81.4h1.4M256.7 103.0h1.4M279.8 99.7h1.4M268.6 90.9h1.4M227.0 93.5h1.4M247.3 125.8h1.4M300.9 83.8h1.4M257.3 89.0h1.4M244.9 94.6h1.4M296.9 92.0h1.4M285.7 64.5h1.4M281.9 105.2h1.4M300.5 111.8h1.4M220.1 111.6h1.4M281.3 85.5h1.4M215.1 78.6h1.4M289.0 106.0h1.4M307.7 76.7h1.4M201.9 91.6h1.4M212.5 87.8h1.4M251.3 96.1h1.4M206.5 87.3h1.4M249.5 102.9h1.4M231.7 81.6h1.4M215.5 117.8h1.4M303.0 109.6h1.4M198.4 85.6h1.4M192.7 82.7h1.4M247.0 90.8h1.4M273.5 87.0h1.4M220.6 83.1h1.4M303.9 120.9h1.4M298.7 112.5h1.4M214.7 80.5h1.4M287.7 104.3h1.4M307.1 95.9h1.4M207.3 99.6h1.4M199.9 85.3h1.4M291.4 131.5h1.4M190.3 91.9h1.4M241.1 118.9h1.4M285.9 87.0h1.4M297.8 119.1h1.4M291.2 93.3h1.4M277.4 121.1h1.4M218.9 90.3h1.4M263.3 78.3h1.4M287.0 77.0h1.4M237.8 85.0h1.4M304.6 106.7h1.4M270.6 100.1h1.4M304.7 97.8h1.4M221.5 104.4h1.4M274.9 120.3h1.4M245.6 80.0h1.4M271.2 109.9h1.4M230.7 120.7h1.4M223.7 85.4h1.4M304.4 85.4h1.4M292.7 102.2h1.4M292.0 99.2h1.4M229.4 86.4h1.4M252.2 92.7h1.4M230.7 112.2h1.4M259.8 107.2h1.4M267.5 82.1h1.4M185.8 76.9h1.4M305.7 75.5h1.4M186.9 92.6h1.4M210.7 83.9h1.4M259.0 81.8h1.4M240.0 102.5h1.4M243.0 89.6h1.4M285.7 88.6h1.4M198.6 93.6h1.4M237.6 111.4h1.4M283.4 100.0h1.4M286.1 106.5h1.4M290.8 96.6h1.4M196.3 105.8h1.4M240.6 77.5h1.4M304.6 75.3h1.4M266.7 86.6h1.4M250.8 121.5h1.4M224.8 110.5h1.4M260.4 78.1h1.4M208.7 87.3h1.4M213.2 98.0h1.4M226.8 93.5h1.4M199.9 100.1h1.4M288.0 86.9h1.4M275.9 68.5h1.4M266.7 103.6h1.4M266.8 113.2h1.4M262.3 71.6h1.4M289.1 63.5h1.4M302.5 87.6h1.4M273.3 65.5h1.4M293.8 102.8h1.4M246.4 78.1h1.4M213.9 100.1h1.4M230.9 88.8h1.4M276.6 96.8h1.4M188.0 96.9h1.4M200.1 89.8h1.4M262.8 79.3h1.4M222.5 103.0h1.4M204.8 77.3h1.4M200.7 105.2h1.4" stroke="#000" stroke-opacity="0.78" stroke-width="1.40" fill="none"/>
<path d="M268.0 120.6h1.4M269.5 112.7h1.4M286.1 69.3h1.4M286.5 105.8h1.4M288.1 102.5h1.4M252.6 96.2h1.4M263.1 109.7h1.4M285.2 110.1h1.4M285.7 143.6h1.4M277.3 103.8h1.4M302.3 86.9h1.4M275.8 91.0h1.4M295.9 112.4h1.4M298.5 133.8h1.4M285.3 110.5h1.4M275.6 109.2h1.4M292.3 104.5h1.4M287.1 91.9h1.4M290.2 101.1h1.4M263.5 78.4h1.4M287.4 113.0h1.4M307.7 108.2h1.4M274.0 103.0h1.4M281.6 84.7h1.4M274.8 95.2h1.4M294.9 89.7h1.4M242.0 105.2h1.4M307.8 94.8h1.4M288.3 106.2h1.4M275.0 116.3h1.4M284.0 122.2h1.4M299.4 81.8h1.4M285.8 94.0h1.4M291.2 80.6h1.4M300.7 121.9h1.4M282.2 84.9h1.4M292.5 123.7h1.4M305.6 91.0h1.4M289.3 118.0h1.4M268.1 90.3h1.4M293.1 95.9h1.4M315.8 102.1h1.4M273.5 101.5h1.4M287.4 97.3h1.4M286.9 111.7h1.4M295.1 121.0h1.4M271.9 115.1h1.4M278.9 91.4h1.4M314.3 67.3h1.4M291.7 101.9h1.4M268.2 49.9h1.4M293.4 111.8h1.4M280.4 110.9h1.4M306.8 78.5h1.4M250.5 110.2h1.4M281.1 88.3h1.4M296.9 122.3h1.4M256.6 86.4h1.4M266.0 85.2h1.4M287.8 88.4h1.4M280.0 104.2h1.4M273.9 81.6h1.4M284.8 139.7h1.4M254.5 93.4h1.4M264.3 130.8h1.4M310.2 94.9h1.4M267.8 94.4h1.4M287.1 87.5h1.4M278.4 86.6h1.4M294.7 107.7h1.4M285.2 121.1h1.4M286.5 101.9h1.4M300.1 84.2h1.4M285.1 103.7h1.4M249.0 86.0h1.4M267.5 52.7h1.4M304.8 102.2h1.4M298.3 69.2h1.4M275.2 88.8h1.4M251.0 100.9h1.4M266.6 92.9h1.4M316.4 95.3h1.4M300.7 127.2h1.4M301.1 116.8h1.4M250.6 126.7h1.4M255.2 103.7h1.4M268.8 104.0h1.4M255.2 131.1h1.4M281.3 88.9h1.4M259.9 105.8h1.4M287.8 102.3h1.4M275.3 105.1h1.4M269.3 110.5h1.4M290.9 102.1h1.4M287.3 114.2h1.4M281.6 85.1h1.4M272.8 108.7h1.4M278.4 81.6h1.4M245.0 118.9h1.4M244.4 117.2h1.4M267.2 96.3h1.4M281.7 91.0h1.4M310.6 99.4h1.4M286.3 109.6h1.4M261.7 73.3h1.4M270.6 82.2h1.4M256.8 116.3h1.4M278.5 96.0h1.4M277.6 77.2h1.4M278.6 60.8h1.4M284.1 92.0h1.4M297.7 69.0h1.4M291.4 102.0h1.4M258.7 98.3h1.4M294.2 131.9h1.4M261.2 77.7h1.4M286.0 110.8h1.4M280.9 78.6h1.4M309.1 81.5h1.4M277.5 96.0h1.4M277.6 84.7h1.4M274.4 131.5h1.4M294.5 98.6h1.4M284.8 86.4h1.4M274.6 140.0h1.4M294.1 85.6h1.4M316.7 92.9h1.4M308.2 95.8h1.4M305.9 85.8h1.4M269.8 110.0h1.4M277.7 120.3h1.4M282.2 76.8h1.4M249.1 90.8h1.4M309.9 92.7h1.4M253.9 74.8h1.4M286.5 76.2h1.4M257.5 92.8h1.4M281.6 83.5h1.4M294.0 104.7h1.4M288.6 113.5h1.4M264.2 102.4h1.4M267.9 104.2h1.4M295.9 83.1h1.4M278.3 88.6h1.4M281.5 105.9h1.4M296.0 109.1h1.4M234.9 97.6h1.4M284.0 108.6h1.4M301.8 94.7h1.4M311.0 78.8h1.4M291.6 104.5h1.4M266.5 91.7h1.4M296.6 69.4h1.4M312.6 113.7h1.4M268.2 105.7h1.4M266.7 111.7h1.4M276.8 90.8h1.4M272.2 124.9h1.4M243.4 107.4h1.4M237.6 116.1h1.4M256.3 87.7h1.4M268.3 93.6h1.4M287.1 121.4h1.4M270.1 98.6h1.4M282.6 99.5h1.4M303.6 125.0h1.4M332.4 119.2h1.4M294.9 103.1h1.4M262.2 132.2h1.4M297.0 73.3h1.4M279.4 98.0h1.4M285.5 89.5h1.4M296.5 124.7h1.4M293.1 126.5h1.4M256.2 90.8h1.4M259.3 101.7h1.4M284.1 115.4h1.4M291.9 108.2h1.4M316.7 103.8h1.4M290.0 116.5h1.4M272.9 132.9h1.4M270.8 101.3h1.4M266.8 80.1h1.4M256.4 97.4h1.4M256.3 98.6h1.4M269.6 92.7h1.4M281.1 111.4h1.4M265.8 112.0h1.4M279.6 115.0h1.4M274.4 107.6h1.4M275.3 103.8h1.4M271.6 81.7h1.4M284.4 93.4h1.4M279.6 84.5h1.4M232.5 104.9h1.4M284.0 97.3h1.4M281.2 98.7h1.4M268.5 108.4h1.4M282.3 94.3h1.4M267.0 117.7h1.4M281.4 117.4h1.4M263.8 83.1h1.4M291.3 121.9h1.4M285.4 93.5h1.4M253.7 86.9h1.4M266.9 93.9h1.4M291.7 77.5h1.4M286.4 105.2h1.4M281.7 120.0h1.4M259.3 73.3h1.4M267.3 106.7h1.4M282.1 109.3h1.4M284.5 110.7h1.4M279.0 110.4h1.4M264.6 106.8h1.4M275.2 91.4h1.4M270.5 114.6h1.4M258.7 105.1h1.4M259.8 113.0h1.4M264.9 104.7h1.4M252.7 94.9h1.4M287.5 98.6h1.4M292.8 109.8h1.4M294.8 117.2h1.4M265.5 66.6h1.4M265.9 77.4h1.4M283.5 71.4h1.4M270.9 90.2h1.4M273.6 87.9h1.4M273.6 102.7h1.4M250.8 94.1h1.4M301.5 122.1h1.4M253.8 88.8h1.4M251.4 87.1h1.4M293.3 85.2h1.4M259.8 94.2h1.4M297.9 102.1h1.4M285.1 91.0h1.4M285.3 83.4h1.4M272.4 75.9h1.4M254.2 102.4h1.4M258.2 89.9h1.4M280.9 82.4h1.4M277.2 94.6h1.4M257.8 104.9h1.4M259.0 134.3h1.4M263.8 127.1h1.4M277.9 84.0h1.4M286.7 91.5h1.4M294.9 65.7h1.4M272.5 65.6h1.4M304.2 67.5h1.4M291.6 114.8h1.4M304.9 96.6h1.4M263.7 74.0h1.4M289.2 87.6h1.4M298.1 90.5h1.4M248.0 87.8h1.4M295.2 124.2h1.4M286.3 66.1h1.4M295.1 91.3h1.4M282.0 103.3h1.4M299.1 107.3h1.4M271.6 61.8h1.4M269.9 102.3h1.4M291.6 77.5h1.4M291.7 89.2h1.4M255.5 71.9h1.4M300.0 112.3h1.4M299.6 152.4h1.4M297.0 116.4h1.4M266.3 94.0h1.4M301.1 69.0h1.4M288.1 114.0h1.4M295.2 119.6h1.4M278.1 80.3h1.4M271.5 115.3h1.4M266.7 68.4h1.4M268.3 77.3h1.4M294.7 101.6h1.4M265.6 75.3h1.4M268.3 112.1h1.4M284.8 123.7h1.4M274.4 100.3h1.4M243.2 107.7h1.4M267.6 126.7h1.4M272.7 108.2h1.4M307.1 121.7h1.4M290.6 123.9h1.4M261.6 81.4h1.4M259.8 137.0h1.4M271.1 119.8h1.4M283.0 102.1h1.4M265.4 113.7h1.4M286.6 105.1h1.4M254.5 103.6h1.4M284.8 82.5h1.4M299.8 92.8h1.4M232.7 94.0h1.4M278.5 118.3h1.4M283.4 107.9h1.4M286.8 106.7h1.4M280.8 97.8h1.4M277.9 121.4h1.4M283.9 57.8h1.4M280.9 84.2h1.4M280.6 116.1h1.4M306.5 92.7h1.4M296.9 110.8h1.4M295.1 127.0h1.4M268.0 113.5h1.4M270.5 74.6h1.4M297.4 95.9h1.4M260.7 80.1h1.4M296.8 107.9h1.4M255.5 117.6h1.4M316.0 95.7h1.4M300.6 108.6h1.4M269.5 96.4h1.4M271.0 132.8h1.4M243.5 102.1h1.4M278.1 103.8h1.4M299.7 109.6h1.4M289.6 118.0h1.4M274.5 111.8h1.4M314.7 99.4h1.4M288.6 100.9h1.4M286.2 108.6h1.4M273.8 110.0h1.4M289.1 93.5h1.4M324.6 90.1h1.4M286.8 95.9h1.4M250.0 107.9h1.4M282.8 92.3h1.4M312.3 81.5h1.4M299.7 94.3h1.4M270.0 91.6h1.4M285.1 110.3h1.4M253.3 91.2h1.4M290.1 93.0h1.4M263.7 132.0h1.4M269.8 107.6h1.4M269.1 84.2h1.4M266.5 120.6h1.4M308.5 93.8h1.4M304.7 86.1h1.4M274.0 111.1h1.4M280.7 75.9h1.4M308.3 98.9h1.4M274.0 109.6h1.4M271.2 112.8h1.4M264.2 91.0h1.4M306.2 91.5h1.4M281.9 98.6h1.4M279.2 120.7h1.4M271.6 69.4h1.4M263.1 114.0h1.4M295.6 105.2h1.4M265.5 123.4h1.4M269.9 80.9h1.4M249.7 119.7h1.4M259.8 85.3h1.4M270.0 105.2h1.4M270.4 93.4h1.4M252.6 58.1h1.4M268.2 99.1h1.4M276.5 106.8h1.4M233.3 114.8h1.4M289.0 89.3h1.4M274.1 80.2h1.4M255.5 112.2h1.4M274.1 94.0h1.4M286.5 118.0h1.4M278.7 124.4h1.4M279.5 96.1h1.4M279.0 97.2h1.4M290.1 87.8h1.4M255.1 65.5h1.4M268.5 100.0h1.4M285.5 112.6h1.4M279.2 118.3h1.4M260.3 99.8h1.4M273.8 131.8h1.4M266.6 91.2h1.4M279.1 99.8h1.4M249.9 90.9h1.4M250.5 92.6h1.4M253.6 95.5h1.4M276.4 88.4h1.4M321.7 93.0h1.4M295.8 105.0h1.4M300.0 102.1h1.4M278.9 82.3h1.4M306.4 108.9h1.4M284.9 86.2h1.4M279.9 108.0h1.4M297.6 101.5h1.4M257.5 67.4h1.4M240.5 82.5h1.4M257.9 116.5h1.4M303.2 89.2h1.4M294.3 89.0h1.4M281.9 92.8h1.4M274.5 102.2h1.4M275.7 110.1h1.4M285.4 95.2h1.4M263.6 129.2h1.4M292.1 90.5h1.4M261.7 92.3h1.4M302.1 97.1h1.4M272.8 103.1h1.4M262.5 125.3h1.4M273.6 140.5h1.4M262.4 94.5h1.4M276.3 97.4h1.4M247.1 111.2h1.4M270.0 98.2h1.4M279.9 115.1h1.4M285.3 82.1h1.4M271.8 114.9h1.4M299.7 62.9h1.4M249.1 109.3h1.4M274.8 111.8h1.4M270.1 143.0h1.4M278.4 84.7h1.4M274.0 112.2h1.4M302.7 111.4h1.4M278.5 84.1h1.4M262.4 104.7h1.4M322.1 85.7h1.4M279.2 80.2h1.4M275.7 74.3h1.4M294.0 96.5h1.4M268.1 82.1h1.4M274.6 64.5h1.4M293.6 105.1h1.4M257.8 70.7h1.4M270.6 112.1h1.4M295.0 104.4h1.4M310.0 85.9h1.4M277.1 72.8h1.4M276.7 84.4h1.4M297.6 76.8h1.4M252.7 93.5h1.4M266.4 93.7h1.4M264.6 142.8h1.4M242.5 63.9h1.4M227.8 89.8h1.4M271.4 109.7h1.4M294.4 117.9h1.4M290.2 123.3h1.4M300.7 83.0h1.4M230.7 114.0h1.4M275.9 50.1h1.4M301.9 96.1h1.4M263.3 114.9h1.4M255.7 112.4h1.4M284.6 75.5h1.4M278.7 85.6h1.4M289.7 62.5h1.4M278.4 87.0h1.4M300.3 76.0h1.4M290.7 104.7h1.4M283.0 86.8h1.4M271.9 110.4h1.4M290.9 98.0h1.4M266.9 94.1h1.4M295.4 130.7h1.4M298.7 120.3h1.4M295.2 76.9h1.4M256.2 124.1h1.4M286.3 113.3h1.4M285.1 123.1h1.4M293.9 107.8h1.4M251.3 68.6h1.4M268.1 93.4h1.4M277.3 57.4h1.4M303.1 75.5h1.4M268.1 87.7h1.4M294.3 122.2h1.4M281.2 100.7h1.4M312.6 103.7h1.4M284.4 112.9h1.4M250.3 84.1h1.4M273.8 119.3h1.4M283.2 103.8h1.4M301.0 83.1h1.4M290.3 89.9h1.4M273.7 95.6h1.4M256.4 110.5h1.4M279.3 124.9h1.4M276.5 94.5h1.4M302.1 96.0h1.4M295.0 131.5h1.4M254.0 155.9h1.4M237.9 131.5h1.4M271.4 103.3h1.4M283.5 93.6h1.4M261.6 111.9h1.4M269.6 105.2h1.4" stroke="#000" stroke-opacity="0.85" stroke-width="1.40" fill="none"/>
<path d="M338.9 153.1h1.4M366.2 167.9h1.4M381.1 181.7h1.4M338.2 154.9h1.4M338.9 191.5h1.4M342.5 168.0h1.4M332.9 169.9h1.4M359.2 164.0h1.4M330.6 179.6h1.4M357.4 164.0h1.4M354.0 174.4h1.4M358.4 189.6h1.4M330.1 189.5h1.4M350.8 148.6h1.4M352.4 191.0h1.4M360.2 163.8h1.4M353.7 175.5h1.4M341.5 172.6h1.4M363.5 175.2h1.4M366.6 162.2h1.4M366.2 179.7h1.4M339.4 186.0h1.4M355.7 162.5h1.4M337.3 170.8h1.4M346.8 183.0h1.4M358.5 186.9h1.4M330.6 176.0h1.4M384.4 175.0h1.4M364.6 178.2h1.4M339.1 166.0h1.4M341.7 176.0h1.4M348.0 166.9h1.4M347.1 165.9h1.4M333.5 136.3h1.4M347.2 144.5h1.4M329.2 176.5h1.4M341.0 181.9h1.4M371.8 177.6h1.4M348.1 172.5h1.4M344.0 166.5h1.4M369.0 179.3h1.4M353.0 165.0h1.4M356.9 170.8h1.4M363.0 150.4h1.4M344.7 162.1h1.4M360.2 167.3h1.4M357.2 142.6h1.4M371.1 153.3h1.4M361.7 186.5h1.4M348.7 178.4h1.4M335.4 168.8h1.4M345.1 190.1h1.4M340.1 156.3h1.4M343.2 169.8h1.4M319.5 161.9h1.4M353.9 186.8h1.4M359.4 178.5h1.4M337.2 173.7h1.4M358.1 169.0h1.4M332.0 144.0h1.4M352.1 140.0h1.4M346.9 170.7h1.4M353.0 184.9h1.4M354.4 159.0h1.4M340.3 172.0h1.4M359.3 147.6h1.4M342.5 148.6h1.4M350.5 169.8h1.4M367.2 180.9h1.4M337.1 181.6h1.4M349.9 188.4h1.4M369.5 158.9h1.4M365.1 168.1h1.4M340.2 182.2h1.4M341.0 155.5h1.4M356.0 166.0h1.4M340.5 170.5h1.4M349.9 170.3h1.4M331.3 183.5h1.4M357.1 176.8h1.4M328.2 164.0h1.4M350.6 136.2h1.4M358.0 182.2h1.4M340.3 185.2h1.4M328.7 178.0h1.4M332.5 175.8h1.4M324.2 177.0h1.4M372.0 188.4h1.4M324.1 162.9h1.4M332.3 169.5h1.4M353.2 155.8h1.4M349.6 167.2h1.4M362.2 158.3h1.4M365.9 158.3h1.4M354.7 141.1h1.4M348.1 169.0h1.4M341.6 185.3h1.4M346.5 126.0h1.4M361.2 189.2h1.4M356.8 169.8h1.4M357.0 160.3h1.4M327.2 174.8h1.4M339.0 166.6h1.4M340.0 169.1h1.4M341.9 191.2h1.4M335.2 172.7h1.4M357.7 175.6h1.4M362.7 166.3h1.4M372.5 167.6h1.4M342.1 156.8h1.4M347.6 168.4h1.4M350.1 158.7h1.4M348.8 187.1h1.4M338.1 166.8h1.4M359.3 181.0h1.4M322.7 189.2h1.4M342.7 185.2h1.4M324.2 160.1h1.4M330.9 142.2h1.4M333.9 191.2h1.4M348.8 132.9h1.4M335.4 156.8h1.4M352.2 169.0h1.4M343.9 159.6h1.4M374.4 138.9h1.4M333.1 148.0h1.4M338.3 173.8h1.4M356.4 144.8h1.4M350.5 179.4h1.4M354.7 187.0h1.4M345.2 190.0h1.4M361.3 173.8h1.4M353.5 169.4h1.4M366.1 164.1h1.4M352.3 187.9h1.4M346.1 179.4h1.4M354.2 175.0h1.4M336.7 186.2h1.4M359.5 141.8h1.4M331.6 182.8h1.4M360.5 161.6h1.4M356.1 135.9h1.4M325.5 186.4h1.4M354.1 158.8h1.4M323.7 176.5h1.4M356.3 159.1h1.4M328.1 164.1h1.4M345.5 175.0h1.4M327.8 175.9h1.4M324.8 146.9h1.4M355.5 183.4h1.4M342.7 160.5h1.4M363.1 177.0h1.4M348.4 155.0h1.4M384.9 175.5h1.4M351.3 178.2h1.4M372.0 148.5h1.4M353.6 174.8h1.4M350.1 156.9h1.4M356.1 188.5h1.4M339.2 175.5h1.4M340.6 170.9h1.4M346.6 182.4h1.4M334.1 164.5h1.4M355.8 183.0h1.4M338.2 174.3h1.4M350.2 190.1h1.4M364.0 155.3h1.4M372.9 162.6h1.4M364.5 164.6h1.4M357.8 159.3h1.4M356.4 165.7h1.4M348.8 172.9h1.4M379.0 154.3h1.4M348.4 167.9h1.4M371.2 173.8h1.4M347.8 184.4h1.4M365.2 165.4h1.4M312.3 173.0h1.4M341.3 168.2h1.4M370.0 171.9h1.4M369.1 152.5h1.4M341.4 184.3h1.4M348.6 163.3h1.4M353.6 188.1h1.4M350.9 182.2h1.4M362.4 162.8h1.4M332.6 165.2h1.4M370.8 164.6h1.4M355.7 171.5h1.4M312.2 165.0h1.4M337.9 162.2h1.4M348.8 171.7h1.4M379.5 169.8h1.4M349.8 164.6h1.4M330.3 183.7h1.4M367.8 185.7h1.4M355.3 162.0h1.4M363.8 175.9h1.4M345.1 188.4h1.4M363.3 149.2h1.4M356.0 177.7h1.4M363.0 183.8h1.4M345.5 188.1h1.4M372.3 182.0h1.4M331.8 185.2h1.4M332.5 147.9h1.4M357.0 156.1h1.4M346.4 178.8h1.4M353.1 140.0h1.4M351.0 162.1h1.4M348.5 167.5h1.4M336.7 175.8h1.4M354.5 183.6h1.4M367.6 173.8h1.4M339.6 157.9h1.4M375.2 156.0h1.4M371.0 176.4h1.4M339.6 178.9h1.4M361.1 175.9h1.4M336.3 172.4h1.4M349.0 171.9h1.4M336.4 149.6h1.4M343.7 169.9h1.4M326.5 181.6h1.4M348.6 153.5h1.4M337.0 176.6h1.4M339.0 180.6h1.4M351.1 169.3h1.4M375.4 166.6h1.4M345.9 152.3h1.4M348.7 154.1h1.4M335.8 146.2h1.4M344.5 143.7h1.4M339.5 180.7h1.4M330.3 170.1h1.4M339.0 174.8h1.4M343.9 146.7h1.4M354.6 140.2h1.4M346.1 143.9h1.4M367.4 187.0h1.4M362.5 150.4h1.4M345.0 171.8h1.4M327.5 172.8h1.4M348.0 155.7h1.4M351.5 160.7h1.4M363.4 184.4h1.4M352.2 180.9h1.4M386.6 183.7h1.4M346.2 175.2h1.4M359.0 172.1h1.4M338.5 177.8h1.4M337.3 168.1h1.4M353.0 173.8h1.4M359.3 178.5h1.4M309.3 169.2h1.4M364.9 160.5h1.4M369.8 169.7h1.4M367.9 165.6h1.4M361.3 158.6h1.4M348.6 182.6h1.4M367.0 174.8h1.4M337.6 169.0h1.4M358.9 159.9h1.4M356.8 148.8h1.4M348.4 179.6h1.4M373.5 179.1h1.4M341.1 158.8h1.4M337.4 171.8h1.4M349.5 158.0h1.4M341.9 191.6h1.4M367.5 172.3h1.4M328.5 177.2h1.4M354.1 137.6h1.4M359.8 176.7h1.4M334.6 174.6h1.4M366.9 166.4h1.4M325.1 171.0h1.4M363.4 189.2h1.4M338.4 161.0h1.4M343.8 161.1h1.4M349.1 185.9h1.4M341.5 178.0h1.4M353.0 182.8h1.4M374.4 172.2h1.4M350.8 166.5h1.4M339.8 168.8h1.4M352.6 175.6h1.4M333.7 164.1h1.4M340.9 147.4h1.4M342.4 168.6h1.4M358.2 175.2h1.4M343.5 169.0h1.4M356.0 180.9h1.4M364.7 175.3h1.4M370.3 185.3h1.4M327.8 172.9h1.4M349.0 168.5h1.4M334.8 179.6h1.4M358.1 184.1h1.4M353.0 164.5h1.4M349.6 158.4h1.4M342.8 190.8h1.4M337.2 163.3h1.4M327.7 176.6h1.4M362.2 164.2h1.4M347.1 174.3h1.4M350.1 191.6h1.4M360.0 151.8h1.4M374.2 149.8h1.4M347.4 121.6h1.4M358.2 179.8h1.4M344.6 174.9h1.4M340.5 166.7h1.4M341.5 183.2h1.4M364.7 157.3h1.4M351.1 180.8h1.4M350.5 190.9h1.4M350.7 189.3h1.4M346.8 181.5h1.4M346.8 163.6h1.4M341.3 166.2h1.4M342.7 157.6h1.4M347.3 189.4h1.4M325.4 170.1h1.4M350.5 170.0h1.4M349.2 174.5h1.4M355.0 161.3h1.4M335.2 178.6h1.4M337.6 178.3h1.4M360.0 177.4h1.4M340.3 171.7h1.4M355.8 134.0h1.4M340.9 168.1h1.4M334.1 150.2h1.4M330.8 146.2h1.4M343.5 163.6h1.4M333.8 168.1h1.4M367.9 166.4h1.4M349.9 158.3h1.4M368.9 143.6h1.4M360.3 177.9h1.4M339.8 162.1h1.4M336.4 189.5h1.4M347.2 183.2h1.4M359.0 171.9h1.4M331.5 148.7h1.4M364.5 182.3h1.4M344.7 185.1h1.4M360.4 180.4h1.4M347.9 166.4h1.4M355.9 180.0h1.4M357.9 159.3h1.4M366.3 174.3h1.4M340.5 176.1h1.4M374.1 167.2h1.4M333.3 156.1h1.4M353.7 167.3h1.4M358.4 157.7h1.4M350.1 153.0h1.4M361.1 186.1h1.4M328.9 168.3h1.4M349.2 163.0h1.4M362.6 163.0h1.4M349.9 177.0h1.4M335.6 165.8h1.4M351.8 160.1h1.4M352.2 174.6h1.4M337.1 172.7h1.4M366.8 157.2h1.4M342.9 154.7h1.4M336.6 189.7h1.4M351.2 166.4h1.4M341.4 188.3h1.4M347.3 179.3h1.4M352.8 169.5h1.4M344.5 167.0h1.4M353.6 161.0h1.4M365.4 164.8h1.4M337.0 158.3h1.4M350.7 168.2h1.4M353.1 156.6h1.4M353.5 172.2h1.4M322.9 151.9h1.4M336.2 178.2h1.4M354.0 175.5h1.4M357.2 173.6h1.4M350.3 161.6h1.4M352.2 189.4h1.4M345.4 168.5h1.4M340.1 159.1h1.4M369.1 180.0h1.4M357.7 167.3h1.4M347.8 172.6h1.4M340.7 180.0h1.4M370.5 150.4h1.4M346.4 181.2h1.4M339.5 155.0h1.4M366.2 152.0h1.4M331.1 164.7h1.4M348.0 192.0h1.4M357.9 161.1h1.4M346.3 177.3h1.4M343.3 156.7h1.4M355.5 179.6h1.4" stroke="#000" stroke-opacity="0.85" stroke-width="1.40" fill="none"/>
<path d="M355.9 148.6h1.4M360.4 167.8h1.4M355.1 162.5h1.4M354.2 149.8h1.4M344.0 149.8h1.4M355.9 169.9h1.4M358.4 167.2h1.4M355.2 168.1h1.4M355.1 131.4h1.4M357.2 188.6h1.4M358.9 183.8h1.4M349.3 133.4h1.4M353.7 176.3h1.4M356.5 147.9h1.4M355.5 179.8h1.4M348.9 157.9h1.4M343.4 167.2h1.4M355.9 165.3h1.4M358.0 167.7h1.4M363.2 166.3h1.4M356.4 168.1h1.4M349.4 156.1h1.4M356.5 158.7h1.4M353.5 132.1h1.4M350.4 166.4h1.4M346.3 149.2h1.4M344.2 125.9h1.4M350.3 177.2h1.4M351.9 169.3h1.4M354.5 148.4h1.4M354.2 169.3h1.4M364.5 132.3h1.4M353.8 174.7h1.4M349.9 129.9h1.4M350.2 138.0h1.4M351.3 145.1h1.4M344.4 190.4h1.4M363.1 122.5h1.4M355.5 160.1h1.4M358.0 139.6h1.4M363.5 132.7h1.4M356.6 122.7h1.4M362.9 150.4h1.4M341.3 144.1h1.4M361.0 147.6h1.4M355.7 178.7h1.4M351.1 152.3h1.4M360.0 149.2h1.4M354.3 160.1h1.4M350.3 156.9h1.4M343.5 172.9h1.4M363.8 165.3h1.4M339.9 152.4h1.4M362.8 190.4h1.4M357.6 168.6h1.4M350.7 180.1h1.4M352.6 134.1h1.4M350.8 188.7h1.4M355.4 184.3h1.4M353.7 159.1h1.4M347.1 139.2h1.4M346.1 161.0h1.4M360.3 174.7h1.4M347.1 159.6h1.4M347.9 162.0h1.4M366.7 150.1h1.4M349.5 166.9h1.4M346.8 178.8h1.4M348.7 180.6h1.4M358.2 136.9h1.4M349.9 182.0h1.4M353.3 167.8h1.4M341.4 145.9h1.4M350.6 183.2h1.4M354.2 137.4h1.4M354.3 131.9h1.4M362.0 175.7h1.4M356.7 191.6h1.4M338.2 144.3h1.4M345.1 158.2h1.4M349.1 146.4h1.4M352.3 166.0h1.4M354.2 183.3h1.4M357.4 184.5h1.4M344.7 169.8h1.4M341.7 171.4h1.4M358.2 145.9h1.4M348.4 151.7h1.4M341.0 125.2h1.4M348.6 133.6h1.4M351.4 136.7h1.4M347.2 166.3h1.4M347.4 166.5h1.4M359.4 124.3h1.4M347.8 139.9h1.4M355.5 172.0h1.4M355.0 182.3h1.4M351.9 170.8h1.4M366.8 160.0h1.4M346.4 124.1h1.4M368.0 156.0h1.4M352.4 133.5h1.4M355.5 138.7h1.4M359.9 179.6h1.4M357.7 178.0h1.4M351.9 179.7h1.4M351.9 152.8h1.4M360.3 123.8h1.4M362.3 177.7h1.4M350.9 187.2h1.4M360.6 160.7h1.4M357.0 149.8h1.4M355.3 132.1h1.4M347.8 142.0h1.4M347.0 159.2h1.4M356.3 176.7h1.4M338.6 129.4h1.4M351.2 155.7h1.4M356.2 123.4h1.4M344.7 160.9h1.4M362.9 157.4h1.4M363.0 156.4h1.4M348.1 139.8h1.4M353.3 131.8h1.4M353.2 184.6h1.4M350.9 189.0h1.4M351.2 161.0h1.4M356.6 189.7h1.4M363.1 150.2h1.4M354.4 149.0h1.4M354.5 147.9h1.4M354.7 127.9h1.4M350.2 146.0h1.4M357.4 152.0h1.4M351.2 172.0h1.4M348.5 143.7h1.4M357.5 149.5h1.4M343.7 175.7h1.4M351.2 157.1h1.4M351.8 165.4h1.4M353.2 151.8h1.4M345.5 135.6h1.4M348.8 150.6h1.4M353.2 161.3h1.4M357.3 183.2h1.4M353.3 148.6h1.4M352.8 131.0h1.4M349.4 123.9h1.4M354.1 191.5h1.4M338.7 166.3h1.4M357.5 180.8h1.4M359.3 179.6h1.4M353.9 161.8h1.4M348.6 136.7h1.4M361.3 156.4h1.4M350.3 128.3h1.4M361.4 161.4h1.4M352.5 187.9h1.4M349.8 151.8h1.4M352.8 156.5h1.4M350.2 141.2h1.4M353.1 180.7h1.4M356.7 185.4h1.4M352.6 162.3h1.4M351.5 152.8h1.4M353.9 132.1h1.4M356.1 165.7h1.4M354.0 134.8h1.4M357.0 142.0h1.4M357.2 146.0h1.4M355.6 140.2h1.4M357.9 171.0h1.4M354.1 165.4h1.4M360.2 183.1h1.4M356.2 176.8h1.4M358.6 179.4h1.4M352.9 139.4h1.4M346.3 163.4h1.4M351.6 182.7h1.4M354.2 164.5h1.4M356.0 140.5h1.4M353.8 173.4h1.4M362.0 147.3h1.4M346.9 166.7h1.4M344.4 181.2h1.4M353.0 159.8h1.4M350.3 154.7h1.4M354.2 155.5h1.4M357.6 167.5h1.4M368.7 186.9h1.4M346.9 157.1h1.4M348.2 167.4h1.4M353.7 170.6h1.4M346.0 178.0h1.4M349.9 128.9h1.4M361.0 161.6h1.4M353.7 130.2h1.4M353.9 124.0h1.4M360.0 132.9h1.4M344.7 191.8h1.4M354.7 164.7h1.4M353.7 177.6h1.4M355.5 163.3h1.4M348.6 166.7h1.4M351.7 146.9h1.4M353.5 169.1h1.4M358.0 141.6h1.4M350.1 160.8h1.4M357.3 158.9h1.4M342.5 159.9h1.4M356.3 130.8h1.4M358.2 158.4h1.4M349.1 141.6h1.4M352.4 123.5h1.4M354.0 175.8h1.4M355.6 130.8h1.4M360.5 189.4h1.4M355.0 158.0h1.4M352.8 148.0h1.4M352.9 124.3h1.4M355.5 123.0h1.4M358.2 170.4h1.4M355.4 171.3h1.4M351.1 147.2h1.4M352.2 182.7h1.4M349.8 142.9h1.4M349.3 159.2h1.4M351.4 132.1h1.4M350.9 147.1h1.4M358.1 173.5h1.4M347.6 152.9h1.4M354.4 141.2h1.4M347.7 157.8h1.4M358.3 181.6h1.4M355.6 163.5h1.4M360.8 141.0h1.4M356.9 185.3h1.4M348.5 129.8h1.4M354.2 175.4h1.4M350.6 153.6h1.4M351.2 159.5h1.4M348.5 140.3h1.4M352.4 140.5h1.4M354.5 133.0h1.4M355.1 160.7h1.4M367.3 173.3h1.4M353.1 122.6h1.4M354.5 142.1h1.4M353.5 156.7h1.4M352.7 190.8h1.4M352.4 157.8h1.4M354.3 161.0h1.4M353.0 160.1h1.4M357.9 133.9h1.4M356.3 159.5h1.4M349.3 133.4h1.4" stroke="#000" stroke-opacity="0.85" stroke-width="1.40" fill="none"/>
<path d="M297.6 186.3h1.4M304.6 166.6h1.4M304.2 165.4h1.4M278.0 140.3h1.4M318.2 95.9h1.4M275.7 150.6h1.4M280.0 98.4h1.4M264.3 125.1h1.4M349.8 161.8h1.4M292.6 126.1h1.4M281.5 123.7h1.4M339.2 90.5h1.4M297.6 156.0h1.4M323.5 149.1h1.4M305.8 128.3h1.4M324.4 147.9h1.4M318.5 102.4h1.4M237.7 118.0h1.4M362.4 144.0h1.4M346.4 159.8h1.4M261.9 138.8h1.4M342.5 111.1h1.4M304.2 128.2h1.4M315.9 165.1h1.4M356.0 125.7h1.4M346.1 145.3h1.4M345.5 149.4h1.4M380.9 126.8h1.4M349.4 140.0h1.4M291.3 98.2h1.4M268.1 126.1h1.4M340.7 140.2h1.4M253.3 154.0h1.4M299.9 169.4h1.4M299.6 128.4h1.4M287.8 150.3h1.4M358.4 136.5h1.4M323.0 121.3h1.4M304.3 121.5h1.4M342.7 138.0h1.4M297.9 139.5h1.4M353.2 122.1h1.4M307.5 138.7h1.4M306.3 154.6h1.4M351.5 133.2h1.4M269.0 88.0h1.4M276.8 131.2h1.4M256.6 143.6h1.4M311.8 166.7h1.4M322.1 138.1h1.4M311.0 116.5h1.4M311.0 175.4h1.4M343.3 154.5h1.4M348.7 133.3h1.4M354.5 133.5h1.4M307.1 133.5h1.4M312.5 142.9h1.4M362.4 99.9h1.4M326.0 142.3h1.4M357.1 125.3h1.4M295.7 150.4h1.4M310.4 146.8h1.4M290.0 115.1h1.4M311.2 170.2h1.4M326.5 156.6h1.4M296.6 118.5h1.4M379.1 115.0h1.4M261.0 123.4h1.4M341.6 147.1h1.4M274.7 168.1h1.4M322.1 118.5h1.4M285.5 121.3h1.4M314.4 151.0h1.4M314.4 138.0h1.4M284.5 137.9h1.4M270.1 136.3h1.4M287.5 131.7h1.4M312.6 179.1h1.4M339.7 161.5h1.4M366.9 131.5h1.4M252.9 167.8h1.4M327.5 182.3h1.4M295.8 149.9h1.4M312.2 146.1h1.4M322.8 127.9h1.4M339.0 141.9h1.4M325.7 144.1h1.4M311.0 169.0h1.4M365.3 117.4h1.4M321.4 101.8h1.4M311.7 127.5h1.4M350.8 147.5h1.4M272.7 93.1h1.4M279.7 134.4h1.4M361.5 120.5h1.4M305.0 113.3h1.4M250.8 142.1h1.4M339.1 165.6h1.4M353.0 107.9h1.4M285.2 144.2h1.4M267.1 135.1h1.4M309.9 153.8h1.4M323.9 139.1h1.4M291.3 124.5h1.4M280.4 159.3h1.4M329.5 148.8h1.4M329.8 115.4h1.4M257.4 93.1h1.4M273.5 122.6h1.4M300.5 143.5h1.4M290.1 156.5h1.4M318.8 125.8h1.4M329.0 130.0h1.4M374.8 97.4h1.4M323.8 128.3h1.4M342.9 141.4h1.4M258.3 125.3h1.4M287.9 136.4h1.4M347.5 116.3h1.4M261.8 118.1h1.4M357.1 145.0h1.4M330.1 103.2h1.4M316.0 139.0h1.4M307.3 165.8h1.4M271.7 125.6h1.4M274.5 127.3h1.4M293.3 119.6h1.4M296.7 108.9h1.4M353.3 125.3h1.4M276.6 109.4h1.4M290.0 133.3h1.4M252.0 125.8h1.4M316.9 112.5h1.4M311.2 139.0h1.4M348.6 161.1h1.4M376.6 156.3h1.4M329.5 131.8h1.4M282.1 137.6h1.4M318.9 114.2h1.4M320.9 132.5h1.4M309.2 153.0h1.4M274.4 155.3h1.4M323.0 168.7h1.4M270.0 103.5h1.4M308.4 173.6h1.4M300.9 146.6h1.4M223.2 173.3h1.4M332.0 138.0h1.4M383.7 165.9h1.4M298.8 137.3h1.4M290.1 113.7h1.4M342.9 145.1h1.4M266.6 126.3h1.4M311.9 136.9h1.4M319.4 149.7h1.4M292.1 155.5h1.4M308.7 152.6h1.4M282.4 159.8h1.4M291.5 102.5h1.4M333.8 164.2h1.4M281.5 118.8h1.4M291.7 139.9h1.4M287.5 128.5h1.4M328.5 111.5h1.4M298.5 157.9h1.4M282.2 114.6h1.4M322.5 125.1h1.4M242.8 171.0h1.4M246.5 86.4h1.4M321.0 99.4h1.4M374.6 159.5h1.4M294.5 128.4h1.4M322.7 155.7h1.4M263.9 137.5h1.4M315.4 126.8h1.4M317.9 153.7h1.4M330.8 121.8h1.4M285.9 125.2h1.4M377.1 143.1h1.4M278.6 112.8h1.4M363.0 105.0h1.4M274.6 100.0h1.4M338.2 159.1h1.4M356.9 181.7h1.4M385.2 164.8h1.4M307.4 123.3h1.4M255.2 126.0h1.4M340.1 115.2h1.4M287.2 137.8h1.4M274.7 161.5h1.4M291.3 136.2h1.4M280.4 137.4h1.4M337.4 64.1h1.4M317.8 144.9h1.4M334.8 110.5h1.4M340.8 132.1h1.4M298.3 146.2h1.4M335.5 140.7h1.4M352.9 154.9h1.4M374.8 173.1h1.4M317.3 85.9h1.4M302.6 102.5h1.4M279.8 175.9h1.4M298.1 149.2h1.4M311.9 121.7h1.4M320.2 132.1h1.4M265.7 138.4h1.4M297.8 162.4h1.4M304.8 130.9h1.4M291.4 138.2h1.4M290.8 107.7h1.4M323.5 172.0h1.4M278.4 148.8h1.4M327.7 127.6h1.4M274.9 107.7h1.4M319.0 138.0h1.4M273.7 158.7h1.4M351.9 191.4h1.4M336.9 182.5h1.4M357.4 130.0h1.4M283.1 129.0h1.4M266.7 116.3h1.4M266.7 149.3h1.4M304.0 121.3h1.4M347.9 152.0h1.4M335.8 146.2h1.4M334.6 148.4h1.4M269.6 116.5h1.4M348.6 165.3h1.4M336.6 134.3h1.4M293.0 111.0h1.4M224.7 138.1h1.4M284.5 143.0h1.4M307.1 140.4h1.4M365.5 160.7h1.4M319.0 166.7h1.4M309.4 191.5h1.4M365.9 136.9h1.4M364.8 167.1h1.4M324.6 79.5h1.4M332.9 182.4h1.4M354.5 138.6h1.4M287.1 168.4h1.4M325.5 133.8h1.4M297.2 151.7h1.4M278.6 153.7h1.4M328.7 125.2h1.4M349.5 126.1h1.4M375.7 72.6h1.4M338.3 152.1h1.4M350.7 135.7h1.4M305.7 134.1h1.4M260.3 167.5h1.4M290.1 147.4h1.4M325.5 144.7h1.4M291.6 95.7h1.4M377.6 142.9h1.4M353.7 132.6h1.4M305.2 162.0h1.4M371.4 127.9h1.4M334.2 111.1h1.4M368.3 134.0h1.4M305.9 181.9h1.4M338.9 119.3h1.4M304.1 169.0h1.4M312.5 135.4h1.4M351.5 92.5h1.4M377.7 153.7h1.4M322.3 149.9h1.4M281.9 114.7h1.4M304.9 134.3h1.4M329.2 119.0h1.4M297.3 152.2h1.4M273.8 84.6h1.4M319.0 158.4h1.4M342.8 149.8h1.4M323.8 115.7h1.4M302.6 125.3h1.4M277.5 137.7h1.4M256.7 179.2h1.4M312.8 127.2h1.4M364.4 121.9h1.4M303.0 161.5h1.4M309.9 124.7h1.4M296.9 115.3h1.4M273.5 136.2h1.4M348.8 158.4h1.4M336.6 142.8h1.4M261.5 130.7h1.4M269.6 172.6h1.4M358.4 171.6h1.4M282.0 102.3h1.4M310.6 112.6h1.4M276.8 118.0h1.4M323.3 134.3h1.4M285.2 143.3h1.4M291.5 137.6h1.4M274.0 141.1h1.4M377.5 149.8h1.4M401.6 109.7h1.4M319.9 88.9h1.4M335.3 146.2h1.4M331.9 168.2h1.4M312.5 143.9h1.4M309.2 129.9h1.4M299.9 152.4h1.4M339.4 132.0h1.4M270.1 109.4h1.4M283.5 130.6h1.4M336.6 157.1h1.4M263.9 147.0h1.4M368.1 155.3h1.4M302.9 128.0h1.4M318.8 152.4h1.4M358.1 172.5h1.4M310.7 132.0h1.4M316.9 128.2h1.4M292.0 168.0h1.4M330.1 141.9h1.4M336.2 112.6h1.4M282.0 130.0h1.4M335.0 169.9h1.4M345.9 148.0h1.4M328.6 182.7h1.4M286.4 154.4h1.4M344.5 145.7h1.4M359.5 164.0h1.4M295.5 125.7h1.4M249.2 164.4h1.4M288.0 137.8h1.4M313.0 134.0h1.4M357.2 148.9h1.4M353.6 129.1h1.4M336.0 113.9h1.4M290.2 119.2h1.4M338.7 151.8h1.4M312.1 146.7h1.4M277.0 141.8h1.4M250.5 156.5h1.4M346.9 119.4h1.4M256.1 130.5h1.4M355.6 177.4h1.4M390.3 118.1h1.4M313.5 169.4h1.4M283.2 133.8h1.4M290.3 152.0h1.4M288.9 145.4h1.4M325.6 134.1h1.4M347.0 142.6h1.4M286.2 162.0h1.4M300.8 124.0h1.4M289.9 118.2h1.4M352.0 159.8h1.4M346.2 130.9h1.4M283.0 136.1h1.4M301.7 135.7h1.4M318.1 130.3h1.4M250.4 98.7h1.4M293.7 137.8h1.4M317.1 129.4h1.4M263.9 109.1h1.4M319.7 127.2h1.4M313.9 145.4h1.4M293.1 179.7h1.4M348.1 127.6h1.4M279.9 170.7h1.4M327.0 129.6h1.4M303.5 150.7h1.4M350.2 134.2h1.4M285.2 157.2h1.4M333.1 143.3h1.4M333.6 131.1h1.4M351.6 104.8h1.4M368.1 162.7h1.4M259.7 105.7h1.4M309.7 126.2h1.4M274.9 180.6h1.4M346.1 145.6h1.4M359.5 142.1h1.4M301.9 143.0h1.4M320.7 145.7h1.4M357.7 132.3h1.4M319.3 148.0h1.4M307.7 136.4h1.4M255.4 132.6h1.4M287.7 150.9h1.4M346.9 154.7h1.4M261.7 148.2h1.4M322.3 161.9h1.4M319.8 182.9h1.4M311.8 179.5h1.4M339.9 142.6h1.4M286.3 115.3h1.4M360.3 166.5h1.4M297.1 142.9h1.4M347.5 158.0h1.4M292.1 132.3h1.4M321.3 159.9h1.4M300.8 115.0h1.4M370.5 144.3h1.4M276.2 109.7h1.4M290.3 186.5h1.4M362.9 134.7h1.4M340.3 92.8h1.4M311.0 169.7h1.4M303.3 162.8h1.4M267.7 171.9h1.4M302.8 115.0h1.4M324.6 149.3h1.4M354.1 170.7h1.4M344.7 136.6h1.4M362.6 149.6h1.4M325.6 135.9h1.4M287.6 133.8h1.4M300.2 172.2h1.4M365.5 123.3h1.4M316.0 141.7h1.4M361.3 154.0h1.4M257.3 141.9h1.4M295.3 160.1h1.4M284.5 95.9h1.4M321.3 166.9h1.4M284.9 114.1h1.4M266.2 136.1h1.4M309.6 133.2h1.4M232.7 151.7h1.4M291.7 136.8h1.4M327.1 131.3h1.4M272.3 156.6h1.4M310.4 187.8h1.4M281.6 127.2h1.4M300.3 126.0h1.4M320.6 127.7h1.4M328.6 113.3h1.4M327.4 113.3h1.4M286.0 130.2h1.4M365.5 157.0h1.4M323.7 129.4h1.4M289.7 122.2h1.4M359.1 138.4h1.4M298.5 122.8h1.4M342.0 175.7h1.4M308.7 141.5h1.4M295.7 102.5h1.4M283.4 128.0h1.4M285.1 120.1h1.4M302.9 120.8h1.4M359.8 91.5h1.4M318.9 128.8h1.4M309.8 127.2h1.4M327.5 125.4h1.4M301.7 111.5h1.4M268.7 148.8h1.4M260.7 121.1h1.4M362.6 89.5h1.4M303.0 117.2h1.4M369.1 158.6h1.4M379.5 167.5h1.4M322.7 114.8h1.4M340.0 136.6h1.4M300.3 152.9h1.4M308.4 161.0h1.4M315.9 129.8h1.4M312.8 146.8h1.4M366.0 130.5h1.4M309.6 99.4h1.4M344.7 160.9h1.4M317.3 138.7h1.4M335.1 149.6h1.4M377.8 135.5h1.4M258.4 120.4h1.4M354.3 129.1h1.4M291.1 147.7h1.4M320.1 111.5h1.4M301.0 174.9h1.4M296.3 191.6h1.4M265.1 88.8h1.4M218.7 160.9h1.4M388.8 130.3h1.4M343.8 153.9h1.4M304.6 144.4h1.4M247.2 136.0h1.4M336.9 160.5h1.4M369.1 142.3h1.4M328.5 173.7h1.4M252.3 147.6h1.4M294.6 107.8h1.4M322.5 136.6h1.4M310.5 140.4h1.4M352.6 127.4h1.4M278.6 112.7h1.4M290.2 184.6h1.4M224.5 138.7h1.4M353.3 139.7h1.4M335.7 103.8h1.4M297.4 153.0h1.4M248.8 137.8h1.4M343.9 165.1h1.4M262.3 178.6h1.4M267.2 125.9h1.4M243.8 124.1h1.4M261.7 166.6h1.4M278.8 164.8h1.4M273.5 147.6h1.4M351.9 156.9h1.4M338.1 133.5h1.4M315.2 140.0h1.4M292.0 140.5h1.4M310.8 92.5h1.4M264.8 157.2h1.4M326.6 158.1h1.4M278.6 119.8h1.4M293.9 128.3h1.4M324.4 147.3h1.4M280.7 156.8h1.4M262.1 140.9h1.4M349.0 130.3h1.4M250.0 150.0h1.4M266.0 143.3h1.4M269.9 118.2h1.4M286.0 133.3h1.4M307.0 132.2h1.4M195.9 155.5h1.4M294.0 111.1h1.4M362.7 122.4h1.4M355.1 131.8h1.4M343.9 141.1h1.4M319.9 136.6h1.4M291.9 164.2h1.4M251.5 158.0h1.4M325.0 169.5h1.4M351.0 179.4h1.4M322.8 153.4h1.4M311.0 118.8h1.4M343.4 132.6h1.4M323.5 174.2h1.4M352.7 188.9h1.4M296.6 169.3h1.4M329.7 156.0h1.4M344.2 121.9h1.4M283.8 142.8h1.4M320.6 147.2h1.4M338.2 161.4h1.4M212.9 159.9h1.4M401.0 120.8h1.4M340.3 167.1h1.4M304.7 127.9h1.4M269.8 146.9h1.4M254.5 155.3h1.4M300.1 152.3h1.4M337.4 128.4h1.4M287.9 137.6h1.4M300.1 161.6h1.4M335.9 130.2h1.4M277.6 114.2h1.4M309.1 83.3h1.4M304.6 140.9h1.4M329.5 120.2h1.4M343.3 140.5h1.4M305.4 116.4h1.4M363.0 130.6h1.4M294.5 132.1h1.4M297.8 161.8h1.4M315.1 120.6h1.4M302.6 113.5h1.4M340.4 142.9h1.4M207.8 158.9h1.4M247.3 119.8h1.4M232.5 151.8h1.4M363.4 140.6h1.4M342.1 151.6h1.4M286.5 98.3h1.4M326.2 142.4h1.4M247.4 134.5h1.4M300.7 145.0h1.4M366.1 124.9h1.4M335.7 137.6h1.4M390.2 90.9h1.4M294.0 139.8h1.4M354.2 171.0h1.4M316.0 144.6h1.4M323.8 141.8h1.4M321.5 148.0h1.4M340.4 172.1h1.4M360.7 124.9h1.4M314.5 106.9h1.4M326.1 115.1h1.4M308.6 124.9h1.4M322.8 142.3h1.4M282.7 158.8h1.4M349.0 123.5h1.4M338.2 117.1h1.4M324.3 160.3h1.4M311.9 164.4h1.4M288.1 122.6h1.4M277.8 157.3h1.4M271.7 135.9h1.4M283.5 129.0h1.4M346.1 137.1h1.4M328.2 120.6h1.4M260.3 101.4h1.4M277.1 107.8h1.4M361.6 122.8h1.4M373.8 146.7h1.4M343.7 148.9h1.4M390.2 159.4h1.4M287.7 121.9h1.4M329.0 139.2h1.4M289.7 107.1h1.4M394.4 117.5h1.4M329.1 163.1h1.4M328.8 136.7h1.4M327.0 182.6h1.4M288.4 155.3h1.4M311.5 129.0h1.4M230.1 123.9h1.4M297.4 92.7h1.4M277.0 169.6h1.4M342.7 162.4h1.4M324.0 187.0h1.4M276.5 147.4h1.4M273.9 116.0h1.4M341.3 99.5h1.4M304.4 131.0h1.4M304.7 139.1h1.4M274.8 106.3h1.4M323.3 155.7h1.4M321.8 162.0h1.4M343.8 117.4h1.4M280.2 134.0h1.4M313.3 107.6h1.4M262.7 162.9h1.4M322.8 119.3h1.4M314.8 113.8h1.4M301.1 94.8h1.4M347.5 116.3h1.4M268.1 100.0h1.4M371.7 164.0h1.4M329.7 154.2h1.4M335.9 111.5h1.4M324.9 119.3h1.4M289.1 137.9h1.4M294.3 142.2h1.4M349.8 115.3h1.4M314.3 170.6h1.4M326.5 154.2h1.4M302.2 186.0h1.4M345.8 75.9h1.4M338.9 103.3h1.4M267.6 156.2h1.4M386.6 144.8h1.4M353.2 133.1h1.4M345.5 113.1h1.4M327.1 151.3h1.4M313.1 127.8h1.4M346.5 170.9h1.4M311.8 160.8h1.4M275.0 97.2h1.4M314.0 147.1h1.4M317.8 180.2h1.4M350.1 182.2h1.4M270.2 168.5h1.4M299.0 166.1h1.4M303.4 122.1h1.4M350.7 173.6h1.4M355.5 183.2h1.4M322.3 149.7h1.4M354.0 151.7h1.4M318.8 136.5h1.4M318.6 144.2h1.4M231.4 132.8h1.4M282.0 150.9h1.4M273.6 135.9h1.4M331.0 104.7h1.4M317.3 125.6h1.4M275.0 149.3h1.4M315.8 144.7h1.4M309.6 173.5h1.4M328.2 162.1h1.4M293.8 169.8h1.4M287.8 138.7h1.4M358.3 164.6h1.4M304.2 123.5h1.4M350.8 124.3h1.4M281.6 160.5h1.4M305.5 145.4h1.4M301.9 121.6h1.4M278.3 161.9h1.4M339.6 173.5h1.4M264.6 157.6h1.4M322.1 170.2h1.4M235.8 161.3h1.4M338.6 161.2h1.4M314.9 121.3h1.4M354.4 96.7h1.4M386.6 131.9h1.4M288.5 64.9h1.4M313.7 127.0h1.4M266.6 114.0h1.4M296.6 142.4h1.4M315.5 123.3h1.4M314.6 139.7h1.4M341.7 119.0h1.4M331.3 133.8h1.4M348.6 174.3h1.4M288.5 115.9h1.4M318.4 99.4h1.4M275.4 172.4h1.4M306.9 157.6h1.4M214.1 138.9h1.4M309.2 130.3h1.4M314.8 146.8h1.4M296.2 131.2h1.4M298.3 162.0h1.4M251.1 132.7h1.4M289.3 125.1h1.4M291.2 152.4h1.4M320.7 121.1h1.4M329.2 152.5h1.4M296.7 112.3h1.4M307.6 127.1h1.4M325.5 143.8h1.4M280.5 123.4h1.4M349.3 162.4h1.4M386.3 137.6h1.4M326.4 144.5h1.4M295.3 94.2h1.4M320.6 152.6h1.4M354.8 141.6h1.4M358.5 93.8h1.4M264.2 145.4h1.4M324.4 147.3h1.4M286.4 123.1h1.4M296.7 114.3h1.4M322.4 107.0h1.4M331.9 140.2h1.4M302.5 140.3h1.4M282.0 134.6h1.4M305.4 186.3h1.4M275.5 139.0h1.4M375.3 143.2h1.4M256.5 102.9h1.4M334.1 146.6h1.4M316.5 161.0h1.4M312.9 118.9h1.4M274.9 187.9h1.4M294.9 126.5h1.4M300.3 142.9h1.4M293.1 130.9h1.4M303.7 130.5h1.4M316.3 73.1h1.4M296.4 159.3h1.4M328.1 88.8h1.4M338.5 168.2h1.4M293.0 113.8h1.4M338.6 127.3h1.4M292.1 117.0h1.4M329.0 134.3h1.4M352.1 110.5h1.4M300.7 135.1h1.4M246.6 148.9h1.4M340.0 175.7h1.4M347.9 78.9h1.4M272.2 137.7h1.4M307.2 153.2h1.4M328.6 160.1h1.4M227.0 121.6h1.4M339.9 141.4h1.4M337.9 182.6h1.4M341.0 148.0h1.4M365.4 188.4h1.4M274.1 111.6h1.4M345.8 123.0h1.4M393.4 140.3h1.4M230.7 115.8h1.4M298.3 154.5h1.4M336.9 113.6h1.4M285.7 147.3h1.4M245.8 104.7h1.4M322.8 119.8h1.4M317.6 145.4h1.4M285.4 153.3h1.4M320.2 117.3h1.4M344.3 104.6h1.4M347.5 152.4h1.4M326.4 116.3h1.4M266.8 148.7h1.4M300.2 169.6h1.4M229.2 154.5h1.4M272.9 104.4h1.4M317.0 168.2h1.4M330.8 165.4h1.4M310.2 125.9h1.4M310.5 129.8h1.4M240.5 172.6h1.4M264.8 147.0h1.4M269.4 149.6h1.4M289.5 165.0h1.4M289.3 152.2h1.4M347.0 171.9h1.4M273.8 143.4h1.4M286.6 142.7h1.4M290.9 133.1h1.4M289.5 168.1h1.4M291.8 112.4h1.4M237.0 160.6h1.4M352.6 126.4h1.4M335.0 97.3h1.4M333.5 162.8h1.4M314.2 150.1h1.4M327.1 146.7h1.4M297.4 132.9h1.4M239.2 139.6h1.4M314.8 125.5h1.4M311.3 171.2h1.4M262.8 171.9h1.4M229.4 139.2h1.4M351.3 140.5h1.4M273.4 146.9h1.4M302.8 161.3h1.4M285.1 145.6h1.4M370.9 129.8h1.4M256.4 135.0h1.4M348.2 146.9h1.4M218.8 137.1h1.4M343.4 131.4h1.4M292.2 169.0h1.4M228.8 150.2h1.4M312.2 161.7h1.4M307.4 120.0h1.4M251.8 159.9h1.4M322.8 141.2h1.4M308.9 134.7h1.4M327.3 124.8h1.4M259.4 125.9h1.4M282.8 129.7h1.4M275.0 143.3h1.4M314.3 138.7h1.4M290.8 187.1h1.4M273.7 151.8h1.4M359.8 146.3h1.4M290.7 138.6h1.4M349.5 122.3h1.4M340.1 122.0h1.4M283.9 149.0h1.4M243.4 105.5h1.4M317.2 178.2h1.4M334.5 177.0h1.4M352.4 106.5h1.4M324.1 168.8h1.4M325.7 166.3h1.4M287.1 166.9h1.4M283.8 156.5h1.4M351.4 122.2h1.4M261.9 130.2h1.4M321.0 154.9h1.4M326.7 142.1h1.4M245.3 107.8h1.4M299.7 159.8h1.4M330.6 164.6h1.4M370.3 135.9h1.4M368.9 149.7h1.4M297.4 163.0h1.4M298.7 92.2h1.4M293.4 128.0h1.4M318.5 120.7h1.4M341.4 137.5h1.4M272.6 112.2h1.4M303.9 111.5h1.4M289.0 145.9h1.4M282.3 183.1h1.4M291.7 112.3h1.4M376.7 178.0h1.4M373.6 163.1h1.4M363.6 164.1h1.4M250.1 171.4h1.4M321.6 131.2h1.4M397.5 166.9h1.4M325.6 106.1h1.4M284.6 122.5h1.4M332.1 148.6h1.4M301.1 158.8h1.4M295.9 109.2h1.4M319.8 97.0h1.4M327.8 150.5h1.4M304.3 147.7h1.4M309.8 157.1h1.4M273.3 139.2h1.4M308.9 110.8h1.4M336.4 167.1h1.4M313.9 158.9h1.4M304.2 144.9h1.4M258.1 191.3h1.4M351.5 146.5h1.4M268.3 176.0h1.4M335.2 137.9h1.4M297.4 73.8h1.4M339.8 114.2h1.4M348.5 77.5h1.4M299.1 135.6h1.4M200.2 168.2h1.4M236.2 101.6h1.4M275.1 157.8h1.4M277.0 134.6h1.4M321.2 162.0h1.4M382.6 149.7h1.4M334.8 118.0h1.4M305.7 154.4h1.4M359.8 140.2h1.4M303.8 161.9h1.4M341.9 186.0h1.4M324.2 136.6h1.4M240.4 179.0h1.4M345.9 138.9h1.4M374.8 155.3h1.4M298.2 145.5h1.4M338.7 125.7h1.4M329.6 144.2h1.4M301.1 130.9h1.4M297.2 154.3h1.4M347.1 116.8h1.4M287.6 118.9h1.4M291.3 161.4h1.4M341.7 153.7h1.4M344.7 154.4h1.4M367.7 154.4h1.4M289.7 165.4h1.4M262.5 152.3h1.4M350.6 162.6h1.4M255.2 123.4h1.4M296.1 153.2h1.4M303.1 124.3h1.4M373.5 112.7h1.4M312.1 136.1h1.4M267.2 156.3h1.4M310.1 141.8h1.4M359.4 182.6h1.4M245.5 157.1h1.4M263.3 151.3h1.4M348.3 144.0h1.4M315.5 110.4h1.4M274.2 142.6h1.4M303.6 142.0h1.4M313.7 181.8h1.4M269.3 123.2h1.4M290.4 138.6h1.4M363.8 124.7h1.4M322.7 144.9h1.4M351.7 101.5h1.4M309.8 148.3h1.4M290.8 141.8h1.4M322.3 145.6h1.4M324.4 139.5h1.4M300.0 152.6h1.4M300.5 141.0h1.4M301.3 166.6h1.4M360.7 180.7h1.4M256.4 149.2h1.4M319.1 112.1h1.4M265.3 151.5h1.4M343.9 103.2h1.4M303.1 121.1h1.4M317.8 127.8h1.4M328.2 115.7h1.4M324.1 141.4h1.4M317.9 133.0h1.4M324.4 124.2h1.4M323.7 150.0h1.4M294.5 124.4h1.4M300.4 171.1h1.4M302.4 156.0h1.4M285.2 131.3h1.4M291.6 151.5h1.4M358.9 125.5h1.4M259.2 126.7h1.4M372.3 165.0h1.4M292.2 104.2h1.4M333.7 152.0h1.4M311.3 185.8h1.4M304.6 89.7h1.4M372.6 96.5h1.4M307.0 89.0h1.4M310.0 92.1h1.4M291.7 114.0h1.4" stroke="#111" stroke-opacity="0.75" stroke-width="1.40" fill="none"/>
<path d="M223.4 172.3h1.4M221.0 141.2h1.4M240.0 177.6h1.4M204.2 143.9h1.4M250.1 151.4h1.4M196.5 161.3h1.4M245.5 139.6h1.4M243.7 155.5h1.4M201.0 188.3h1.4M186.2 188.3h1.4M191.6 180.6h1.4M193.0 153.1h1.4M254.7 166.0h1.4M237.3 181.0h1.4M253.7 137.0h1.4M255.2 159.5h1.4M249.8 165.6h1.4M235.3 170.7h1.4M250.5 149.8h1.4M240.1 155.3h1.4M222.2 190.8h1.4M251.9 141.3h1.4M243.3 181.4h1.4M239.6 168.5h1.4M241.4 190.4h1.4M246.0 168.4h1.4M252.2 158.7h1.4M185.0 189.0h1.4M233.2 169.4h1.4M224.7 169.2h1.4M201.9 181.8h1.4M211.9 155.7h1.4M193.3 169.4h1.4M228.3 179.5h1.4M208.5 148.8h1.4M212.7 150.2h1.4M234.1 177.7h1.4M224.5 183.1h1.4M234.3 175.0h1.4M242.7 171.6h1.4M254.4 144.3h1.4M245.0 182.7h1.4M202.8 190.1h1.4M218.5 184.7h1.4M248.4 165.5h1.4M221.0 143.8h1.4M191.1 161.0h1.4M233.1 186.5h1.4M182.0 173.5h1.4M204.0 145.3h1.4M248.6 188.3h1.4M254.1 172.4h1.4M253.9 178.2h1.4M251.6 142.9h1.4M245.7 169.6h1.4M224.5 179.8h1.4M198.3 145.7h1.4M238.5 151.9h1.4M247.7 184.0h1.4M227.1 165.7h1.4M205.0 179.0h1.4M254.4 178.6h1.4M215.5 165.4h1.4M205.1 159.9h1.4M252.8 177.0h1.4M218.8 157.3h1.4M250.8 173.5h1.4M237.6 142.0h1.4M207.0 177.2h1.4M239.4 178.3h1.4M211.5 181.9h1.4M191.3 164.2h1.4M246.1 181.2h1.4M204.2 148.9h1.4M213.3 138.0h1.4M251.5 184.9h1.4M253.2 144.0h1.4M188.6 149.4h1.4M210.0 152.1h1.4M206.0 138.2h1.4M242.6 149.7h1.4M216.9 158.8h1.4M254.0 146.1h1.4M202.2 186.7h1.4M189.5 140.0h1.4M203.0 152.7h1.4M231.5 148.6h1.4M252.3 166.0h1.4M246.5 141.4h1.4M248.9 166.3h1.4M229.5 145.9h1.4M184.8 177.8h1.4M255.8 157.8h1.4M225.2 157.0h1.4M238.0 183.3h1.4M250.0 145.8h1.4M204.5 164.8h1.4M227.8 176.4h1.4M243.9 163.2h1.4M230.1 190.8h1.4M248.9 190.8h1.4M229.8 141.3h1.4M237.2 188.1h1.4M248.1 185.0h1.4M245.7 142.8h1.4M208.2 177.8h1.4M189.0 155.2h1.4M226.6 151.2h1.4M208.3 165.6h1.4M209.1 141.4h1.4M206.4 179.7h1.4M210.4 189.0h1.4M184.2 152.7h1.4M212.0 190.3h1.4M211.0 187.8h1.4M224.6 160.8h1.4M218.1 162.0h1.4M194.8 171.8h1.4M253.6 140.6h1.4M206.8 148.3h1.4M246.7 167.1h1.4M237.2 156.4h1.4M227.2 164.5h1.4M244.5 146.4h1.4M220.5 188.5h1.4M224.8 160.3h1.4M217.6 149.9h1.4M215.9 139.4h1.4M222.5 168.3h1.4M218.7 159.2h1.4M223.2 173.9h1.4M241.3 174.5h1.4M209.3 140.6h1.4M242.6 142.6h1.4M199.2 161.7h1.4M236.2 160.2h1.4M252.1 159.8h1.4M244.6 165.4h1.4M239.5 160.9h1.4M241.3 182.6h1.4M203.9 169.1h1.4M209.5 153.0h1.4M192.8 158.7h1.4M231.9 149.6h1.4M204.2 167.6h1.4M248.1 184.0h1.4M210.4 172.0h1.4M214.0 186.8h1.4M246.7 177.8h1.4M235.3 169.0h1.4M222.7 181.8h1.4M232.4 173.2h1.4M225.3 137.7h1.4M245.8 172.0h1.4M185.3 178.7h1.4M193.4 178.8h1.4M191.9 152.3h1.4M216.7 146.6h1.4M238.2 137.0h1.4M238.1 149.4h1.4M233.7 147.3h1.4M251.1 152.5h1.4M240.4 142.3h1.4M221.9 146.9h1.4M204.0 143.8h1.4M218.1 149.9h1.4M238.6 158.6h1.4M228.2 181.0h1.4M255.0 186.5h1.4M243.0 168.8h1.4M204.9 164.6h1.4M251.2 163.4h1.4M238.8 187.9h1.4M207.1 185.0h1.4M251.4 171.4h1.4M197.2 155.7h1.4M200.2 182.4h1.4M238.6 188.2h1.4M210.0 163.8h1.4M234.8 147.4h1.4M230.1 163.2h1.4M187.5 154.8h1.4M254.4 141.0h1.4M192.7 171.7h1.4M251.0 169.5h1.4M245.8 168.2h1.4M194.9 142.3h1.4M203.1 173.1h1.4M244.5 159.8h1.4M246.9 154.6h1.4M219.9 154.8h1.4M217.4 161.1h1.4M242.9 165.8h1.4M185.5 180.2h1.4M221.0 169.1h1.4M224.0 138.9h1.4M215.5 160.8h1.4M212.5 175.4h1.4M203.7 157.1h1.4M237.7 139.2h1.4M249.9 188.4h1.4M210.0 165.2h1.4M246.9 146.9h1.4M214.8 187.7h1.4M219.2 139.7h1.4M207.2 140.8h1.4M248.4 144.1h1.4M235.2 147.5h1.4M226.5 169.2h1.4M192.1 187.4h1.4M234.7 156.7h1.4M209.9 186.5h1.4M197.8 151.6h1.4M228.7 154.4h1.4M207.6 166.3h1.4M224.4 182.2h1.4M221.2 173.9h1.4M211.8 157.5h1.4M207.9 152.6h1.4M232.0 155.5h1.4M236.9 184.3h1.4M232.1 153.8h1.4M189.5 146.3h1.4M248.1 151.3h1.4M241.2 158.2h1.4M249.2 188.5h1.4M228.0 162.7h1.4M227.3 184.4h1.4M237.0 185.3h1.4M237.1 168.8h1.4" stroke="#222" stroke-opacity="0.75" stroke-width="1.40" fill="none"/>
<path d="M244.3 185.9h1.4M236.6 183.1h1.4M231.5 176.2h1.4M231.8 179.5h1.4M245.5 177.1h1.4M240.8 185.1h1.4M225.3 173.4h1.4M239.6 186.3h1.4M233.0 176.6h1.4M232.5 181.5h1.4M242.7 177.8h1.4M240.3 181.9h1.4M230.9 185.8h1.4M235.9 183.1h1.4M239.8 173.9h1.4M235.3 178.7h1.4M238.5 180.7h1.4M231.8 189.4h1.4M243.8 177.4h1.4M244.7 178.0h1.4M232.0 176.1h1.4M227.4 179.7h1.4M233.1 183.3h1.4M241.2 175.0h1.4M237.2 187.0h1.4M235.6 186.3h1.4M237.1 184.0h1.4M227.1 183.1h1.4M235.7 192.3h1.4M235.4 174.7h1.4M232.2 177.2h1.4M240.7 190.8h1.4M232.0 173.8h1.4M232.1 181.6h1.4M240.2 179.1h1.4M239.8 175.3h1.4M236.4 175.2h1.4M237.4 178.9h1.4M238.3 181.4h1.4M238.0 182.5h1.4M230.1 183.0h1.4M241.0 180.3h1.4M248.1 180.2h1.4M238.3 183.1h1.4M234.4 176.8h1.4" stroke="#222" stroke-opacity="0.80" stroke-width="1.40" fill="none"/>
<path d="M247.0 138.8h1.4M260.1 154.9h1.4M242.4 154.0h1.4M258.4 136.5h1.4M262.7 147.1h1.4M247.5 151.9h1.4M241.5 138.4h1.4M249.8 160.7h1.4M256.8 145.4h1.4M249.1 154.9h1.4M261.2 157.0h1.4M258.9 143.7h1.4M249.0 154.5h1.4M259.6 152.6h1.4M246.3 155.0h1.4M252.2 148.0h1.4M256.4 159.7h1.4M263.0 157.6h1.4M259.8 164.5h1.4M264.0 160.5h1.4M246.2 140.3h1.4M274.4 146.9h1.4M249.7 155.2h1.4M256.7 160.0h1.4M264.4 145.8h1.4M258.1 151.7h1.4M262.3 154.2h1.4M247.6 150.7h1.4M248.2 160.0h1.4M252.3 143.3h1.4M251.6 155.9h1.4M255.7 145.0h1.4M253.0 155.2h1.4M247.9 143.9h1.4M256.3 149.2h1.4M246.5 159.4h1.4M250.8 143.6h1.4M256.9 152.2h1.4M249.5 157.0h1.4M254.9 150.7h1.4M258.9 149.3h1.4M264.0 151.7h1.4M262.3 144.2h1.4M260.3 157.9h1.4M258.0 157.6h1.4M247.3 166.1h1.4M249.8 154.0h1.4M249.7 160.7h1.4M251.7 147.5h1.4M254.1 155.6h1.4M249.2 144.0h1.4M252.3 153.6h1.4M261.7 149.0h1.4M252.3 159.6h1.4M243.2 134.7h1.4M253.2 150.2h1.4M254.0 149.1h1.4M252.8 157.1h1.4M267.9 145.7h1.4M260.6 148.1h1.4M265.2 162.1h1.4M251.2 146.4h1.4M259.5 148.4h1.4M256.4 161.1h1.4M254.4 134.1h1.4M249.8 155.0h1.4M256.2 154.5h1.4M243.2 153.8h1.4M260.7 136.8h1.4M271.8 139.8h1.4M263.9 144.7h1.4M242.2 144.5h1.4M256.1 157.2h1.4M250.3 147.9h1.4M251.2 163.4h1.4M253.3 151.4h1.4M262.0 156.7h1.4M259.3 146.1h1.4M249.8 146.7h1.4M258.3 155.2h1.4M255.8 158.9h1.4M267.2 146.1h1.4M246.0 162.3h1.4M254.2 149.6h1.4M249.1 164.6h1.4M254.7 141.4h1.4M242.6 148.7h1.4M249.2 157.0h1.4M254.2 151.0h1.4M251.2 146.8h1.4M249.5 157.0h1.4M254.1 159.5h1.4M251.4 148.3h1.4M249.2 158.0h1.4M253.3 148.1h1.4M255.0 145.1h1.4M256.8 162.3h1.4M244.3 147.0h1.4M252.3 147.6h1.4M261.9 157.9h1.4M246.1 143.5h1.4M255.6 143.8h1.4M251.8 149.5h1.4M261.3 152.4h1.4M262.2 159.3h1.4M256.4 150.1h1.4M251.8 146.2h1.4M245.3 141.0h1.4M251.6 148.9h1.4M249.7 147.8h1.4M255.0 160.8h1.4M264.1 138.3h1.4M266.3 136.9h1.4M256.6 136.1h1.4M255.6 149.6h1.4M254.0 155.2h1.4M256.6 164.9h1.4M253.6 138.1h1.4M265.4 152.8h1.4M250.3 146.4h1.4M255.5 164.9h1.4M251.1 154.4h1.4M260.5 164.1h1.4M265.7 151.3h1.4M258.8 160.4h1.4M256.0 154.5h1.4M255.2 146.2h1.4M258.3 159.3h1.4M252.1 149.0h1.4M264.8 132.8h1.4M265.5 150.6h1.4M261.0 141.3h1.4M259.8 155.9h1.4M252.5 164.2h1.4M265.9 154.0h1.4M246.7 156.1h1.4M250.6 141.3h1.4M267.7 144.9h1.4M252.5 146.6h1.4M250.1 167.8h1.4M245.1 148.0h1.4M261.2 153.8h1.4M262.1 136.2h1.4M256.3 147.3h1.4M245.3 152.5h1.4M254.5 150.3h1.4M250.4 149.0h1.4M260.5 155.1h1.4M263.8 155.5h1.4M257.7 141.4h1.4M257.6 140.3h1.4M264.3 156.1h1.4M265.2 158.2h1.4M248.0 140.1h1.4M257.8 157.1h1.4M248.1 139.8h1.4M250.6 150.0h1.4M261.9 162.0h1.4M248.5 137.8h1.4M254.2 151.4h1.4M262.6 149.6h1.4M257.9 141.9h1.4M245.4 157.7h1.4M254.6 143.5h1.4M253.8 145.8h1.4M249.8 142.2h1.4M267.4 155.0h1.4M255.6 156.0h1.4M255.5 162.7h1.4M261.4 149.3h1.4M256.2 144.4h1.4M247.4 163.8h1.4M255.3 146.2h1.4M257.8 157.0h1.4M256.2 164.8h1.4M261.6 157.9h1.4M260.5 136.1h1.4M258.4 142.5h1.4M254.4 144.7h1.4M255.6 158.3h1.4M266.8 144.7h1.4M245.6 157.7h1.4M262.1 153.1h1.4M258.0 152.6h1.4M251.3 151.1h1.4M255.3 144.9h1.4M259.0 162.7h1.4M247.1 152.3h1.4M256.4 163.8h1.4M258.8 143.6h1.4M250.1 137.0h1.4M256.2 162.9h1.4M263.7 141.4h1.4M256.6 152.1h1.4M250.3 148.0h1.4M246.0 149.8h1.4M245.0 148.3h1.4M261.3 141.9h1.4M254.3 141.0h1.4M254.9 152.9h1.4M254.2 145.1h1.4M251.1 165.5h1.4M265.8 151.7h1.4M259.6 162.8h1.4M264.2 147.0h1.4M248.3 157.7h1.4M259.0 146.0h1.4M259.3 143.1h1.4M248.7 149.0h1.4M250.3 149.3h1.4M250.6 172.8h1.4M261.5 139.8h1.4M256.8 145.5h1.4M251.2 157.0h1.4M259.6 149.6h1.4M251.5 152.2h1.4M256.2 157.5h1.4M255.0 149.8h1.4M250.4 144.9h1.4M261.1 139.5h1.4M255.8 150.4h1.4M241.9 155.5h1.4M254.3 152.7h1.4M264.3 160.8h1.4M242.2 147.4h1.4M260.8 153.3h1.4M256.8 143.9h1.4M248.2 134.7h1.4M255.3 155.8h1.4M248.7 146.9h1.4" stroke="#111" stroke-opacity="0.85" stroke-width="1.40" fill="none"/>
<path d="M260.2 129.1h1.4M207.6 134.4h1.4M251.4 129.3h1.4M199.6 128.7h1.4M187.0 134.0h1.4M217.1 134.6h1.4M227.3 138.6h1.4M217.7 137.0h1.4M203.7 136.9h1.4M189.1 133.3h1.4M215.9 132.5h1.4M190.4 136.8h1.4M199.6 138.1h1.4M249.0 130.2h1.4M245.2 128.6h1.4M251.1 131.1h1.4M218.2 132.2h1.4M226.7 139.9h1.4M258.4 137.5h1.4M245.8 137.5h1.4M194.3 139.6h1.4M244.8 138.6h1.4M204.1 129.4h1.4M231.5 130.2h1.4M186.2 137.3h1.4M215.0 139.0h1.4M215.3 131.9h1.4M226.8 139.9h1.4M216.1 129.3h1.4M196.2 127.5h1.4M251.9 139.1h1.4M216.0 131.3h1.4M190.8 128.1h1.4M241.6 138.8h1.4M242.7 130.7h1.4M188.7 137.8h1.4M193.0 139.4h1.4M184.6 132.0h1.4M226.1 131.6h1.4M227.9 136.0h1.4M260.7 130.0h1.4M207.7 139.1h1.4M195.9 139.7h1.4M255.5 127.4h1.4M198.4 137.7h1.4M231.6 130.8h1.4M190.5 132.7h1.4M246.1 129.6h1.4M191.7 137.7h1.4M189.5 134.7h1.4M197.8 135.3h1.4M252.4 136.2h1.4M223.7 131.9h1.4M230.9 138.2h1.4M199.7 127.5h1.4M255.6 133.5h1.4M256.1 133.1h1.4M212.4 133.2h1.4M242.0 134.3h1.4M257.7 135.7h1.4M227.0 130.7h1.4M221.8 134.1h1.4M233.6 131.3h1.4M186.3 139.8h1.4M192.5 138.3h1.4M225.3 127.1h1.4M215.9 127.8h1.4M205.6 130.9h1.4M224.4 136.3h1.4M221.9 139.9h1.4M216.8 138.9h1.4M252.6 127.1h1.4M194.3 129.6h1.4M254.5 139.8h1.4M246.0 133.0h1.4M203.8 134.8h1.4M229.5 133.2h1.4M243.1 134.1h1.4M227.3 128.3h1.4M196.5 137.8h1.4M212.3 132.4h1.4M226.5 134.1h1.4M237.5 131.2h1.4M220.8 129.7h1.4M232.0 130.3h1.4M241.0 132.8h1.4M244.1 128.9h1.4M243.3 136.2h1.4M220.1 130.4h1.4M251.7 139.1h1.4" stroke="#111" stroke-opacity="0.80" stroke-width="1.40" fill="none"/>
<path d="M326.2 54.0h1.4M334.2 52.9h1.4M298.8 43.9h1.4M295.9 53.1h1.4M272.2 52.1h1.4M238.4 51.9h1.4M317.7 54.0h1.4M300.3 49.6h1.4M268.0 65.6h1.4M296.4 57.1h1.4M328.1 64.8h1.4M253.6 45.3h1.4M245.1 68.7h1.4M280.1 49.0h1.4M259.6 50.9h1.4M333.3 62.5h1.4M325.1 66.2h1.4M248.2 62.0h1.4M271.3 58.5h1.4M311.5 49.5h1.4M287.0 45.9h1.4M334.0 50.3h1.4M332.5 48.3h1.4M236.1 58.3h1.4M334.5 63.5h1.4M247.8 62.0h1.4M254.3 49.5h1.4M312.8 58.1h1.4M305.9 69.2h1.4M250.5 58.9h1.4M336.0 47.9h1.4M285.1 66.4h1.4M299.4 51.0h1.4M251.5 69.6h1.4M325.4 64.4h1.4M323.7 47.3h1.4M270.4 44.8h1.4M288.2 51.1h1.4M240.2 70.4h1.4M324.4 71.5h1.4M252.5 58.8h1.4M320.5 46.5h1.4M251.4 56.8h1.4M286.0 67.9h1.4M332.1 59.1h1.4M251.4 44.5h1.4M257.5 58.0h1.4M281.7 71.6h1.4M303.3 44.7h1.4M238.5 49.9h1.4M278.1 66.6h1.4M261.5 63.7h1.4M260.2 69.9h1.4M260.9 46.1h1.4M302.8 57.5h1.4M308.8 58.6h1.4M255.4 59.5h1.4M257.7 46.5h1.4M317.2 62.0h1.4M336.3 70.4h1.4M289.3 51.8h1.4M334.9 70.3h1.4M300.2 57.8h1.4M264.4 65.4h1.4M336.0 63.8h1.4M255.2 66.7h1.4M326.1 68.3h1.4M329.3 57.4h1.4M273.5 49.1h1.4M237.9 50.5h1.4M328.5 47.2h1.4M288.3 42.9h1.4M271.2 71.1h1.4M297.2 61.7h1.4M333.7 50.4h1.4M314.1 52.9h1.4M299.3 48.1h1.4M321.2 70.5h1.4M298.3 70.0h1.4M278.6 53.4h1.4M328.2 69.7h1.4M286.3 45.5h1.4M303.1 63.2h1.4M266.1 49.7h1.4M309.4 69.4h1.4M331.1 45.0h1.4M274.8 53.4h1.4M321.2 64.3h1.4M336.4 47.4h1.4M299.1 62.0h1.4" stroke="#111" stroke-opacity="0.80" stroke-width="1.40" fill="none"/>
<path d="M324.4 133.4h1.4M260.1 53.0h1.4M256.0 160.9h1.4M297.2 148.4h1.4M311.1 136.7h1.4M388.0 98.5h1.4M397.4 131.4h1.4M283.3 88.3h1.4M360.7 106.7h1.4M240.9 92.1h1.4M307.7 98.3h1.4M377.6 144.5h1.4M305.2 105.1h1.4M375.0 69.8h1.4M374.5 91.2h1.4M386.3 187.5h1.4M218.9 142.8h1.4M262.8 153.2h1.4M334.2 113.3h1.4M358.1 57.3h1.4M355.0 54.8h1.4M271.1 159.0h1.4M242.4 188.4h1.4M264.6 150.6h1.4M347.0 97.1h1.4M346.3 86.8h1.4M372.7 159.8h1.4M227.9 120.6h1.4M363.0 122.5h1.4M224.3 52.6h1.4M226.2 92.2h1.4M338.7 85.7h1.4M219.9 109.4h1.4M296.0 73.5h1.4M326.0 181.1h1.4M324.5 165.8h1.4M216.7 163.0h1.4M318.7 106.5h1.4M237.2 141.0h1.4M275.7 97.3h1.4M362.1 88.8h1.4M201.2 161.0h1.4M243.5 172.5h1.4M285.6 130.8h1.4M330.0 87.0h1.4M345.7 77.7h1.4M217.0 57.1h1.4M395.2 130.1h1.4M345.9 61.6h1.4M313.4 114.5h1.4M374.5 93.3h1.4M381.9 96.3h1.4M327.8 96.0h1.4M253.3 179.6h1.4M370.3 169.6h1.4M225.0 87.1h1.4M318.9 87.1h1.4M264.3 106.9h1.4M297.8 89.8h1.4M373.5 105.4h1.4M271.7 157.5h1.4M378.3 103.4h1.4M376.7 177.8h1.4M326.1 79.8h1.4M353.8 104.3h1.4M199.7 88.4h1.4M380.9 84.8h1.4M333.4 64.4h1.4M303.2 174.7h1.4M348.0 83.6h1.4M311.5 179.3h1.4M232.6 190.5h1.4M319.9 52.0h1.4M346.9 160.3h1.4M239.8 161.8h1.4M272.5 123.9h1.4M358.7 170.6h1.4M348.3 94.9h1.4M338.5 56.3h1.4M322.3 173.5h1.4M313.5 156.1h1.4M335.7 70.0h1.4M278.4 97.4h1.4M200.0 116.1h1.4M223.9 180.7h1.4M249.1 166.3h1.4M216.9 81.5h1.4M398.7 85.3h1.4M295.0 179.3h1.4M258.0 156.7h1.4M339.1 156.4h1.4M284.4 104.2h1.4M280.7 178.2h1.4M264.2 74.3h1.4M317.7 52.6h1.4M356.1 183.0h1.4M339.5 64.7h1.4M391.1 50.0h1.4M365.5 165.7h1.4M282.0 116.5h1.4M246.4 181.5h1.4M387.9 139.3h1.4M362.8 113.0h1.4M327.9 124.4h1.4M375.7 85.1h1.4M300.2 61.1h1.4M281.5 118.1h1.4M318.1 139.5h1.4M263.3 87.5h1.4M362.0 63.4h1.4M265.7 85.6h1.4M272.1 64.9h1.4M356.5 129.2h1.4M202.9 89.1h1.4M295.3 51.9h1.4M361.8 182.4h1.4M317.5 189.8h1.4M340.3 97.6h1.4M398.3 136.1h1.4M366.2 68.5h1.4M231.1 141.4h1.4M236.9 76.4h1.4M295.8 123.3h1.4M322.6 183.9h1.4M337.1 157.7h1.4M273.6 89.1h1.4M338.0 173.2h1.4M343.8 90.3h1.4M328.2 147.3h1.4M319.6 173.5h1.4M368.4 67.7h1.4M332.8 140.8h1.4M315.3 54.2h1.4M360.8 95.5h1.4M251.4 140.3h1.4M289.6 123.1h1.4M307.5 165.0h1.4M358.3 89.2h1.4M259.6 52.7h1.4M309.7 179.5h1.4M325.3 87.6h1.4M287.4 170.4h1.4M289.5 97.1h1.4M306.3 94.5h1.4M250.5 87.7h1.4M360.3 160.9h1.4M345.9 71.2h1.4M198.5 146.2h1.4M240.8 117.3h1.4M341.3 126.6h1.4M328.7 170.4h1.4M382.0 49.7h1.4M306.7 145.9h1.4M261.9 133.5h1.4M369.8 84.8h1.4M378.3 49.9h1.4M262.6 177.6h1.4M278.7 133.8h1.4M304.2 191.6h1.4M372.0 131.7h1.4M398.8 105.5h1.4M346.8 138.7h1.4M226.5 186.0h1.4M370.6 76.7h1.4M371.0 189.5h1.4M375.4 126.8h1.4M300.4 66.6h1.4M364.7 84.3h1.4M288.5 96.5h1.4M275.9 91.9h1.4M304.1 52.3h1.4M358.0 154.9h1.4M335.6 174.7h1.4M382.4 88.1h1.4M309.2 50.3h1.4M302.3 135.7h1.4M297.3 115.5h1.4M309.8 64.5h1.4M296.0 135.8h1.4M300.9 163.5h1.4M250.5 63.8h1.4M321.8 108.8h1.4M231.0 139.5h1.4M368.1 108.3h1.4M273.5 166.6h1.4M264.3 183.1h1.4M272.6 160.1h1.4M261.8 100.8h1.4M332.5 105.1h1.4M327.0 126.0h1.4M288.4 67.5h1.4" stroke="#333" stroke-opacity="0.60" stroke-width="1.40" fill="none"/>
</g>
<g fill="none" stroke="#111" stroke-width="1.35" stroke-linejoin="miter">
<rect x="184" y="65.2" width="70.5" height="60.8"/>
<rect x="184" y="139.6" width="68" height="48.5"/>
<polygon points="351.5,34 393.8,36 390,88 373.7,126.6 322.5,126.6 297.5,96.5"/>
<polygon points="318.2,150.3 376.2,148.3 374.8,186.2 314.5,186.2" stroke="#222"/>
</g>
<g stroke="#0a0a0a" stroke-width="1.4" fill="none">
<path d="M175.4 5.6V202.4"/>
<path d="M167.6 194H419.4"/>
<path d="M167.6 13.4H175.4"/>
<path d="M167.6 75.0H175.4"/>
<path d="M167.6 136.4H175.4"/>
<path d="M229.5 194V202.4"/>
<path d="M285.5 194V202.4"/>
<path d="M350.0 194V202.4"/>
</g>
<text x="175.5" y="219.5" font-size="10.4" text-anchor="start">10<tspan font-size="7.8" dy="-3.6">0</tspan></text>
<text x="223.0" y="219.5" font-size="10.4" text-anchor="start">10<tspan font-size="7.8" dy="-3.6">1</tspan></text>
<text x="280.0" y="219.5" font-size="10.4" text-anchor="start">10<tspan font-size="7.8" dy="-3.6">2</tspan></text>
<text x="342.5" y="219.5" font-size="10.4" text-anchor="start">10<tspan font-size="7.8" dy="-3.6">3</tspan></text>
<text x="163.3" y="16.7" font-size="10.4" text-anchor="start" transform="rotate(-90 163.3 16.7)">10<tspan font-size="7.8" dy="-4.4">3</tspan></text>
<text x="163.3" y="78.3" font-size="10.4" text-anchor="start" transform="rotate(-90 163.3 78.3)">10<tspan font-size="7.8" dy="-4.4">2</tspan></text>
<text x="163.3" y="139.7" font-size="10.4" text-anchor="start" transform="rotate(-90 163.3 139.7)">10<tspan font-size="7.8" dy="-4.4">1</tspan></text>
<text x="163.3" y="197.3" font-size="10.4" text-anchor="start" transform="rotate(-90 163.3 197.3)">10<tspan font-size="7.8" dy="-4.4">0</tspan></text>
<text x="207.3" y="254.5" font-size="18.3" stroke="none">CD4</text>
<path d="M253.8 245.8H306" stroke="#000" stroke-width="2" fill="none"/>
<polygon points="304.5,239.6 325.5,245.8 304.5,252" fill="#000"/>
<text x="131.6" y="182" font-size="18.3" stroke="none" transform="rotate(-90 131.6 182)">CD8</text>
<path d="M124.5 136.6V91" stroke="#000" stroke-width="2" fill="none"/>
<polygon points="118.2,92.8 124.5,72.2 130.8,92.8" fill="#000"/>
<g>
<path d="M43.8 445.2V398.8H46.1V386.4H48.4V373.4H50.7V351.8H53.0V330.6H55.3V309.8H57.6V302.7H59.9V302.7H62.2V302.7H64.5V302.7H66.8V302.7H69.1V302.7H71.4V302.7H73.7V302.7H76.0V308.4H78.3V323.4H80.6V337.4H82.9V358.0H85.2V384.1H87.5V406.5H89.8V419.9H92.1V427.0H94.4V432.5H96.7V439.1H99.0V442.2H101.3V442.6H103.6V443.1H105.9V443.3H108.2V443.4H110.5V443.4H112.8V443.5H115.1V443.6H117.4V443.8H119.7V444.0H122.0V444.2H124.3V445.2H125.0V445.2Z" fill="#8c8c8c" stroke="#0a0a0a" stroke-width="1.35" stroke-linejoin="miter"/>
<path d="M44.5 419.5V420.8H46.7V442.6H48.9V438.4H51.1V437.8H53.3V438.2H55.5V438.0H57.7V435.9H59.9V434.3H62.1V432.6H64.3V432.2H66.5V429.0H68.7V427.1H70.9V429.0H73.1V430.1H75.3V426.6H77.5V429.0H79.7V431.9H81.9V435.2H84.1V435.2H86.3V439.1H88.5V438.0H90.7V439.6H92.9V442.0H95.1V442.7H97.3V443.3H99.5V443.6H101.7V443.9H103.9V443.6H106.1V442.6H108.3V442.5H110.5V439.9H112.7V442.8H114.9V443.5H117.1V443.6H119.3V443.7H121.5V443.7H123.7V443.8H125.9V443.9H128.1V444.1H130.3V444.2H132.5V444.4H134.7V445.2H135.0" fill="none" stroke="#000" stroke-width="3.6" stroke-linejoin="miter"/>
<rect x="43.8" y="302.5" width="193.7" height="142.7" fill="none" stroke="#111" stroke-width="1.5"/>
<path d="M34.8 302.5H43.8M34.8 330.9H43.8M34.8 359.3H43.8M34.8 387.9H43.8M34.8 416.5H43.8M34.8 445.2H43.8M43.8 445.2V452.7M92.3 445.2V452.7M140.0 445.2V452.7M188.3 445.2V452.7M237.5 445.2V452.7" stroke="#111" stroke-width="1.2" fill="none"/>
<text x="32.2" y="303.1" font-size="10.6" text-anchor="middle" transform="rotate(-90 32.2 303.1)">200</text>
<text x="32.2" y="331.5" font-size="10.6" text-anchor="middle" transform="rotate(-90 32.2 331.5)">160</text>
<text x="32.2" y="359.9" font-size="10.6" text-anchor="middle" transform="rotate(-90 32.2 359.9)">120</text>
<text x="32.2" y="388.5" font-size="10.6" text-anchor="middle" transform="rotate(-90 32.2 388.5)">80</text>
<text x="32.2" y="417.1" font-size="10.6" text-anchor="middle" transform="rotate(-90 32.2 417.1)">40</text>
<text x="32.2" y="445.8" font-size="10.6" text-anchor="middle" transform="rotate(-90 32.2 445.8)">0</text>
<text x="38.0" y="466.4" font-size="10.8" text-anchor="start">10<tspan font-size="7.8" dy="-3.6">0</tspan></text>
<text x="86.5" y="466.4" font-size="10.8" text-anchor="start">10<tspan font-size="7.8" dy="-3.6">1</tspan></text>
<text x="134.2" y="466.4" font-size="10.8" text-anchor="start">10<tspan font-size="7.8" dy="-3.6">2</tspan></text>
<text x="182.5" y="466.4" font-size="10.8" text-anchor="start">10<tspan font-size="7.8" dy="-3.6">3</tspan></text>
<text x="231.7" y="466.4" font-size="10.8" text-anchor="start">10<tspan font-size="7.8" dy="-3.6">4</tspan></text>
<text x="14.2" y="372.7" font-size="16.2" text-anchor="middle" transform="rotate(-90 14.2 372.7)">Counts</text>
<text x="138.7" y="481.5" font-size="11" text-anchor="middle">FL1 - H</text>
<text x="180.7" y="321.3" font-size="11.5">CD4-/8-</text>
</g>
<g>
<path d="M321.9 446.3V398.3H324.2V387.1H326.5V376.2H328.8V362.6H331.1V353.2H333.4V336.0H335.7V321.7H338.0V308.8H340.3V302.8H342.6V302.8H344.9V302.8H347.2V302.8H349.5V302.8H351.8V302.8H354.1V302.8H356.4V302.8H358.7V302.8H361.0V321.6H363.3V333.0H365.6V349.0H367.9V370.6H370.2V393.7H372.5V409.5H374.8V425.7H377.1V435.3H379.4V440.3H381.7V441.3H384.0V443.1H386.3V443.8H388.6V444.6H390.9V446.3H391.0V446.3Z" fill="#8c8c8c" stroke="#0a0a0a" stroke-width="1.35" stroke-linejoin="miter"/>
<path d="M322.6 440.5V440.5H323.6V441.6H324.6V442.3H325.6V442.3H326.6V442.3H327.6V442.0H328.6V442.3H329.6V442.7H330.6V441.8H331.6V441.7H332.6V442.0H333.6V441.8H334.6V441.6H335.6V441.1H336.6V441.2H337.6V441.2H338.6V440.1H339.6V440.2H340.6V439.4H341.6V439.4H342.6V438.9H343.6V439.3H344.6V438.6H345.6V438.8H346.6V438.3H347.6V437.6H348.6V436.2H349.6V435.2H350.6V432.3H351.6V429.3H352.6V425.5H353.6V422.5H354.6V418.9H355.6V415.6H356.6V412.9H357.6V408.7H358.6V405.5H359.6V402.3H360.6V398.2H361.6V394.9H362.6V393.2H363.6V391.8H364.6V389.9H365.6V389.1H366.6V388.0H367.6V384.4H368.6V364.6H369.6V359.2H370.6V358.6H371.6V350.4H372.6V346.6H373.6V345.6H374.6V333.2H375.6V333.4H376.6V336.6H377.6V336.5H378.6V334.5H379.6V329.4H380.6V329.7H381.6V331.9H382.6V340.5H383.6V343.6H384.6V354.2H385.6V354.2H386.6V355.1H387.6V363.6H388.6V369.8H389.6V371.2H390.6V375.2H391.6V381.2H392.6V382.9H393.6V384.4H394.6V396.2H395.6V400.2H396.6V405.5H397.6V410.0H398.6V414.4H399.6V419.0H400.6V423.6H401.6V428.9H402.6V431.3H403.6V434.2H404.6V437.2H405.6V438.0H406.6V439.0H407.6V439.6H408.6V441.0H409.6V441.8H410.6V443.5H411.6V444.1H412.6V445.0H413.6V445.3H414.6V445.5H415.6V445.8H416.6V446.3H417.0" fill="none" stroke="#000" stroke-width="2.6" stroke-linejoin="miter"/>
<rect x="321.9" y="302.8" width="193.2" height="143.5" fill="none" stroke="#111" stroke-width="1.5"/>
<path d="M312.9 302.8H321.9M312.9 331.5H321.9M312.9 360.2H321.9M312.9 388.9H321.9M312.9 417.6H321.9M312.9 446.3H321.9M321.9 446.3V453.8M369.8 446.3V453.8M417.4 446.3V453.8M465.0 446.3V453.8M514.0 446.3V453.8" stroke="#111" stroke-width="1.2" fill="none"/>
<text x="310.8" y="303.4" font-size="10.6" text-anchor="middle" transform="rotate(-90 310.8 303.4)">200</text>
<text x="310.8" y="332.1" font-size="10.6" text-anchor="middle" transform="rotate(-90 310.8 332.1)">160</text>
<text x="310.8" y="360.8" font-size="10.6" text-anchor="middle" transform="rotate(-90 310.8 360.8)">120</text>
<text x="310.8" y="389.5" font-size="10.6" text-anchor="middle" transform="rotate(-90 310.8 389.5)">80</text>
<text x="310.8" y="418.2" font-size="10.6" text-anchor="middle" transform="rotate(-90 310.8 418.2)">40</text>
<text x="310.8" y="446.9" font-size="10.6" text-anchor="middle" transform="rotate(-90 310.8 446.9)">0</text>
<text x="316.1" y="466.7" font-size="10.8" text-anchor="start">10<tspan font-size="7.8" dy="-3.6">0</tspan></text>
<text x="364.0" y="466.7" font-size="10.8" text-anchor="start">10<tspan font-size="7.8" dy="-3.6">1</tspan></text>
<text x="411.6" y="466.7" font-size="10.8" text-anchor="start">10<tspan font-size="7.8" dy="-3.6">2</tspan></text>
<text x="459.2" y="466.7" font-size="10.8" text-anchor="start">10<tspan font-size="7.8" dy="-3.6">3</tspan></text>
<text x="503.0" y="466.7" font-size="10.8" text-anchor="start">10<tspan font-size="7.8" dy="-3.6">4</tspan></text>
<text x="291.8" y="375.7" font-size="16.2" text-anchor="middle" transform="rotate(-90 291.8 375.7)">Counts</text>
<text x="416.5" y="481.5" font-size="11" text-anchor="middle">FL1 - H</text>
<text x="465.1" y="321.6" font-size="11.5">CD4+/8+</text>
</g>
<g>
<path d="M44.0 657.6V601.2H46.3V586.0H48.6V576.1H50.9V559.1H53.2V540.2H55.5V515.7H57.8V513.6H60.1V513.6H62.4V513.6H64.7V513.6H67.0V513.6H69.3V513.6H71.6V513.6H73.9V513.6H76.2V513.6H78.5V532.8H80.8V553.9H83.1V572.3H85.4V602.5H87.7V618.1H90.0V637.9H92.3V647.8H94.6V649.9H96.9V651.1H99.2V652.1H101.5V653.2H103.8V652.9H106.1V654.1H108.4V653.4H110.7V653.9H113.0V655.4H115.3V654.8H117.6V654.6H119.9V654.9H122.2V655.2H124.5V655.4H126.8V655.7H129.1V656.0H131.4V656.4H133.7V656.7H136.0V657.6H136.5V657.6Z" fill="#8c8c8c" stroke="#0a0a0a" stroke-width="1.35" stroke-linejoin="miter"/>
<path d="M44.0 657.6V649.7H46.0V650.9H48.0V651.4H50.0V652.0H52.0V650.4H54.0V651.7H56.0V651.9H58.0V652.9H60.0V652.0H62.0V652.1H64.0V652.2H66.0V651.8H68.0V651.9H70.0V652.3H72.0V651.3H74.0V652.4H76.0V651.4H78.0V651.7H80.0V650.4H82.0V651.4H84.0V652.1H86.0V651.8H88.0V651.0H90.0V653.2H92.0V653.8H94.0V654.4H96.0V655.3H98.0V655.6H100.0V655.8H102.0V656.1H104.0V656.3H106.0V656.5H108.0V656.7H110.0V656.9H112.0V657.1H114.0V657.2H116.0V657.3H118.0V657.4H120.0V657.6Z" fill="#000" stroke="#000" stroke-width="1"/>
<rect x="44.0" y="513.6" width="193.9" height="144.0" fill="none" stroke="#111" stroke-width="1.5"/>
<path d="M35.0 513.6H44.0M35.0 541.0H44.0M35.0 570.4H44.0M35.0 599.1H44.0M35.0 627.9H44.0M35.0 657.6H44.0M44.0 657.6V665.1M92.2 657.6V665.1M140.0 657.6V665.1M188.4 657.6V665.1M237.9 657.6V665.1" stroke="#111" stroke-width="1.2" fill="none"/>
<text x="31.6" y="514.2" font-size="10.6" text-anchor="middle" transform="rotate(-90 31.6 514.2)">200</text>
<text x="31.6" y="541.6" font-size="10.6" text-anchor="middle" transform="rotate(-90 31.6 541.6)">160</text>
<text x="31.6" y="571.0" font-size="10.6" text-anchor="middle" transform="rotate(-90 31.6 571.0)">120</text>
<text x="31.6" y="599.7" font-size="10.6" text-anchor="middle" transform="rotate(-90 31.6 599.7)">80</text>
<text x="31.6" y="628.5" font-size="10.6" text-anchor="middle" transform="rotate(-90 31.6 628.5)">40</text>
<text x="31.6" y="658.2" font-size="10.6" text-anchor="middle" transform="rotate(-90 31.6 658.2)">0</text>
<text x="38.2" y="679.0" font-size="10.8" text-anchor="start">10<tspan font-size="7.8" dy="-3.6">0</tspan></text>
<text x="86.4" y="679.0" font-size="10.8" text-anchor="start">10<tspan font-size="7.8" dy="-3.6">1</tspan></text>
<text x="134.2" y="679.0" font-size="10.8" text-anchor="start">10<tspan font-size="7.8" dy="-3.6">2</tspan></text>
<text x="182.6" y="679.0" font-size="10.8" text-anchor="start">10<tspan font-size="7.8" dy="-3.6">3</tspan></text>
<text x="232.1" y="679.0" font-size="10.8" text-anchor="start">10<tspan font-size="7.8" dy="-3.6">4</tspan></text>
<text x="14.3" y="586.6" font-size="16.2" text-anchor="middle" transform="rotate(-90 14.3 586.6)">Counts</text>
<text x="138.9" y="693.2" font-size="11" text-anchor="middle">FL1 - H</text>
<text x="203.7" y="531.1" font-size="11.5">CD4</text>
</g>
<g>
<path d="M321.9 657.8V611.9H324.2V601.1H326.5V592.0H328.8V575.1H331.1V559.1H333.4V537.9H335.7V514.3H338.0V513.9H340.3V513.9H342.6V513.9H344.9V513.9H347.2V513.9H349.5V513.9H351.8V513.9H354.1V513.9H356.4V516.9H358.7V537.6H361.0V551.0H363.3V571.6H365.6V596.0H367.9V611.6H370.2V630.7H372.5V643.3H374.8V647.4H377.1V653.0H379.4V651.6H381.7V655.2H384.0V655.2H386.3V655.6H388.6V656.1H390.9V657.8H392.0V657.8Z" fill="#8c8c8c" stroke="#0a0a0a" stroke-width="1.35" stroke-linejoin="miter"/>
<path d="M346.2 656.1V656.1H347.8V652.8H349.4V653.9H351.0V651.4H352.6V653.9H354.2V654.3H355.8V652.1H357.4V652.2H359.0V651.0H360.6V649.3H362.2V646.8H363.8V642.2H365.4V647.3H367.0V646.6H368.6V648.6H370.2V645.0H371.8V642.7H373.4V642.1H375.0V645.3H376.6V643.6H378.2V646.2H379.8V643.9H381.4V644.8H383.0V643.5H384.6V649.8H386.2V648.2H387.8V648.7H389.4V650.9H391.0V649.9H392.6V653.5H394.2V652.8H395.8V655.1H397.4V655.3H399.0V655.4H400.6V655.6H402.2V655.8H403.8V655.9H405.4V656.1H407.0V656.3H408.6V656.7H410.2V657.1H411.8V657.8H412.0" fill="none" stroke="#000" stroke-width="2.8" stroke-linejoin="miter"/>
<rect x="321.9" y="513.9" width="193.3" height="143.9" fill="none" stroke="#111" stroke-width="1.5"/>
<path d="M312.9 514.0H321.9M312.9 543.0H321.9M312.9 571.8H321.9M312.9 600.6H321.9M312.9 629.4H321.9M312.9 657.8H321.9M321.9 657.8V665.3M369.9 657.8V665.3M416.8 657.8V665.3M465.0 657.8V665.3M514.0 657.8V665.3" stroke="#111" stroke-width="1.2" fill="none"/>
<text x="309.4" y="514.6" font-size="10.6" text-anchor="middle" transform="rotate(-90 309.4 514.6)">200</text>
<text x="309.4" y="543.6" font-size="10.6" text-anchor="middle" transform="rotate(-90 309.4 543.6)">160</text>
<text x="309.4" y="572.4" font-size="10.6" text-anchor="middle" transform="rotate(-90 309.4 572.4)">120</text>
<text x="309.4" y="601.2" font-size="10.6" text-anchor="middle" transform="rotate(-90 309.4 601.2)">80</text>
<text x="309.4" y="630.0" font-size="10.6" text-anchor="middle" transform="rotate(-90 309.4 630.0)">40</text>
<text x="309.4" y="658.4" font-size="10.6" text-anchor="middle" transform="rotate(-90 309.4 658.4)">0</text>
<text x="316.1" y="678.8" font-size="10.8" text-anchor="start">10<tspan font-size="7.8" dy="-3.6">0</tspan></text>
<text x="364.1" y="678.8" font-size="10.8" text-anchor="start">10<tspan font-size="7.8" dy="-3.6">1</tspan></text>
<text x="411.0" y="678.8" font-size="10.8" text-anchor="start">10<tspan font-size="7.8" dy="-3.6">2</tspan></text>
<text x="459.2" y="678.8" font-size="10.8" text-anchor="start">10<tspan font-size="7.8" dy="-3.6">3</tspan></text>
<text x="503.0" y="678.8" font-size="10.8" text-anchor="start">10<tspan font-size="7.8" dy="-3.6">4</tspan></text>
<text x="292.3" y="585.1" font-size="16.2" text-anchor="middle" transform="rotate(-90 292.3 585.1)">Counts</text>
<text x="416.6" y="692.8" font-size="11" text-anchor="middle">FL1 - H</text>
<text x="480.2" y="531.1" font-size="11.5">CD8</text>
</g>
</svg></body></html>
